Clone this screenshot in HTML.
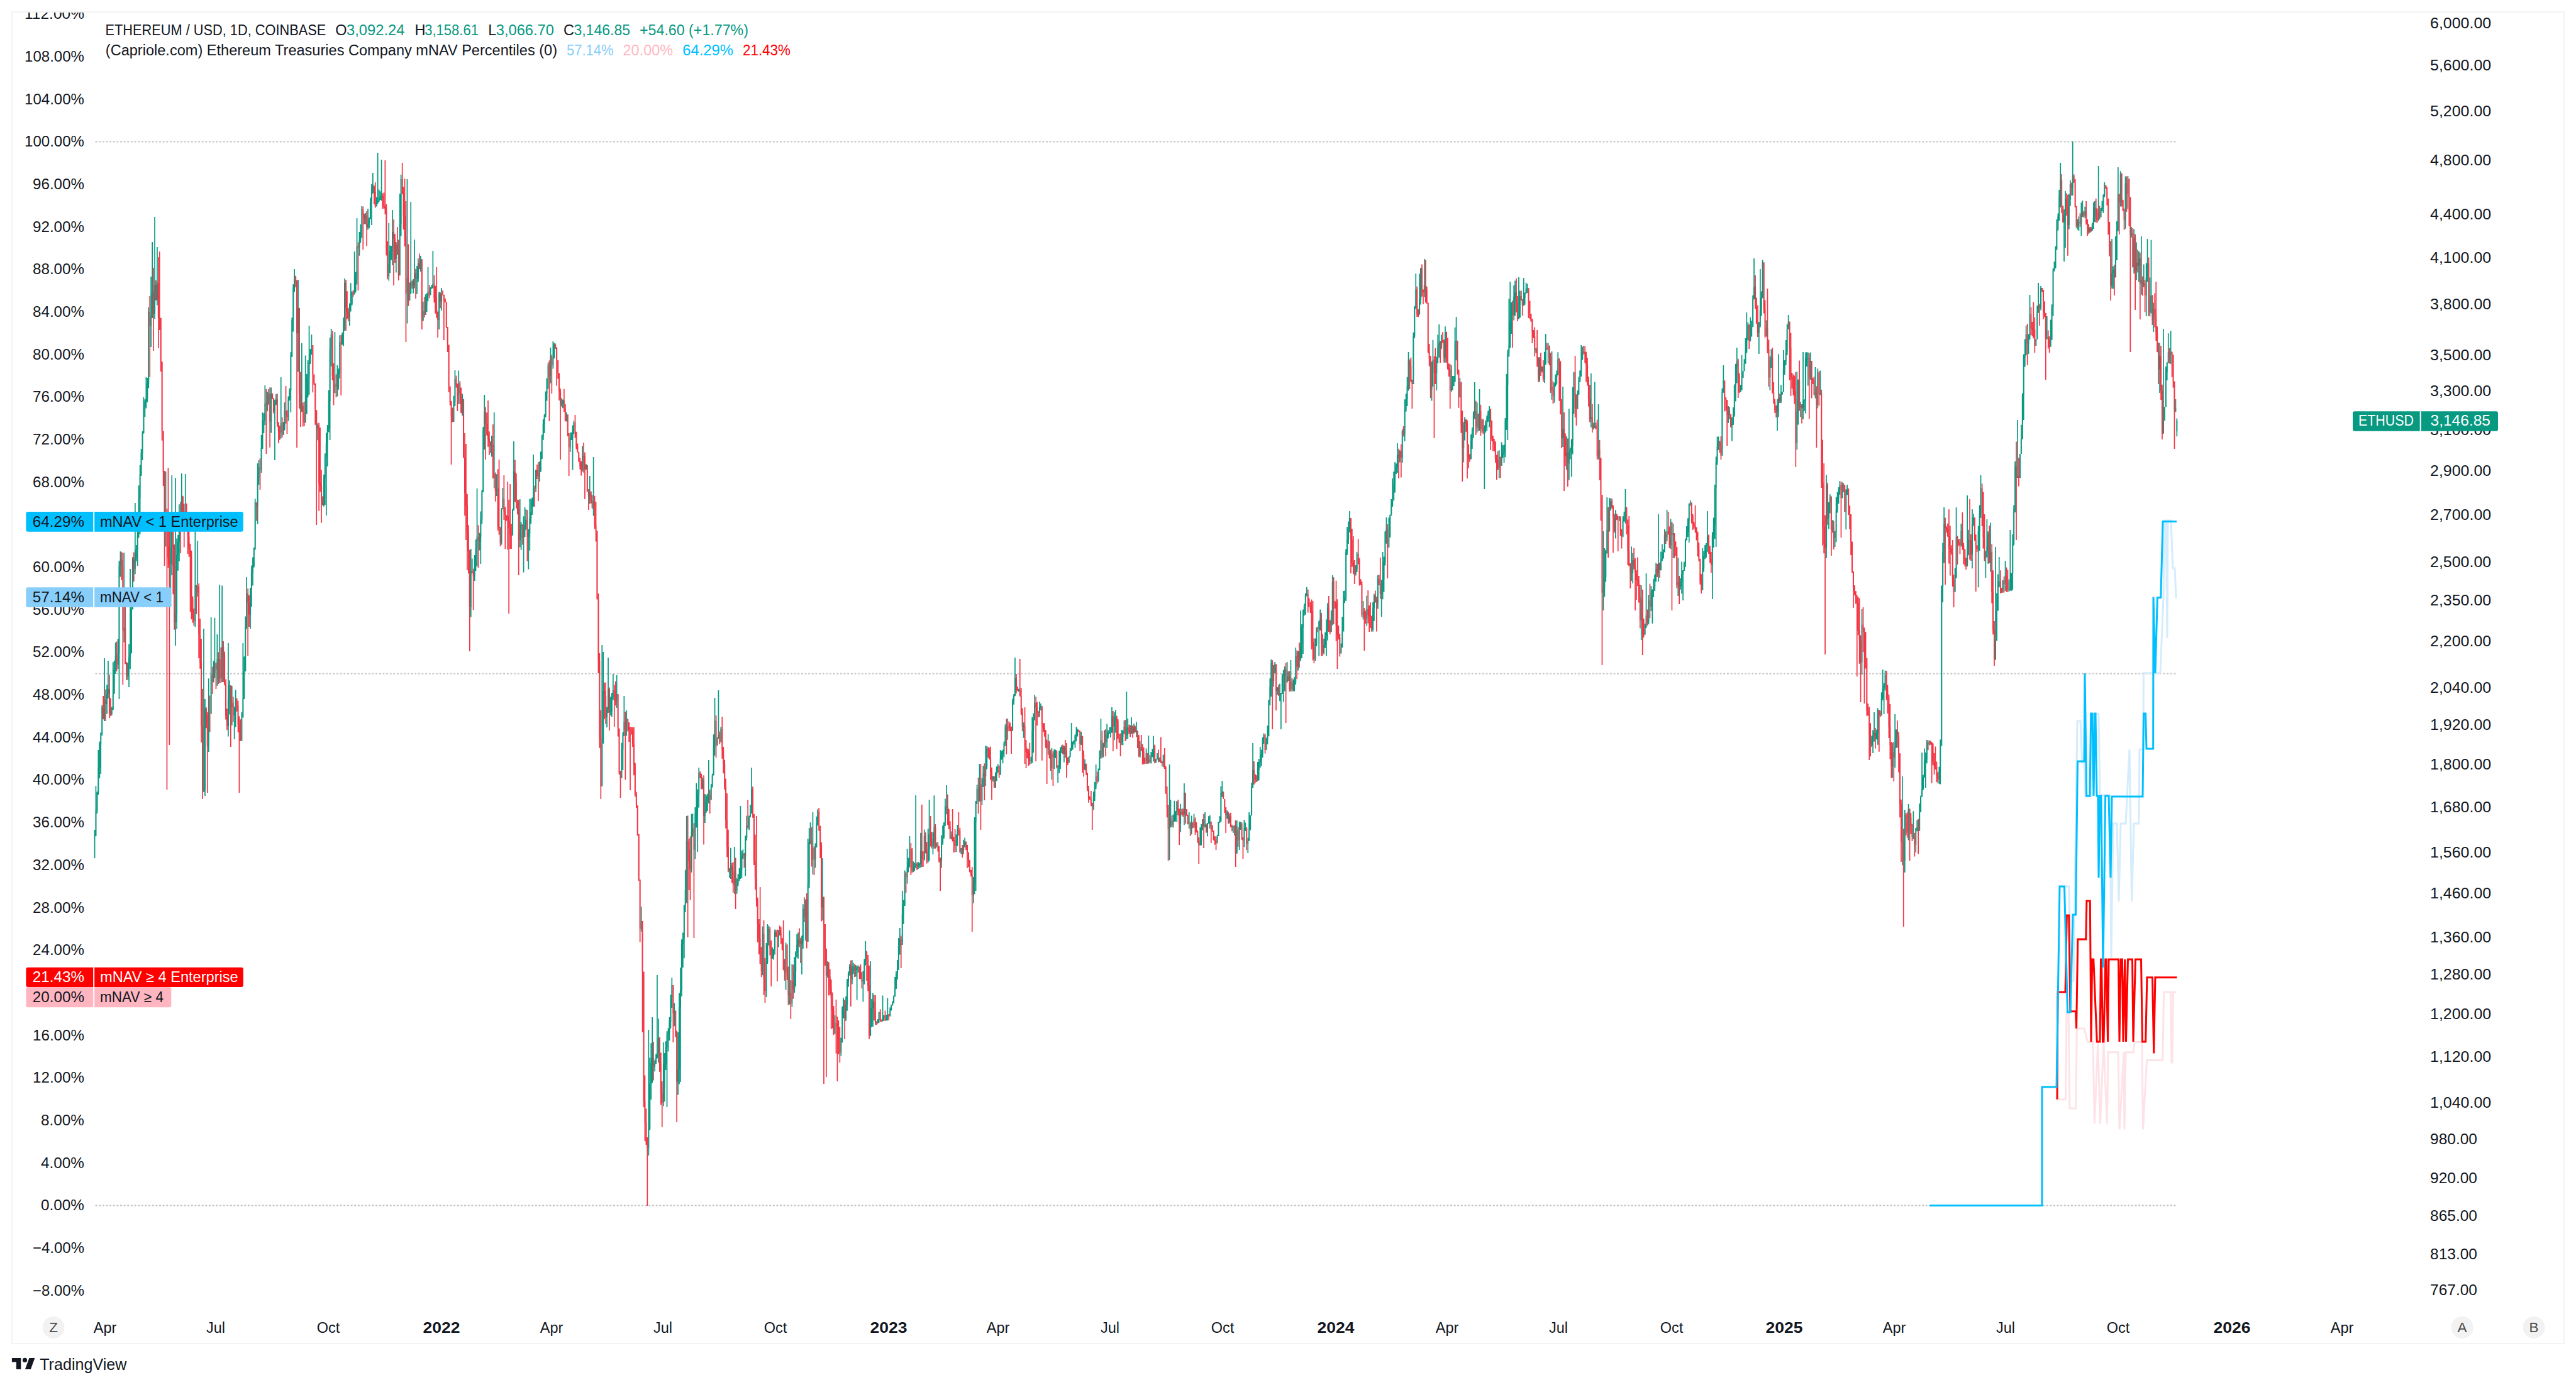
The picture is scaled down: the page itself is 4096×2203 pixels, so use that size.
<!DOCTYPE html>
<html><head><meta charset="utf-8"><title>ETHUSD</title>
<style>html,body{margin:0;padding:0;background:#fff;width:4096px;height:2203px;overflow:hidden}
svg{position:absolute;left:0;top:0;font-family:"Liberation Sans",sans-serif}</style></head>
<body><svg width="4096" height="2203" viewBox="0 0 4096 2203">
<defs><clipPath id="cp"><rect x="0" y="20" width="4096" height="2117"/></clipPath></defs><rect width="4096" height="2203" fill="#ffffff"/>
<rect x="19" y="19" width="4058" height="2118" fill="none" stroke="#f0f0f0" stroke-width="1.6"/><line x1="150" y1="225.4" x2="3461" y2="225.4" stroke="#c4c4c4" stroke-width="2" stroke-dasharray="3 2.64" stroke-dashoffset="-1.5"/><line x1="150" y1="1071.4" x2="3461" y2="1071.4" stroke="#c4c4c4" stroke-width="2" stroke-dasharray="3 2.64" stroke-dashoffset="-1.5"/><line x1="150" y1="1917.4" x2="3461" y2="1917.4" stroke="#c4c4c4" stroke-width="2" stroke-dasharray="3 2.64" stroke-dashoffset="-1.5"/><g clip-path="url(#cp)"><text x="134.0" y="30.2" fill="#131722" font-size="23.5" text-anchor="end" textLength="95.0" lengthAdjust="spacingAndGlyphs">112.00%</text><text x="134.0" y="97.9" fill="#131722" font-size="23.5" text-anchor="end" textLength="95.0" lengthAdjust="spacingAndGlyphs">108.00%</text><text x="134.0" y="165.6" fill="#131722" font-size="23.5" text-anchor="end" textLength="95.0" lengthAdjust="spacingAndGlyphs">104.00%</text><text x="134.0" y="233.2" fill="#131722" font-size="23.5" text-anchor="end" textLength="95.0" lengthAdjust="spacingAndGlyphs">100.00%</text><text x="134.0" y="300.9" fill="#131722" font-size="23.5" text-anchor="end" textLength="82.0" lengthAdjust="spacingAndGlyphs">96.00%</text><text x="134.0" y="368.6" fill="#131722" font-size="23.5" text-anchor="end" textLength="82.0" lengthAdjust="spacingAndGlyphs">92.00%</text><text x="134.0" y="436.3" fill="#131722" font-size="23.5" text-anchor="end" textLength="82.0" lengthAdjust="spacingAndGlyphs">88.00%</text><text x="134.0" y="504.0" fill="#131722" font-size="23.5" text-anchor="end" textLength="82.0" lengthAdjust="spacingAndGlyphs">84.00%</text><text x="134.0" y="571.6" fill="#131722" font-size="23.5" text-anchor="end" textLength="82.0" lengthAdjust="spacingAndGlyphs">80.00%</text><text x="134.0" y="639.3" fill="#131722" font-size="23.5" text-anchor="end" textLength="82.0" lengthAdjust="spacingAndGlyphs">76.00%</text><text x="134.0" y="707.0" fill="#131722" font-size="23.5" text-anchor="end" textLength="82.0" lengthAdjust="spacingAndGlyphs">72.00%</text><text x="134.0" y="774.7" fill="#131722" font-size="23.5" text-anchor="end" textLength="82.0" lengthAdjust="spacingAndGlyphs">68.00%</text><text x="134.0" y="842.4" fill="#131722" font-size="23.5" text-anchor="end" textLength="82.0" lengthAdjust="spacingAndGlyphs">64.00%</text><text x="134.0" y="910.1" fill="#131722" font-size="23.5" text-anchor="end" textLength="82.0" lengthAdjust="spacingAndGlyphs">60.00%</text><text x="134.0" y="977.7" fill="#131722" font-size="23.5" text-anchor="end" textLength="82.0" lengthAdjust="spacingAndGlyphs">56.00%</text><text x="134.0" y="1045.4" fill="#131722" font-size="23.5" text-anchor="end" textLength="82.0" lengthAdjust="spacingAndGlyphs">52.00%</text><text x="134.0" y="1113.1" fill="#131722" font-size="23.5" text-anchor="end" textLength="82.0" lengthAdjust="spacingAndGlyphs">48.00%</text><text x="134.0" y="1180.8" fill="#131722" font-size="23.5" text-anchor="end" textLength="82.0" lengthAdjust="spacingAndGlyphs">44.00%</text><text x="134.0" y="1248.4" fill="#131722" font-size="23.5" text-anchor="end" textLength="82.0" lengthAdjust="spacingAndGlyphs">40.00%</text><text x="134.0" y="1316.1" fill="#131722" font-size="23.5" text-anchor="end" textLength="82.0" lengthAdjust="spacingAndGlyphs">36.00%</text><text x="134.0" y="1383.8" fill="#131722" font-size="23.5" text-anchor="end" textLength="82.0" lengthAdjust="spacingAndGlyphs">32.00%</text><text x="134.0" y="1451.5" fill="#131722" font-size="23.5" text-anchor="end" textLength="82.0" lengthAdjust="spacingAndGlyphs">28.00%</text><text x="134.0" y="1519.2" fill="#131722" font-size="23.5" text-anchor="end" textLength="82.0" lengthAdjust="spacingAndGlyphs">24.00%</text><text x="134.0" y="1586.8" fill="#131722" font-size="23.5" text-anchor="end" textLength="82.0" lengthAdjust="spacingAndGlyphs">20.00%</text><text x="134.0" y="1654.5" fill="#131722" font-size="23.5" text-anchor="end" textLength="82.0" lengthAdjust="spacingAndGlyphs">16.00%</text><text x="134.0" y="1722.2" fill="#131722" font-size="23.5" text-anchor="end" textLength="82.0" lengthAdjust="spacingAndGlyphs">12.00%</text><text x="134.0" y="1789.9" fill="#131722" font-size="23.5" text-anchor="end" textLength="69.0" lengthAdjust="spacingAndGlyphs">8.00%</text><text x="134.0" y="1857.6" fill="#131722" font-size="23.5" text-anchor="end" textLength="69.0" lengthAdjust="spacingAndGlyphs">4.00%</text><text x="134.0" y="1925.2" fill="#131722" font-size="23.5" text-anchor="end" textLength="69.0" lengthAdjust="spacingAndGlyphs">0.00%</text><text x="134.0" y="1992.9" fill="#131722" font-size="23.5" text-anchor="end" textLength="82.0" lengthAdjust="spacingAndGlyphs">−4.00%</text><text x="134.0" y="2060.6" fill="#131722" font-size="23.5" text-anchor="end" textLength="82.0" lengthAdjust="spacingAndGlyphs">−8.00%</text></g><text x="3864.0" y="44.6" fill="#131722" font-size="23.5" textLength="97.2" lengthAdjust="spacingAndGlyphs">6,000.00</text><text x="3864.0" y="112.2" fill="#131722" font-size="23.5" textLength="97.2" lengthAdjust="spacingAndGlyphs">5,600.00</text><text x="3864.0" y="184.8" fill="#131722" font-size="23.5" textLength="97.2" lengthAdjust="spacingAndGlyphs">5,200.00</text><text x="3864.0" y="263.3" fill="#131722" font-size="23.5" textLength="97.2" lengthAdjust="spacingAndGlyphs">4,800.00</text><text x="3864.0" y="348.5" fill="#131722" font-size="23.5" textLength="97.2" lengthAdjust="spacingAndGlyphs">4,400.00</text><text x="3864.0" y="417.7" fill="#131722" font-size="23.5" textLength="97.2" lengthAdjust="spacingAndGlyphs">4,100.00</text><text x="3864.0" y="492.1" fill="#131722" font-size="23.5" textLength="97.2" lengthAdjust="spacingAndGlyphs">3,800.00</text><text x="3864.0" y="572.7" fill="#131722" font-size="23.5" textLength="97.2" lengthAdjust="spacingAndGlyphs">3,500.00</text><text x="3864.0" y="630.4" fill="#131722" font-size="23.5" textLength="97.2" lengthAdjust="spacingAndGlyphs">3,300.00</text><text x="3864.0" y="691.6" fill="#131722" font-size="23.5" textLength="97.2" lengthAdjust="spacingAndGlyphs">3,100.00</text><text x="3864.0" y="756.9" fill="#131722" font-size="23.5" textLength="97.2" lengthAdjust="spacingAndGlyphs">2,900.00</text><text x="3864.0" y="826.9" fill="#131722" font-size="23.5" textLength="97.2" lengthAdjust="spacingAndGlyphs">2,700.00</text><text x="3864.0" y="902.3" fill="#131722" font-size="23.5" textLength="97.2" lengthAdjust="spacingAndGlyphs">2,500.00</text><text x="3864.0" y="963.0" fill="#131722" font-size="23.5" textLength="97.2" lengthAdjust="spacingAndGlyphs">2,350.00</text><text x="3864.0" y="1027.6" fill="#131722" font-size="23.5" textLength="97.2" lengthAdjust="spacingAndGlyphs">2,200.00</text><text x="3864.0" y="1101.6" fill="#131722" font-size="23.5" textLength="97.2" lengthAdjust="spacingAndGlyphs">2,040.00</text><text x="3864.0" y="1161.0" fill="#131722" font-size="23.5" textLength="97.2" lengthAdjust="spacingAndGlyphs">1,920.00</text><text x="3864.0" y="1224.2" fill="#131722" font-size="23.5" textLength="97.2" lengthAdjust="spacingAndGlyphs">1,800.00</text><text x="3864.0" y="1291.8" fill="#131722" font-size="23.5" textLength="97.2" lengthAdjust="spacingAndGlyphs">1,680.00</text><text x="3864.0" y="1364.4" fill="#131722" font-size="23.5" textLength="97.2" lengthAdjust="spacingAndGlyphs">1,560.00</text><text x="3864.0" y="1429.3" fill="#131722" font-size="23.5" textLength="97.2" lengthAdjust="spacingAndGlyphs">1,460.00</text><text x="3864.0" y="1498.8" fill="#131722" font-size="23.5" textLength="97.2" lengthAdjust="spacingAndGlyphs">1,360.00</text><text x="3864.0" y="1558.2" fill="#131722" font-size="23.5" textLength="97.2" lengthAdjust="spacingAndGlyphs">1,280.00</text><text x="3864.0" y="1621.4" fill="#131722" font-size="23.5" textLength="97.2" lengthAdjust="spacingAndGlyphs">1,200.00</text><text x="3864.0" y="1689.0" fill="#131722" font-size="23.5" textLength="97.2" lengthAdjust="spacingAndGlyphs">1,120.00</text><text x="3864.0" y="1761.6" fill="#131722" font-size="23.5" textLength="97.2" lengthAdjust="spacingAndGlyphs">1,040.00</text><text x="3864.0" y="1819.8" fill="#131722" font-size="23.5" textLength="75.0" lengthAdjust="spacingAndGlyphs">980.00</text><text x="3864.0" y="1881.7" fill="#131722" font-size="23.5" textLength="75.0" lengthAdjust="spacingAndGlyphs">920.00</text><text x="3864.0" y="1942.1" fill="#131722" font-size="23.5" textLength="75.0" lengthAdjust="spacingAndGlyphs">865.00</text><text x="3864.0" y="2002.9" fill="#131722" font-size="23.5" textLength="75.0" lengthAdjust="spacingAndGlyphs">813.00</text><text x="3864.0" y="2059.9" fill="#131722" font-size="23.5" textLength="75.0" lengthAdjust="spacingAndGlyphs">767.00</text><text x="167.0" y="2120.0" fill="#131722" font-size="23.5" text-anchor="middle">Apr</text><text x="343.0" y="2120.0" fill="#131722" font-size="23.5" text-anchor="middle">Jul</text><text x="522.0" y="2120.0" fill="#131722" font-size="23.5" text-anchor="middle">Oct</text><text x="702.0" y="2120.0" fill="#131722" font-size="23.5" text-anchor="middle" font-weight="bold" textLength="59.0" lengthAdjust="spacingAndGlyphs">2022</text><text x="877.0" y="2120.0" fill="#131722" font-size="23.5" text-anchor="middle">Apr</text><text x="1054.0" y="2120.0" fill="#131722" font-size="23.5" text-anchor="middle">Jul</text><text x="1233.0" y="2120.0" fill="#131722" font-size="23.5" text-anchor="middle">Oct</text><text x="1413.0" y="2120.0" fill="#131722" font-size="23.5" text-anchor="middle" font-weight="bold" textLength="59.0" lengthAdjust="spacingAndGlyphs">2023</text><text x="1587.0" y="2120.0" fill="#131722" font-size="23.5" text-anchor="middle">Apr</text><text x="1765.0" y="2120.0" fill="#131722" font-size="23.5" text-anchor="middle">Jul</text><text x="1944.0" y="2120.0" fill="#131722" font-size="23.5" text-anchor="middle">Oct</text><text x="2124.0" y="2120.0" fill="#131722" font-size="23.5" text-anchor="middle" font-weight="bold" textLength="59.0" lengthAdjust="spacingAndGlyphs">2024</text><text x="2301.0" y="2120.0" fill="#131722" font-size="23.5" text-anchor="middle">Apr</text><text x="2478.0" y="2120.0" fill="#131722" font-size="23.5" text-anchor="middle">Jul</text><text x="2658.0" y="2120.0" fill="#131722" font-size="23.5" text-anchor="middle">Oct</text><text x="2837.0" y="2120.0" fill="#131722" font-size="23.5" text-anchor="middle" font-weight="bold" textLength="59.0" lengthAdjust="spacingAndGlyphs">2025</text><text x="3012.0" y="2120.0" fill="#131722" font-size="23.5" text-anchor="middle">Apr</text><text x="3189.0" y="2120.0" fill="#131722" font-size="23.5" text-anchor="middle">Jul</text><text x="3368.0" y="2120.0" fill="#131722" font-size="23.5" text-anchor="middle">Oct</text><text x="3549.0" y="2120.0" fill="#131722" font-size="23.5" text-anchor="middle" font-weight="bold" textLength="59.0" lengthAdjust="spacingAndGlyphs">2026</text><text x="3724.0" y="2120.0" fill="#131722" font-size="23.5" text-anchor="middle">Apr</text><circle cx="85" cy="2111.5" r="17.5" fill="#f2f2f2"/><text x="85.0" y="2118.5" fill="#4a4a4a" font-size="22.5" text-anchor="middle">Z</text><circle cx="3915" cy="2111.5" r="17.5" fill="#f2f2f2"/><text x="3915.0" y="2118.5" fill="#4a4a4a" font-size="22.5" text-anchor="middle">A</text><circle cx="4029" cy="2111.5" r="17.5" fill="#f2f2f2"/><text x="4029.0" y="2118.5" fill="#4a4a4a" font-size="22.5" text-anchor="middle">B</text>
<path fill="#089981" d="M149.7 1320.1h1.7v44.9h-1.7zM149.5 1330.0h2.1v2.0h-2.1zM151.6 1250.0h1.7v80.0h-1.7zM151.4 1288.8h2.1v41.2h-2.1zM153.6 1259.2h1.7v34.8h-1.7zM153.4 1260.5h2.1v28.3h-2.1zM155.5 1193.0h1.7v71.3h-1.7zM155.3 1220.7h2.1v39.7h-2.1zM157.5 1179.4h1.7v58.4h-1.7zM157.3 1183.6h2.1v37.2h-2.1zM159.4 1164.9h1.7v66.1h-1.7zM159.2 1166.2h2.1v17.4h-2.1zM161.4 1121.6h1.7v48.5h-1.7zM161.2 1125.3h2.1v40.8h-2.1zM165.3 1047.0h1.7v99.9h-1.7zM165.1 1113.9h2.1v29.6h-2.1zM169.2 1088.9h1.7v46.9h-1.7zM169.0 1103.4h2.1v16.6h-2.1zM171.1 1051.0h1.7v60.0h-1.7zM170.9 1095.8h2.1v7.6h-2.1zM176.9 1124.2h1.7v13.6h-1.7zM176.7 1129.1h2.1v5.8h-2.1zM178.9 1053.2h1.7v76.0h-1.7zM178.7 1103.6h2.1v25.5h-2.1zM180.8 1050.8h1.7v52.8h-1.7zM180.6 1064.8h2.1v38.9h-2.1zM182.8 1022.0h1.7v50.1h-1.7zM182.6 1044.0h2.1v20.8h-2.1zM186.7 1016.0h1.7v48.1h-1.7zM186.5 1038.8h2.1v18.3h-2.1zM188.6 892.3h1.7v219.7h-1.7zM188.4 900.2h2.1v138.5h-2.1zM190.6 877.0h1.7v40.5h-1.7zM190.4 890.4h2.1v9.8h-2.1zM196.4 879.3h1.7v142.4h-1.7zM196.2 998.7h2.1v4.6h-2.1zM202.3 1054.0h1.7v27.7h-1.7zM202.1 1054.7h2.1v20.5h-2.1zM204.2 1024.4h1.7v68.6h-1.7zM204.0 1045.2h2.1v9.5h-2.1zM206.2 905.0h1.7v159.2h-1.7zM206.0 1039.3h2.1v5.9h-2.1zM208.1 956.1h1.7v83.2h-1.7zM207.9 969.5h2.1v69.8h-2.1zM210.1 885.9h1.7v83.6h-1.7zM209.9 888.6h2.1v80.8h-2.1zM214.0 800.0h1.7v113.2h-1.7zM213.8 888.7h2.1v16.0h-2.1zM215.9 866.9h1.7v26.0h-1.7zM215.7 874.0h2.1v14.7h-2.1zM217.9 829.2h1.7v70.8h-1.7zM217.7 842.2h2.1v31.8h-2.1zM219.8 772.2h1.7v83.2h-1.7zM219.6 792.2h2.1v50.1h-2.1zM221.8 739.8h1.7v110.2h-1.7zM221.6 754.6h2.1v37.5h-2.1zM223.7 714.0h1.7v42.9h-1.7zM223.5 720.4h2.1v34.2h-2.1zM225.7 686.1h1.7v45.9h-1.7zM225.5 688.8h2.1v31.7h-2.1zM227.6 631.8h1.7v57.7h-1.7zM227.4 647.3h2.1v41.4h-2.1zM229.6 635.3h1.7v27.7h-1.7zM229.4 639.3h2.1v8.0h-2.1zM231.5 600.0h1.7v49.4h-1.7zM231.3 633.5h2.1v5.9h-2.1zM233.5 601.0h1.7v39.0h-1.7zM233.3 611.0h2.1v22.5h-2.1zM235.4 488.6h1.7v128.8h-1.7zM235.2 496.1h2.1v114.8h-2.1zM239.3 440.0h1.7v111.9h-1.7zM239.1 503.9h2.1v14.3h-2.1zM241.3 385.0h1.7v121.0h-1.7zM241.1 464.3h2.1v39.6h-2.1zM245.2 345.0h1.7v162.2h-1.7zM245.0 453.3h2.1v45.7h-2.1zM249.1 393.0h1.7v92.6h-1.7zM248.9 450.1h2.1v26.9h-2.1zM262.7 750.0h1.7v119.4h-1.7zM262.5 816.1h2.1v6.2h-2.1zM270.5 822.9h1.7v142.1h-1.7zM270.3 871.8h2.1v25.8h-2.1zM272.4 756.1h1.7v158.9h-1.7zM272.2 845.4h2.1v26.4h-2.1zM278.3 760.0h1.7v267.0h-1.7zM278.1 976.8h2.1v13.1h-2.1zM280.2 856.4h1.7v144.1h-1.7zM280.0 882.6h2.1v94.2h-2.1zM282.2 851.1h1.7v56.7h-1.7zM282.0 861.9h2.1v20.6h-2.1zM284.1 802.2h1.7v90.7h-1.7zM283.9 820.5h2.1v41.5h-2.1zM288.0 753.0h1.7v82.5h-1.7zM287.8 790.6h2.1v32.4h-2.1zM293.9 754.1h1.7v77.0h-1.7zM293.7 813.8h2.1v8.5h-2.1zM309.5 845.0h1.7v151.9h-1.7zM309.3 931.0h2.1v56.8h-2.1zM313.4 860.0h1.7v89.0h-1.7zM313.2 932.5h2.1v9.0h-2.1zM323.1 1000.0h1.7v260.1h-1.7zM322.9 1256.3h2.1v1.1h-2.1zM325.1 1111.9h1.7v154.3h-1.7zM324.9 1127.4h2.1v128.9h-2.1zM330.9 1079.2h1.7v116.7h-1.7zM330.7 1135.0h2.1v52.3h-2.1zM334.8 982.0h1.7v153.6h-1.7zM334.6 1073.0h2.1v62.6h-2.1zM338.7 1051.1h1.7v34.4h-1.7zM338.5 1070.3h2.1v14.2h-2.1zM340.6 982.7h1.7v95.9h-1.7zM340.4 1054.7h2.1v15.5h-2.1zM344.5 1009.1h1.7v81.9h-1.7zM344.3 1048.6h2.1v17.2h-2.1zM348.4 930.0h1.7v156.5h-1.7zM348.2 1048.3h2.1v32.1h-2.1zM352.3 931.6h1.7v153.5h-1.7zM352.1 1029.0h2.1v49.1h-2.1zM362.1 1023.0h1.7v148.6h-1.7zM361.9 1112.6h2.1v42.3h-2.1zM364.0 1082.3h1.7v54.3h-1.7zM363.8 1089.9h2.1v22.7h-2.1zM367.9 1091.0h1.7v63.1h-1.7zM367.7 1117.8h2.1v7.4h-2.1zM371.8 1124.0h1.7v51.9h-1.7zM371.6 1133.1h2.1v5.2h-2.1zM373.8 1097.2h1.7v59.4h-1.7zM373.6 1110.8h2.1v22.3h-2.1zM383.5 1132.4h1.7v46.0h-1.7zM383.3 1141.4h2.1v36.9h-2.1zM385.5 1023.0h1.7v118.4h-1.7zM385.3 1112.0h2.1v29.4h-2.1zM387.4 1044.2h1.7v67.8h-1.7zM387.2 1067.7h2.1v44.4h-2.1zM389.4 980.5h1.7v87.4h-1.7zM389.2 996.7h2.1v70.9h-2.1zM391.3 918.0h1.7v82.2h-1.7zM391.1 943.4h2.1v53.3h-2.1zM397.2 935.1h1.7v64.9h-1.7zM397.0 937.1h2.1v40.4h-2.1zM399.1 899.5h1.7v65.7h-1.7zM398.9 911.7h2.1v25.4h-2.1zM401.1 886.4h1.7v45.2h-1.7zM400.9 900.6h2.1v11.1h-2.1zM403.0 871.1h1.7v31.4h-1.7zM402.8 871.6h2.1v29.0h-2.1zM404.9 793.6h1.7v80.8h-1.7zM404.7 799.2h2.1v72.4h-2.1zM408.8 737.1h1.7v96.4h-1.7zM408.6 761.1h2.1v44.5h-2.1zM410.8 732.0h1.7v39.2h-1.7zM410.6 743.2h2.1v17.9h-2.1zM414.7 692.1h1.7v59.9h-1.7zM414.5 712.6h2.1v35.0h-2.1zM416.6 656.0h1.7v57.9h-1.7zM416.4 669.6h2.1v43.0h-2.1zM418.6 657.3h1.7v31.8h-1.7zM418.4 668.4h2.1v1.2h-2.1zM420.5 613.0h1.7v63.3h-1.7zM420.3 641.8h2.1v26.6h-2.1zM424.4 623.0h1.7v31.2h-1.7zM424.2 640.1h2.1v6.0h-2.1zM426.4 618.8h1.7v24.6h-1.7zM426.2 626.2h2.1v13.9h-2.1zM430.3 616.6h1.7v71.8h-1.7zM430.1 625.8h2.1v44.6h-2.1zM436.1 635.7h1.7v96.3h-1.7zM435.9 643.3h2.1v11.1h-2.1zM438.1 627.0h1.7v17.2h-1.7zM437.9 635.3h2.1v8.0h-2.1zM445.9 600.0h1.7v97.5h-1.7zM445.7 673.1h2.1v14.5h-2.1zM449.8 671.0h1.7v21.1h-1.7zM449.6 680.1h2.1v11.3h-2.1zM451.7 640.1h1.7v44.3h-1.7zM451.5 653.8h2.1v26.3h-2.1zM457.6 630.5h1.7v39.3h-1.7zM457.4 635.8h2.1v27.4h-2.1zM459.5 617.8h1.7v19.4h-1.7zM459.3 622.0h2.1v13.8h-2.1zM461.5 560.3h1.7v95.7h-1.7zM461.3 567.4h2.1v54.6h-2.1zM463.4 505.3h1.7v62.6h-1.7zM463.2 509.5h2.1v58.0h-2.1zM465.4 452.3h1.7v75.3h-1.7zM465.2 459.0h2.1v50.5h-2.1zM467.3 428.0h1.7v36.3h-1.7zM467.1 439.7h2.1v19.3h-2.1zM473.2 444.9h1.7v146.7h-1.7zM473.0 489.8h2.1v40.5h-2.1zM479.0 546.0h1.7v109.3h-1.7zM478.8 646.0h2.1v6.3h-2.1zM484.8 565.5h1.7v107.0h-1.7zM484.6 658.6h2.1v13.8h-2.1zM486.8 594.7h1.7v63.9h-1.7zM486.6 629.5h2.1v29.1h-2.1zM488.7 572.9h1.7v59.4h-1.7zM488.5 600.6h2.1v28.9h-2.1zM490.7 518.0h1.7v109.8h-1.7zM490.5 576.2h2.1v24.3h-2.1zM492.6 555.0h1.7v24.0h-1.7zM492.4 562.8h2.1v13.4h-2.1zM494.6 532.3h1.7v31.7h-1.7zM494.4 549.0h2.1v13.8h-2.1zM504.3 673.3h1.7v27.0h-1.7zM504.1 675.7h2.1v6.3h-2.1zM514.1 754.7h1.7v51.1h-1.7zM513.9 759.9h2.1v43.7h-2.1zM516.0 721.3h1.7v81.7h-1.7zM515.8 727.3h2.1v32.6h-2.1zM518.0 688.5h1.7v131.5h-1.7zM517.8 705.3h2.1v22.0h-2.1zM519.9 676.1h1.7v65.9h-1.7zM519.7 681.4h2.1v23.9h-2.1zM521.9 620.5h1.7v67.0h-1.7zM521.7 637.9h2.1v43.5h-2.1zM523.8 537.1h1.7v162.9h-1.7zM523.6 554.9h2.1v83.0h-2.1zM525.8 523.0h1.7v59.8h-1.7zM525.6 532.3h2.1v22.6h-2.1zM531.6 528.0h1.7v97.3h-1.7zM531.4 610.4h2.1v14.7h-2.1zM535.5 581.0h1.7v49.4h-1.7zM535.3 594.0h2.1v21.9h-2.1zM537.5 586.3h1.7v33.5h-1.7zM537.3 589.3h2.1v4.7h-2.1zM539.4 533.3h1.7v68.6h-1.7zM539.2 544.0h2.1v45.3h-2.1zM543.3 529.1h1.7v19.4h-1.7zM543.1 531.0h2.1v15.7h-2.1zM545.3 504.9h1.7v45.5h-1.7zM545.1 517.7h2.1v13.4h-2.1zM547.2 443.0h1.7v82.9h-1.7zM547.0 449.8h2.1v67.9h-2.1zM555.0 482.6h1.7v35.4h-1.7zM554.8 486.8h2.1v19.5h-2.1zM556.9 450.2h1.7v45.3h-1.7zM556.7 483.2h2.1v3.6h-2.1zM558.9 463.3h1.7v22.2h-1.7zM558.7 464.8h2.1v18.4h-2.1zM562.8 400.0h1.7v68.6h-1.7zM562.6 463.2h2.1v5.4h-2.1zM564.7 432.5h1.7v32.7h-1.7zM564.5 444.2h2.1v18.9h-2.1zM566.7 347.0h1.7v105.6h-1.7zM566.5 391.1h2.1v53.1h-2.1zM570.6 369.1h1.7v37.6h-1.7zM570.4 381.0h2.1v13.8h-2.1zM572.5 356.8h1.7v29.1h-1.7zM572.3 367.6h2.1v13.4h-2.1zM574.5 328.0h1.7v50.0h-1.7zM574.3 333.2h2.1v34.4h-2.1zM580.3 338.7h1.7v18.0h-1.7zM580.1 342.8h2.1v5.2h-2.1zM584.2 331.9h1.7v33.7h-1.7zM584.0 356.1h2.1v5.2h-2.1zM586.2 346.0h1.7v17.2h-1.7zM586.0 348.3h2.1v7.8h-2.1zM588.1 314.5h1.7v34.0h-1.7zM587.9 320.7h2.1v27.6h-2.1zM590.1 292.7h1.7v65.3h-1.7zM589.9 306.4h2.1v14.3h-2.1zM592.0 275.0h1.7v32.7h-1.7zM591.8 296.4h2.1v10.0h-2.1zM597.9 313.4h1.7v15.0h-1.7zM597.7 322.8h2.1v5.7h-2.1zM599.8 243.0h1.7v81.0h-1.7zM599.6 320.1h2.1v2.6h-2.1zM601.8 301.5h1.7v19.6h-1.7zM601.6 317.5h2.1v2.6h-2.1zM603.7 304.2h1.7v13.9h-1.7zM603.5 314.8h2.1v2.6h-2.1zM605.7 254.0h1.7v65.3h-1.7zM605.5 311.9h2.1v2.9h-2.1zM617.4 355.0h1.7v91.5h-1.7zM617.2 419.9h2.1v19.9h-2.1zM619.3 390.6h1.7v43.5h-1.7zM619.1 399.7h2.1v20.1h-2.1zM621.3 390.9h1.7v22.8h-1.7zM621.1 392.3h2.1v7.4h-2.1zM623.2 334.0h1.7v87.9h-1.7zM623.0 369.0h2.1v23.3h-2.1zM629.0 385.0h1.7v48.4h-1.7zM628.8 388.6h2.1v23.1h-2.1zM634.9 308.0h1.7v130.3h-1.7zM634.7 355.9h2.1v82.4h-2.1zM636.8 277.8h1.7v97.6h-1.7zM636.6 284.8h2.1v71.1h-2.1zM646.6 285.0h1.7v229.4h-1.7zM646.4 441.8h2.1v25.3h-2.1zM650.5 449.4h1.7v28.8h-1.7zM650.3 467.3h2.1v10.9h-2.1zM652.4 321.0h1.7v146.3h-1.7zM652.2 448.3h2.1v19.0h-2.1zM656.3 444.1h1.7v22.4h-1.7zM656.1 453.0h2.1v1.7h-2.1zM658.3 381.0h1.7v77.5h-1.7zM658.1 434.5h2.1v18.5h-2.1zM662.2 423.1h1.7v44.7h-1.7zM662.0 443.0h2.1v1.0h-2.1zM664.1 411.1h1.7v37.5h-1.7zM663.9 418.4h2.1v24.6h-2.1zM668.0 407.0h1.7v25.0h-1.7zM667.8 414.2h2.1v13.0h-2.1zM671.9 479.7h1.7v30.9h-1.7zM671.7 495.1h2.1v15.3h-2.1zM675.8 468.3h1.7v32.6h-1.7zM675.6 484.8h2.1v16.1h-2.1zM677.8 466.2h1.7v29.8h-1.7zM677.6 470.9h2.1v14.0h-2.1zM679.7 425.0h1.7v54.0h-1.7zM679.5 463.6h2.1v7.3h-2.1zM683.6 456.7h1.7v12.8h-1.7zM683.4 459.6h2.1v9.9h-2.1zM685.6 453.3h1.7v6.3h-1.7zM685.4 453.9h2.1v5.7h-2.1zM687.5 399.0h1.7v59.3h-1.7zM687.3 451.4h2.1v2.5h-2.1zM697.3 464.0h1.7v60.1h-1.7zM697.1 467.0h2.1v42.2h-2.1zM701.1 458.0h1.7v36.0h-1.7zM701.0 468.6h2.1v10.9h-2.1zM720.6 629.5h1.7v41.6h-1.7zM720.4 639.2h2.1v31.9h-2.1zM722.6 589.0h1.7v57.0h-1.7zM722.4 603.0h2.1v36.2h-2.1zM728.4 589.6h1.7v52.9h-1.7zM728.2 609.4h2.1v19.8h-2.1zM734.3 626.5h1.7v34.8h-1.7zM734.1 634.4h2.1v21.5h-2.1zM747.9 873.0h1.7v108.6h-1.7zM747.7 908.5h2.1v57.1h-2.1zM749.9 888.5h1.7v23.7h-1.7zM749.7 908.4h2.1v1.0h-2.1zM753.8 882.9h1.7v41.1h-1.7zM753.6 901.0h2.1v15.7h-2.1zM755.7 858.1h1.7v49.8h-1.7zM755.5 872.6h2.1v28.4h-2.1zM757.7 777.0h1.7v123.4h-1.7zM757.5 853.7h2.1v18.9h-2.1zM761.6 847.8h1.7v27.7h-1.7zM761.4 854.2h2.1v7.4h-2.1zM763.5 813.4h1.7v83.6h-1.7zM763.3 826.2h2.1v28.0h-2.1zM765.5 779.3h1.7v53.9h-1.7zM765.3 783.1h2.1v43.0h-2.1zM767.4 679.0h1.7v104.1h-1.7zM767.2 686.1h2.1v97.0h-2.1zM769.4 628.0h1.7v87.2h-1.7zM769.2 655.5h2.1v30.6h-2.1zM781.0 693.1h1.7v33.4h-1.7zM780.8 707.9h2.1v1.0h-2.1zM784.9 656.0h1.7v120.6h-1.7zM784.7 754.0h2.1v6.3h-2.1zM788.8 754.3h1.7v34.6h-1.7zM788.6 777.2h2.1v3.7h-2.1zM796.6 808.2h1.7v58.4h-1.7zM796.4 809.5h2.1v53.6h-2.1zM798.6 776.0h1.7v34.1h-1.7zM798.4 793.1h2.1v16.4h-2.1zM814.2 809.4h1.7v42.4h-1.7zM814.0 812.0h2.1v39.8h-2.1zM816.1 702.0h1.7v110.0h-1.7zM815.9 749.9h2.1v62.1h-2.1zM825.9 794.0h1.7v76.5h-1.7zM825.7 841.4h2.1v18.0h-2.1zM827.8 830.3h1.7v44.7h-1.7zM827.6 834.5h2.1v6.9h-2.1zM831.7 821.2h1.7v89.4h-1.7zM831.5 844.2h2.1v11.8h-2.1zM833.7 806.7h1.7v47.2h-1.7zM833.5 835.2h2.1v9.0h-2.1zM835.6 810.2h1.7v32.3h-1.7zM835.4 826.7h2.1v8.5h-2.1zM839.5 841.4h1.7v64.1h-1.7zM839.3 848.3h2.1v5.8h-2.1zM841.5 793.7h1.7v82.1h-1.7zM841.3 824.5h2.1v23.8h-2.1zM843.4 792.9h1.7v40.0h-1.7zM843.2 814.3h2.1v10.2h-2.1zM845.4 791.5h1.7v27.5h-1.7zM845.2 795.5h2.1v18.8h-2.1zM847.3 723.0h1.7v82.8h-1.7zM847.1 777.1h2.1v18.3h-2.1zM851.2 747.3h1.7v35.8h-1.7zM851.0 747.4h2.1v29.8h-2.1zM857.0 733.9h1.7v32.4h-1.7zM856.8 748.7h2.1v8.7h-2.1zM859.0 718.2h1.7v32.6h-1.7zM858.8 730.2h2.1v18.5h-2.1zM860.9 691.5h1.7v38.7h-1.7zM860.7 695.4h2.1v34.7h-2.1zM862.9 666.9h1.7v33.2h-1.7zM862.7 673.7h2.1v21.7h-2.1zM864.8 658.9h1.7v30.1h-1.7zM864.6 660.7h2.1v13.0h-2.1zM866.8 622.6h1.7v41.0h-1.7zM866.6 625.5h2.1v35.2h-2.1zM868.7 601.7h1.7v35.8h-1.7zM868.5 601.7h2.1v23.8h-2.1zM870.7 576.7h1.7v42.0h-1.7zM870.5 581.2h2.1v20.6h-2.1zM874.6 552.7h1.7v57.0h-1.7zM874.4 567.6h2.1v30.8h-2.1zM878.5 543.0h1.7v43.4h-1.7zM878.3 569.7h2.1v11.2h-2.1zM880.4 545.6h1.7v24.7h-1.7zM880.2 549.1h2.1v20.6h-2.1zM892.1 633.1h1.7v13.6h-1.7zM891.9 641.8h2.1v1.6h-2.1zM894.1 635.6h1.7v13.6h-1.7zM893.9 636.4h2.1v5.4h-2.1zM899.9 655.7h1.7v14.7h-1.7zM899.7 659.2h2.1v10.0h-2.1zM905.8 688.0h1.7v31.1h-1.7zM905.6 697.6h2.1v13.9h-2.1zM907.7 687.8h1.7v12.1h-1.7zM907.5 697.6h2.1v1.0h-2.1zM909.7 676.4h1.7v71.1h-1.7zM909.5 679.8h2.1v17.8h-2.1zM911.6 669.3h1.7v21.0h-1.7zM911.4 672.2h2.1v7.6h-2.1zM925.3 709.2h1.7v40.9h-1.7zM925.1 725.2h2.1v22.6h-2.1zM931.1 738.2h1.7v8.8h-1.7zM930.9 739.7h2.1v7.1h-2.1zM936.9 757.0h1.7v44.3h-1.7zM936.7 783.1h2.1v6.7h-2.1zM942.8 727.0h1.7v93.4h-1.7zM942.6 797.0h2.1v9.4h-2.1zM956.4 1026.0h1.7v224.8h-1.7zM956.2 1182.8h2.1v68.0h-2.1zM958.4 1037.0h1.7v145.8h-1.7zM958.2 1099.1h2.1v83.7h-2.1zM964.2 1124.5h1.7v32.5h-1.7zM964.0 1127.6h2.1v13.4h-2.1zM966.2 1046.0h1.7v88.1h-1.7zM966.0 1095.7h2.1v32.0h-2.1zM970.1 1107.9h1.7v30.2h-1.7zM969.9 1131.3h2.1v1.8h-2.1zM972.0 1102.0h1.7v37.9h-1.7zM971.8 1111.0h2.1v20.4h-2.1zM974.0 1072.0h1.7v41.5h-1.7zM973.8 1098.1h2.1v12.9h-2.1zM979.8 1073.9h1.7v52.2h-1.7zM979.6 1104.0h2.1v11.0h-2.1zM987.6 1181.6h1.7v56.1h-1.7zM987.4 1191.5h2.1v45.4h-2.1zM989.6 1164.4h1.7v60.5h-1.7zM989.4 1170.2h2.1v21.3h-2.1zM991.5 1107.0h1.7v63.8h-1.7zM991.3 1148.0h2.1v22.2h-2.1zM995.4 1129.8h1.7v40.8h-1.7zM995.2 1143.2h2.1v17.9h-2.1zM1018.8 1442.2h1.7v39.5h-1.7zM1018.6 1465.1h2.1v12.3h-2.1zM1030.5 1638.0h1.7v200.0h-1.7zM1030.3 1795.7h2.1v30.3h-2.1zM1032.4 1682.4h1.7v115.1h-1.7zM1032.2 1723.7h2.1v72.0h-2.1zM1034.4 1659.2h1.7v89.8h-1.7zM1034.2 1691.2h2.1v32.5h-2.1zM1036.3 1618.0h1.7v104.4h-1.7zM1036.1 1683.0h2.1v8.2h-2.1zM1040.2 1686.5h1.7v17.7h-1.7zM1040.0 1692.3h2.1v4.1h-2.1zM1042.2 1676.7h1.7v15.6h-1.7zM1042.0 1683.3h2.1v9.0h-2.1zM1044.1 1551.0h1.7v132.6h-1.7zM1043.9 1674.8h2.1v8.5h-2.1zM1046.1 1620.2h1.7v70.2h-1.7zM1045.9 1651.0h2.1v23.8h-2.1zM1053.9 1658.0h1.7v101.6h-1.7zM1053.7 1730.7h2.1v23.5h-2.1zM1055.8 1675.0h1.7v77.2h-1.7zM1055.6 1691.7h2.1v39.0h-2.1zM1057.8 1656.2h1.7v45.8h-1.7zM1057.6 1665.4h2.1v26.3h-2.1zM1059.7 1640.0h1.7v121.0h-1.7zM1059.5 1645.2h2.1v20.2h-2.1zM1061.7 1635.5h1.7v37.1h-1.7zM1061.5 1641.6h2.1v3.5h-2.1zM1063.6 1617.8h1.7v37.5h-1.7zM1063.4 1625.0h2.1v16.7h-2.1zM1065.6 1581.9h1.7v53.9h-1.7zM1065.4 1587.4h2.1v37.6h-2.1zM1067.5 1555.0h1.7v47.9h-1.7zM1067.3 1566.9h2.1v20.5h-2.1zM1071.4 1595.4h1.7v36.8h-1.7zM1071.2 1607.4h2.1v4.8h-2.1zM1077.2 1642.0h1.7v99.8h-1.7zM1077.0 1699.8h2.1v20.5h-2.1zM1079.2 1579.7h1.7v144.7h-1.7zM1079.0 1601.9h2.1v97.9h-2.1zM1081.1 1539.1h1.7v181.9h-1.7zM1080.9 1575.2h2.1v26.7h-2.1zM1083.1 1494.3h1.7v90.8h-1.7zM1082.9 1501.2h2.1v74.1h-2.1zM1085.0 1483.5h1.7v55.5h-1.7zM1084.8 1492.7h2.1v8.5h-2.1zM1087.0 1439.4h1.7v84.8h-1.7zM1086.8 1439.5h2.1v53.2h-2.1zM1088.9 1383.7h1.7v67.3h-1.7zM1088.7 1415.5h2.1v24.0h-2.1zM1090.9 1298.0h1.7v138.4h-1.7zM1090.7 1338.4h2.1v77.1h-2.1zM1098.7 1295.0h1.7v92.7h-1.7zM1098.5 1324.2h2.1v58.9h-2.1zM1100.6 1294.0h1.7v36.8h-1.7zM1100.4 1317.3h2.1v6.9h-2.1zM1104.5 1284.1h1.7v82.1h-1.7zM1104.3 1294.3h2.1v57.4h-2.1zM1106.5 1245.4h1.7v71.0h-1.7zM1106.3 1286.1h2.1v8.2h-2.1zM1108.4 1255.5h1.7v99.5h-1.7zM1108.2 1262.6h2.1v23.5h-2.1zM1110.4 1221.0h1.7v63.4h-1.7zM1110.2 1229.9h2.1v32.7h-2.1zM1116.2 1236.4h1.7v19.2h-1.7zM1116.0 1240.1h2.1v13.3h-2.1zM1120.1 1263.0h1.7v46.1h-1.7zM1119.9 1290.5h2.1v7.4h-2.1zM1122.1 1264.3h1.7v28.4h-1.7zM1121.9 1273.6h2.1v16.9h-2.1zM1124.0 1262.6h1.7v27.5h-1.7zM1123.8 1267.7h2.1v5.9h-2.1zM1126.0 1209.0h1.7v69.0h-1.7zM1125.8 1265.6h2.1v2.1h-2.1zM1129.9 1247.2h1.7v25.0h-1.7zM1129.7 1252.6h2.1v19.6h-2.1zM1131.8 1230.8h1.7v21.8h-1.7zM1131.6 1233.4h2.1v19.2h-2.1zM1133.8 1168.2h1.7v65.3h-1.7zM1133.6 1188.3h2.1v45.2h-2.1zM1135.7 1110.0h1.7v91.7h-1.7zM1135.5 1146.8h2.1v41.5h-2.1zM1139.6 1172.9h1.7v13.2h-1.7zM1139.4 1175.1h2.1v11.0h-2.1zM1141.6 1098.0h1.7v77.1h-1.7zM1141.4 1168.8h2.1v6.3h-2.1zM1145.5 1155.9h1.7v24.6h-1.7zM1145.3 1159.3h2.1v20.9h-2.1zM1159.1 1380.9h1.7v15.1h-1.7zM1158.9 1385.1h2.1v1.0h-2.1zM1161.0 1348.7h1.7v49.4h-1.7zM1160.8 1378.3h2.1v6.8h-2.1zM1166.9 1347.0h1.7v75.1h-1.7zM1166.7 1386.1h2.1v21.1h-2.1zM1170.8 1397.3h1.7v24.4h-1.7zM1170.6 1406.3h2.1v10.2h-2.1zM1172.7 1390.2h1.7v19.3h-1.7zM1172.5 1399.0h2.1v7.3h-2.1zM1174.7 1380.7h1.7v20.7h-1.7zM1174.5 1390.6h2.1v8.4h-2.1zM1176.6 1282.0h1.7v116.1h-1.7zM1176.4 1382.4h2.1v8.3h-2.1zM1178.6 1353.1h1.7v43.6h-1.7zM1178.4 1361.6h2.1v20.8h-2.1zM1180.5 1351.3h1.7v14.7h-1.7zM1180.3 1357.6h2.1v4.0h-2.1zM1184.4 1329.1h1.7v64.4h-1.7zM1184.2 1333.1h2.1v29.4h-2.1zM1186.4 1297.4h1.7v39.4h-1.7zM1186.2 1313.7h2.1v19.4h-2.1zM1190.3 1297.5h1.7v22.8h-1.7zM1190.1 1299.7h2.1v16.3h-2.1zM1192.2 1280.1h1.7v19.5h-1.7zM1192.0 1294.0h2.1v5.7h-2.1zM1194.2 1221.0h1.7v73.0h-1.7zM1194.0 1254.7h2.1v39.3h-2.1zM1211.7 1473.6h1.7v77.7h-1.7zM1211.5 1485.2h2.1v59.3h-2.1zM1217.6 1500.0h1.7v86.1h-1.7zM1217.4 1529.4h2.1v46.7h-2.1zM1219.5 1469.9h1.7v63.1h-1.7zM1219.3 1502.7h2.1v26.7h-2.1zM1221.5 1472.6h1.7v31.2h-1.7zM1221.3 1477.2h2.1v25.5h-2.1zM1227.3 1506.7h1.7v18.3h-1.7zM1227.1 1521.3h2.1v2.0h-2.1zM1229.2 1509.4h1.7v17.2h-1.7zM1229.0 1510.0h2.1v11.2h-2.1zM1231.2 1478.5h1.7v39.9h-1.7zM1231.0 1482.8h2.1v27.3h-2.1zM1237.0 1479.1h1.7v27.3h-1.7zM1236.8 1479.6h2.1v11.2h-2.1zM1248.7 1499.4h1.7v75.3h-1.7zM1248.5 1503.3h2.1v43.8h-2.1zM1254.6 1480.0h1.7v117.7h-1.7zM1254.4 1579.0h2.1v3.9h-2.1zM1258.5 1533.6h1.7v68.2h-1.7zM1258.3 1560.2h2.1v35.9h-2.1zM1262.4 1522.2h1.7v57.0h-1.7zM1262.2 1546.0h2.1v28.1h-2.1zM1264.3 1513.3h1.7v55.7h-1.7zM1264.1 1515.3h2.1v30.7h-2.1zM1266.3 1486.1h1.7v37.0h-1.7zM1266.1 1502.7h2.1v12.6h-2.1zM1268.2 1483.3h1.7v41.4h-1.7zM1268.0 1494.6h2.1v8.1h-2.1zM1274.1 1488.2h1.7v61.8h-1.7zM1273.9 1496.6h2.1v5.4h-2.1zM1276.0 1438.3h1.7v70.7h-1.7zM1275.8 1445.3h2.1v51.3h-2.1zM1279.9 1430.6h1.7v65.3h-1.7zM1279.7 1430.7h2.1v27.8h-2.1zM1283.8 1334.0h1.7v163.9h-1.7zM1283.6 1406.2h2.1v91.7h-2.1zM1285.8 1317.2h1.7v95.7h-1.7zM1285.6 1339.6h2.1v66.7h-2.1zM1287.7 1308.1h1.7v35.0h-1.7zM1287.5 1336.4h2.1v3.1h-2.1zM1291.6 1292.0h1.7v98.8h-1.7zM1291.4 1349.1h2.1v18.8h-2.1zM1295.5 1341.5h1.7v38.7h-1.7zM1295.3 1347.1h2.1v19.8h-2.1zM1297.5 1298.8h1.7v49.1h-1.7zM1297.3 1309.1h2.1v37.9h-2.1zM1299.4 1287.2h1.7v25.8h-1.7zM1299.2 1290.4h2.1v18.7h-2.1zM1307.2 1365.0h1.7v99.3h-1.7zM1307.0 1426.5h2.1v16.8h-2.1zM1315.0 1528.8h1.7v26.4h-1.7zM1314.8 1530.6h2.1v21.5h-2.1zM1326.7 1614.7h1.7v30.2h-1.7zM1326.5 1627.3h2.1v16.7h-2.1zM1336.4 1650.5h1.7v28.9h-1.7zM1336.2 1651.5h2.1v22.8h-2.1zM1338.4 1600.8h1.7v57.6h-1.7zM1338.2 1604.1h2.1v47.4h-2.1zM1340.3 1587.0h1.7v32.4h-1.7zM1340.1 1590.7h2.1v13.4h-2.1zM1344.2 1584.8h1.7v39.4h-1.7zM1344.0 1597.8h2.1v23.3h-2.1zM1346.2 1556.9h1.7v50.9h-1.7zM1346.0 1561.7h2.1v36.1h-2.1zM1348.1 1545.2h1.7v24.6h-1.7zM1347.9 1548.8h2.1v12.9h-2.1zM1350.1 1533.5h1.7v18.2h-1.7zM1349.9 1537.2h2.1v11.6h-2.1zM1354.0 1527.0h1.7v38.6h-1.7zM1353.8 1547.1h2.1v11.4h-2.1zM1355.9 1531.5h1.7v17.8h-1.7zM1355.7 1537.3h2.1v9.8h-2.1zM1359.8 1535.1h1.7v18.4h-1.7zM1359.6 1541.7h2.1v1.7h-2.1zM1361.8 1536.1h1.7v54.4h-1.7zM1361.6 1538.8h2.1v2.9h-2.1zM1363.7 1535.6h1.7v11.7h-1.7zM1363.5 1538.1h2.1v1.0h-2.1zM1371.5 1544.6h1.7v49.0h-1.7zM1371.3 1558.5h2.1v2.8h-2.1zM1373.5 1525.3h1.7v40.5h-1.7zM1373.3 1530.9h2.1v27.6h-2.1zM1375.4 1497.0h1.7v38.6h-1.7zM1375.2 1513.6h2.1v17.3h-2.1zM1383.2 1529.0h1.7v119.3h-1.7zM1383.0 1630.6h2.1v15.9h-2.1zM1385.1 1589.0h1.7v45.1h-1.7zM1384.9 1603.3h2.1v27.3h-2.1zM1387.1 1579.4h1.7v53.5h-1.7zM1386.9 1592.9h2.1v10.5h-2.1zM1394.9 1621.0h1.7v7.2h-1.7zM1394.7 1623.0h2.1v3.9h-2.1zM1396.8 1609.8h1.7v17.0h-1.7zM1396.6 1610.0h2.1v13.0h-2.1zM1402.7 1583.4h1.7v41.3h-1.7zM1402.5 1620.0h2.1v3.2h-2.1zM1404.6 1614.4h1.7v9.4h-1.7zM1404.4 1614.9h2.1v5.1h-2.1zM1408.5 1614.1h1.7v9.4h-1.7zM1408.3 1620.3h2.1v1.8h-2.1zM1410.5 1587.6h1.7v35.6h-1.7zM1410.3 1613.2h2.1v7.0h-2.1zM1414.4 1602.5h1.7v14.2h-1.7zM1414.2 1607.3h2.1v9.3h-2.1zM1416.3 1598.1h1.7v9.3h-1.7zM1416.1 1599.5h2.1v7.8h-2.1zM1418.3 1592.6h1.7v6.9h-1.7zM1418.1 1595.7h2.1v3.8h-2.1zM1420.2 1583.6h1.7v12.1h-1.7zM1420.0 1585.2h2.1v10.4h-2.1zM1422.2 1554.0h1.7v31.2h-1.7zM1422.0 1572.8h2.1v12.5h-2.1zM1424.1 1544.9h1.7v28.2h-1.7zM1423.9 1549.2h2.1v23.6h-2.1zM1426.1 1526.9h1.7v31.0h-1.7zM1425.9 1539.5h2.1v9.7h-2.1zM1428.0 1491.9h1.7v51.2h-1.7zM1427.8 1504.5h2.1v35.0h-2.1zM1430.0 1476.0h1.7v42.6h-1.7zM1429.8 1493.2h2.1v11.2h-2.1zM1433.9 1417.0h1.7v86.1h-1.7zM1433.7 1454.1h2.1v49.0h-2.1zM1435.8 1431.2h1.7v38.9h-1.7zM1435.6 1440.8h2.1v13.3h-2.1zM1437.8 1384.4h1.7v56.5h-1.7zM1437.6 1389.7h2.1v51.1h-2.1zM1441.7 1350.0h1.7v55.5h-1.7zM1441.5 1379.6h2.1v15.8h-2.1zM1443.6 1364.6h1.7v22.8h-1.7zM1443.4 1372.7h2.1v6.8h-2.1zM1445.6 1330.0h1.7v49.7h-1.7zM1445.4 1350.4h2.1v22.4h-2.1zM1451.4 1370.2h1.7v16.8h-1.7zM1451.2 1382.1h2.1v2.1h-2.1zM1453.3 1372.3h1.7v13.1h-1.7zM1453.1 1380.0h2.1v2.1h-2.1zM1455.3 1265.0h1.7v115.4h-1.7zM1455.1 1374.6h2.1v5.4h-2.1zM1459.2 1371.0h1.7v10.9h-1.7zM1459.0 1376.4h2.1v1.0h-2.1zM1461.1 1372.3h1.7v8.7h-1.7zM1460.9 1374.2h2.1v2.2h-2.1zM1463.1 1324.7h1.7v55.3h-1.7zM1462.9 1353.9h2.1v20.3h-2.1zM1468.9 1319.5h1.7v49.2h-1.7zM1468.7 1329.4h2.1v36.7h-2.1zM1474.8 1318.0h1.7v54.3h-1.7zM1474.6 1350.2h2.1v18.5h-2.1zM1476.7 1271.9h1.7v97.6h-1.7zM1476.5 1326.9h2.1v23.2h-2.1zM1482.6 1323.7h1.7v35.3h-1.7zM1482.4 1337.5h2.1v9.0h-2.1zM1484.5 1265.3h1.7v84.5h-1.7zM1484.3 1314.9h2.1v22.7h-2.1zM1488.4 1339.9h1.7v8.0h-1.7zM1488.2 1342.7h2.1v1.0h-2.1zM1496.2 1328.3h1.7v52.2h-1.7zM1496.0 1340.7h2.1v28.6h-2.1zM1498.2 1313.0h1.7v30.7h-1.7zM1498.0 1331.5h2.1v9.2h-2.1zM1500.1 1308.0h1.7v25.7h-1.7zM1499.9 1308.4h2.1v23.1h-2.1zM1502.1 1270.5h1.7v43.6h-1.7zM1501.9 1282.9h2.1v25.5h-2.1zM1504.0 1249.0h1.7v46.2h-1.7zM1503.8 1282.1h2.1v1.0h-2.1zM1511.8 1322.6h1.7v12.7h-1.7zM1511.6 1328.5h2.1v5.3h-2.1zM1519.6 1327.2h1.7v27.8h-1.7zM1519.4 1327.5h2.1v18.2h-2.1zM1521.6 1312.1h1.7v33.7h-1.7zM1521.4 1320.2h2.1v7.3h-2.1zM1527.4 1349.0h1.7v9.5h-1.7zM1527.2 1349.1h2.1v5.3h-2.1zM1531.3 1335.7h1.7v22.9h-1.7zM1531.1 1345.2h2.1v7.7h-2.1zM1533.2 1332.5h1.7v15.3h-1.7zM1533.0 1338.6h2.1v6.7h-2.1zM1546.9 1395.0h1.7v41.7h-1.7zM1546.7 1406.2h2.1v18.1h-2.1zM1548.8 1299.7h1.7v122.5h-1.7zM1548.6 1306.3h2.1v99.8h-2.1zM1550.8 1273.9h1.7v143.1h-1.7zM1550.6 1273.9h2.1v32.5h-2.1zM1552.7 1248.0h1.7v30.8h-1.7zM1552.5 1254.4h2.1v19.5h-2.1zM1556.6 1215.0h1.7v59.9h-1.7zM1556.4 1248.1h2.1v25.9h-2.1zM1560.5 1237.4h1.7v42.9h-1.7zM1560.3 1247.1h2.1v27.3h-2.1zM1562.5 1218.1h1.7v33.8h-1.7zM1562.3 1229.4h2.1v17.7h-2.1zM1566.4 1186.0h1.7v64.2h-1.7zM1566.2 1220.3h2.1v14.7h-2.1zM1568.3 1186.6h1.7v36.8h-1.7zM1568.1 1190.9h2.1v29.4h-2.1zM1578.1 1234.2h1.7v8.7h-1.7zM1577.9 1236.3h2.1v3.0h-2.1zM1582.0 1228.4h1.7v24.6h-1.7zM1581.8 1233.6h2.1v19.4h-2.1zM1583.9 1219.2h1.7v23.1h-1.7zM1583.7 1220.7h2.1v12.9h-2.1zM1585.9 1215.3h1.7v13.8h-1.7zM1585.7 1218.6h2.1v2.1h-2.1zM1589.8 1193.0h1.7v39.7h-1.7zM1589.6 1207.3h2.1v25.4h-2.1zM1591.7 1194.2h1.7v14.3h-1.7zM1591.5 1199.7h2.1v7.6h-2.1zM1593.7 1192.4h1.7v21.8h-1.7zM1593.5 1194.6h2.1v5.1h-2.1zM1595.6 1179.4h1.7v25.2h-1.7zM1595.4 1184.2h2.1v10.4h-2.1zM1597.6 1152.3h1.7v34.2h-1.7zM1597.4 1156.8h2.1v27.4h-2.1zM1601.4 1143.0h1.7v33.7h-1.7zM1601.2 1154.3h2.1v8.4h-2.1zM1609.2 1111.3h1.7v51.4h-1.7zM1609.0 1116.1h2.1v46.7h-2.1zM1611.2 1103.9h1.7v16.9h-1.7zM1611.0 1107.2h2.1v8.9h-2.1zM1613.1 1046.0h1.7v61.2h-1.7zM1612.9 1078.1h2.1v29.1h-2.1zM1619.0 1095.5h1.7v4.7h-1.7zM1618.8 1097.6h2.1v1.0h-2.1zM1626.8 1149.0h1.7v24.8h-1.7zM1626.6 1154.5h2.1v1.8h-2.1zM1638.5 1203.7h1.7v11.4h-1.7zM1638.3 1210.0h2.1v1.0h-2.1zM1640.4 1140.4h1.7v73.3h-1.7zM1640.2 1162.1h2.1v47.9h-2.1zM1642.4 1134.6h1.7v62.6h-1.7zM1642.2 1143.0h2.1v19.1h-2.1zM1644.3 1105.0h1.7v40.8h-1.7zM1644.1 1118.0h2.1v25.0h-2.1zM1652.1 1116.0h1.7v24.6h-1.7zM1651.9 1124.7h2.1v8.9h-2.1zM1654.1 1118.9h1.7v11.2h-1.7zM1653.9 1123.3h2.1v1.4h-2.1zM1665.8 1168.0h1.7v32.5h-1.7zM1665.6 1178.8h2.1v11.9h-2.1zM1671.6 1190.0h1.7v50.3h-1.7zM1671.4 1198.6h2.1v23.7h-2.1zM1675.5 1191.8h1.7v31.2h-1.7zM1675.3 1196.9h2.1v7.3h-2.1zM1677.4 1192.5h1.7v13.5h-1.7zM1677.2 1195.3h2.1v1.6h-2.1zM1681.3 1217.3h1.7v27.8h-1.7zM1681.1 1218.2h2.1v2.1h-2.1zM1683.3 1194.0h1.7v36.0h-1.7zM1683.1 1211.4h2.1v6.8h-2.1zM1685.2 1188.2h1.7v35.1h-1.7zM1685.0 1190.9h2.1v20.5h-2.1zM1687.2 1185.5h1.7v12.6h-1.7zM1687.0 1188.2h2.1v2.7h-2.1zM1691.1 1186.1h1.7v26.3h-1.7zM1690.9 1187.2h2.1v12.0h-2.1zM1698.9 1203.2h1.7v10.3h-1.7zM1698.7 1204.4h2.1v9.1h-2.1zM1700.8 1189.7h1.7v14.7h-1.7zM1700.6 1194.4h2.1v10.0h-2.1zM1702.8 1150.0h1.7v44.4h-1.7zM1702.6 1191.7h2.1v2.6h-2.1zM1704.7 1179.4h1.7v13.1h-1.7zM1704.5 1180.9h2.1v10.9h-2.1zM1706.7 1177.5h1.7v6.7h-1.7zM1706.5 1178.6h2.1v2.3h-2.1zM1708.6 1168.5h1.7v21.0h-1.7zM1708.4 1169.9h2.1v8.7h-2.1zM1710.6 1156.0h1.7v23.2h-1.7zM1710.4 1165.6h2.1v4.3h-2.1zM1712.5 1159.0h1.7v12.5h-1.7zM1712.3 1161.2h2.1v4.3h-2.1zM1718.4 1164.0h1.7v20.9h-1.7zM1718.2 1170.7h2.1v12.9h-2.1zM1724.2 1207.8h1.7v17.5h-1.7zM1724.0 1214.8h2.1v8.5h-2.1zM1737.9 1259.3h1.7v29.1h-1.7zM1737.7 1267.3h2.1v16.7h-2.1zM1739.8 1243.9h1.7v30.1h-1.7zM1739.6 1250.7h2.1v16.6h-2.1zM1741.8 1216.0h1.7v39.1h-1.7zM1741.6 1234.8h2.1v15.8h-2.1zM1745.7 1222.5h1.7v21.0h-1.7zM1745.5 1224.9h2.1v18.6h-2.1zM1747.6 1193.5h1.7v31.5h-1.7zM1747.4 1206.5h2.1v18.4h-2.1zM1749.6 1143.0h1.7v63.5h-1.7zM1749.4 1177.6h2.1v28.9h-2.1zM1753.4 1181.6h1.7v23.0h-1.7zM1753.2 1182.8h2.1v19.2h-2.1zM1755.4 1161.2h1.7v27.7h-1.7zM1755.2 1161.8h2.1v20.9h-2.1zM1759.3 1151.2h1.7v38.8h-1.7zM1759.1 1169.7h2.1v10.7h-2.1zM1761.2 1161.6h1.7v13.0h-1.7zM1761.0 1166.1h2.1v3.6h-2.1zM1763.2 1156.5h1.7v10.4h-1.7zM1763.0 1165.2h2.1v1.0h-2.1zM1765.1 1156.2h1.7v16.9h-1.7zM1764.9 1163.7h2.1v1.4h-2.1zM1767.1 1125.0h1.7v40.8h-1.7zM1766.9 1139.0h2.1v24.8h-2.1zM1771.0 1133.1h1.7v44.1h-1.7zM1770.8 1147.7h2.1v7.8h-2.1zM1772.9 1129.2h1.7v36.2h-1.7zM1772.7 1140.3h2.1v7.4h-2.1zM1782.7 1161.0h1.7v24.1h-1.7zM1782.5 1172.1h2.1v8.7h-2.1zM1784.6 1161.5h1.7v23.9h-1.7zM1784.4 1163.0h2.1v9.1h-2.1zM1786.6 1146.0h1.7v21.2h-1.7zM1786.4 1155.7h2.1v7.3h-2.1zM1790.5 1100.0h1.7v76.2h-1.7zM1790.3 1168.2h2.1v1.0h-2.1zM1792.4 1143.1h1.7v32.0h-1.7zM1792.2 1157.0h2.1v11.1h-2.1zM1798.3 1141.0h1.7v26.6h-1.7zM1798.1 1154.1h2.1v12.5h-2.1zM1802.2 1151.0h1.7v15.8h-1.7zM1802.0 1155.9h2.1v9.9h-2.1zM1806.1 1148.0h1.7v24.6h-1.7zM1805.9 1162.2h2.1v1.8h-2.1zM1811.9 1178.9h1.7v26.0h-1.7zM1811.7 1187.8h2.1v13.9h-2.1zM1821.7 1190.5h1.7v24.6h-1.7zM1821.5 1198.2h2.1v14.8h-2.1zM1825.5 1170.1h1.7v44.6h-1.7zM1825.3 1208.0h2.1v4.5h-2.1zM1829.4 1196.1h1.7v18.5h-1.7zM1829.2 1204.0h2.1v8.4h-2.1zM1831.4 1190.9h1.7v13.5h-1.7zM1831.2 1198.4h2.1v5.6h-2.1zM1833.3 1170.6h1.7v40.6h-1.7zM1833.1 1186.0h2.1v12.4h-2.1zM1837.2 1207.1h1.7v6.3h-1.7zM1837.0 1207.9h2.1v4.0h-2.1zM1839.2 1197.7h1.7v10.2h-1.7zM1839.0 1205.7h2.1v2.2h-2.1zM1843.1 1204.7h1.7v7.4h-1.7zM1842.9 1209.0h2.1v1.6h-2.1zM1848.9 1200.6h1.7v19.7h-1.7zM1848.7 1200.7h2.1v13.6h-2.1zM1858.7 1216.0h1.7v152.0h-1.7zM1858.5 1315.9h2.1v2.8h-2.1zM1860.6 1272.0h1.7v44.1h-1.7zM1860.4 1303.7h2.1v12.3h-2.1zM1864.5 1295.4h1.7v21.2h-1.7zM1864.3 1307.0h2.1v5.8h-2.1zM1866.5 1273.7h1.7v33.4h-1.7zM1866.3 1295.8h2.1v11.2h-2.1zM1868.4 1290.1h1.7v16.5h-1.7zM1868.2 1292.1h2.1v3.8h-2.1zM1870.4 1274.0h1.7v33.4h-1.7zM1870.2 1275.7h2.1v16.4h-2.1zM1876.2 1278.8h1.7v44.7h-1.7zM1876.0 1291.5h2.1v19.0h-2.1zM1882.1 1246.0h1.7v66.0h-1.7zM1881.9 1260.7h2.1v34.7h-2.1zM1889.9 1292.0h1.7v26.3h-1.7zM1889.7 1309.9h2.1v1.0h-2.1zM1893.8 1297.5h1.7v29.8h-1.7zM1893.6 1308.4h2.1v8.9h-2.1zM1897.7 1294.4h1.7v22.5h-1.7zM1897.5 1303.3h2.1v12.2h-2.1zM1907.4 1316.0h1.7v29.0h-1.7zM1907.2 1339.3h2.1v4.9h-2.1zM1909.3 1310.8h1.7v33.7h-1.7zM1909.1 1317.0h2.1v22.3h-2.1zM1911.3 1303.0h1.7v17.5h-1.7zM1911.1 1303.4h2.1v13.5h-2.1zM1915.2 1292.0h1.7v24.2h-1.7zM1915.0 1312.3h2.1v1.1h-2.1zM1919.1 1309.1h1.7v21.2h-1.7zM1918.9 1309.5h2.1v14.3h-2.1zM1921.0 1298.3h1.7v11.9h-1.7zM1920.8 1308.8h2.1v1.0h-2.1zM1923.0 1296.8h1.7v21.1h-1.7zM1922.8 1306.8h2.1v2.0h-2.1zM1934.7 1328.2h1.7v13.3h-1.7zM1934.5 1329.9h2.1v11.6h-2.1zM1936.6 1306.9h1.7v23.0h-1.7zM1936.4 1307.1h2.1v22.8h-2.1zM1938.6 1298.2h1.7v10.7h-1.7zM1938.4 1306.7h2.1v1.0h-2.1zM1940.5 1250.6h1.7v56.2h-1.7zM1940.3 1261.6h2.1v45.1h-2.1zM1942.5 1242.0h1.7v25.7h-1.7zM1942.3 1258.9h2.1v2.7h-2.1zM1950.3 1289.0h1.7v13.5h-1.7zM1950.1 1293.1h2.1v3.4h-2.1zM1954.2 1294.0h1.7v15.8h-1.7zM1954.0 1298.5h2.1v8.5h-2.1zM1960.0 1313.5h1.7v11.6h-1.7zM1959.8 1315.3h2.1v1.0h-2.1zM1962.0 1312.6h1.7v16.3h-1.7zM1961.8 1313.6h2.1v1.7h-2.1zM1965.9 1305.0h1.7v52.8h-1.7zM1965.7 1320.2h2.1v37.2h-2.1zM1969.8 1306.7h1.7v45.3h-1.7zM1969.6 1317.4h2.1v19.1h-2.1zM1971.7 1307.3h1.7v12.6h-1.7zM1971.5 1310.4h2.1v7.1h-2.1zM1977.5 1304.1h1.7v43.1h-1.7zM1977.3 1317.0h2.1v20.3h-2.1zM1979.5 1308.4h1.7v13.5h-1.7zM1979.3 1316.3h2.1v1.0h-2.1zM1983.4 1332.8h1.7v24.2h-1.7zM1983.2 1337.7h2.1v4.2h-2.1zM1985.3 1292.0h1.7v45.7h-1.7zM1985.1 1320.6h2.1v17.1h-2.1zM1987.3 1296.6h1.7v24.0h-1.7zM1987.1 1297.3h2.1v23.3h-2.1zM1989.2 1245.1h1.7v52.2h-1.7zM1989.0 1253.2h2.1v44.1h-2.1zM1991.2 1182.0h1.7v71.2h-1.7zM1991.0 1224.7h2.1v28.5h-2.1zM1999.0 1211.9h1.7v30.8h-1.7zM1998.8 1225.1h2.1v16.0h-2.1zM2000.9 1206.9h1.7v34.4h-1.7zM2000.7 1212.1h2.1v13.0h-2.1zM2002.9 1188.1h1.7v32.9h-1.7zM2002.7 1210.6h2.1v1.6h-2.1zM2004.8 1192.4h1.7v26.0h-1.7zM2004.6 1199.5h2.1v11.1h-2.1zM2006.8 1172.8h1.7v32.1h-1.7zM2006.6 1176.8h2.1v22.7h-2.1zM2008.7 1166.6h1.7v16.3h-1.7zM2008.5 1168.7h2.1v8.1h-2.1zM2012.6 1173.4h1.7v19.6h-1.7zM2012.4 1177.6h2.1v15.3h-2.1zM2014.6 1154.0h1.7v29.9h-1.7zM2014.4 1171.2h2.1v6.4h-2.1zM2016.5 1112.9h1.7v58.4h-1.7zM2016.3 1113.4h2.1v57.8h-2.1zM2018.5 1078.9h1.7v43.1h-1.7zM2018.3 1091.9h2.1v21.5h-2.1zM2020.4 1049.0h1.7v58.9h-1.7zM2020.2 1054.6h2.1v37.2h-2.1zM2024.3 1057.9h1.7v34.6h-1.7zM2024.1 1058.8h2.1v24.5h-2.1zM2026.3 1053.0h1.7v18.1h-1.7zM2026.1 1056.6h2.1v2.2h-2.1zM2030.2 1093.1h1.7v11.9h-1.7zM2030.0 1093.9h2.1v5.3h-2.1zM2034.1 1087.6h1.7v27.6h-1.7zM2033.9 1104.6h2.1v1.0h-2.1zM2036.0 1102.0h1.7v58.0h-1.7zM2035.8 1103.6h2.1v1.0h-2.1zM2038.0 1071.6h1.7v32.5h-1.7zM2037.8 1075.8h2.1v27.8h-2.1zM2039.9 1065.7h1.7v50.9h-1.7zM2039.7 1073.8h2.1v2.0h-2.1zM2041.9 1059.9h1.7v39.7h-1.7zM2041.7 1064.5h2.1v9.3h-2.1zM2045.8 1053.0h1.7v32.8h-1.7zM2045.6 1082.6h2.1v2.5h-2.1zM2047.7 1067.7h1.7v15.5h-1.7zM2047.5 1075.9h2.1v6.6h-2.1zM2051.6 1050.0h1.7v49.8h-1.7zM2051.4 1084.3h2.1v11.5h-2.1zM2055.5 1080.4h1.7v19.2h-1.7zM2055.3 1087.0h2.1v9.7h-2.1zM2057.4 1076.8h1.7v22.6h-1.7zM2057.2 1085.1h2.1v1.9h-2.1zM2059.4 1030.0h1.7v58.9h-1.7zM2059.2 1042.9h2.1v42.1h-2.1zM2063.3 1035.3h1.7v31.3h-1.7zM2063.1 1036.8h2.1v23.6h-2.1zM2067.2 971.0h1.7v80.8h-1.7zM2067.0 1025.0h2.1v23.8h-2.1zM2069.1 992.8h1.7v54.1h-1.7zM2068.9 998.3h2.1v26.6h-2.1zM2071.1 969.6h1.7v70.4h-1.7zM2070.9 976.9h2.1v21.4h-2.1zM2073.0 960.0h1.7v19.2h-1.7zM2072.8 964.0h2.1v12.9h-2.1zM2075.0 943.4h1.7v34.3h-1.7zM2074.8 945.8h2.1v18.2h-2.1zM2076.9 934.0h1.7v14.6h-1.7zM2076.7 945.6h2.1v1.0h-2.1zM2090.6 1015.6h1.7v35.4h-1.7zM2090.4 1024.4h2.1v23.5h-2.1zM2092.5 997.7h1.7v30.4h-1.7zM2092.3 1000.1h2.1v24.3h-2.1zM2096.4 987.3h1.7v56.1h-1.7zM2096.2 988.9h2.1v11.4h-2.1zM2098.4 969.4h1.7v33.5h-1.7zM2098.2 984.5h2.1v4.4h-2.1zM2104.2 1015.7h1.7v24.8h-1.7zM2104.0 1026.3h2.1v12.0h-2.1zM2106.2 1005.7h1.7v25.3h-1.7zM2106.0 1011.8h2.1v14.5h-2.1zM2108.1 985.2h1.7v58.0h-1.7zM2107.9 1002.8h2.1v9.1h-2.1zM2110.1 959.2h1.7v59.5h-1.7zM2109.9 966.5h2.1v36.3h-2.1zM2115.9 971.1h1.7v34.1h-1.7zM2115.7 982.2h2.1v22.9h-2.1zM2117.9 915.0h1.7v79.4h-1.7zM2117.7 926.0h2.1v56.2h-2.1zM2131.5 1023.4h1.7v16.2h-1.7zM2131.3 1029.9h2.1v9.6h-2.1zM2133.4 981.0h1.7v48.9h-1.7zM2133.2 1004.4h2.1v25.5h-2.1zM2135.4 940.0h1.7v64.4h-1.7zM2135.2 954.5h2.1v49.9h-2.1zM2137.3 939.5h1.7v19.8h-1.7zM2137.1 950.4h2.1v4.1h-2.1zM2139.3 873.2h1.7v82.8h-1.7zM2139.1 877.7h2.1v72.7h-2.1zM2141.2 838.0h1.7v45.0h-1.7zM2141.0 858.2h2.1v19.5h-2.1zM2143.2 829.6h1.7v35.3h-1.7zM2143.0 842.3h2.1v15.9h-2.1zM2145.1 813.0h1.7v33.8h-1.7zM2144.9 824.1h2.1v18.2h-2.1zM2154.9 898.9h1.7v16.5h-1.7zM2154.7 905.3h2.1v8.8h-2.1zM2156.8 877.8h1.7v32.3h-1.7zM2156.6 880.7h2.1v24.7h-2.1zM2166.6 956.0h1.7v29.3h-1.7zM2166.4 973.8h2.1v3.6h-2.1zM2172.4 947.6h1.7v48.2h-1.7zM2172.2 969.1h2.1v14.7h-2.1zM2182.2 957.7h1.7v46.9h-1.7zM2182.0 966.9h2.1v34.5h-2.1zM2184.1 944.6h1.7v43.5h-1.7zM2183.9 947.6h2.1v19.2h-2.1zM2190.0 914.7h1.7v53.8h-1.7zM2189.8 921.1h2.1v38.4h-2.1zM2195.8 922.5h1.7v58.5h-1.7zM2195.6 939.4h2.1v5.6h-2.1zM2197.8 878.0h1.7v75.3h-1.7zM2197.6 921.5h2.1v17.9h-2.1zM2199.7 885.6h1.7v56.3h-1.7zM2199.5 893.1h2.1v28.4h-2.1zM2201.6 845.0h1.7v54.4h-1.7zM2201.4 846.5h2.1v46.7h-2.1zM2203.6 823.0h1.7v41.8h-1.7zM2203.4 840.7h2.1v5.8h-2.1zM2207.5 823.5h1.7v47.6h-1.7zM2207.3 854.8h2.1v16.2h-2.1zM2209.4 818.8h1.7v36.1h-1.7zM2209.2 819.2h2.1v35.6h-2.1zM2211.4 794.1h1.7v26.1h-1.7zM2211.2 803.9h2.1v15.3h-2.1zM2213.3 761.0h1.7v45.1h-1.7zM2213.1 796.2h2.1v7.6h-2.1zM2215.3 750.1h1.7v46.2h-1.7zM2215.1 769.5h2.1v26.7h-2.1zM2217.2 735.0h1.7v48.6h-1.7zM2217.0 751.0h2.1v18.6h-2.1zM2219.2 737.2h1.7v16.9h-1.7zM2219.0 743.3h2.1v7.7h-2.1zM2221.1 705.0h1.7v47.1h-1.7zM2220.9 723.4h2.1v19.9h-2.1zM2225.0 716.3h1.7v19.3h-1.7zM2224.8 718.3h2.1v9.5h-2.1zM2228.9 682.8h1.7v53.3h-1.7zM2228.7 685.8h2.1v42.2h-2.1zM2232.8 635.2h1.7v66.8h-1.7zM2232.6 652.9h2.1v37.0h-2.1zM2234.8 626.0h1.7v28.8h-1.7zM2234.6 634.3h2.1v18.5h-2.1zM2236.7 599.8h1.7v46.1h-1.7zM2236.5 613.7h2.1v20.6h-2.1zM2238.7 560.0h1.7v61.6h-1.7zM2238.5 573.7h2.1v40.0h-2.1zM2246.5 528.7h1.7v82.4h-1.7zM2246.3 534.9h2.1v76.1h-2.1zM2248.4 486.7h1.7v51.1h-1.7zM2248.2 488.0h2.1v46.9h-2.1zM2250.4 435.0h1.7v56.5h-1.7zM2250.2 460.5h2.1v27.6h-2.1zM2256.2 435.5h1.7v65.0h-1.7zM2256.0 477.0h2.1v23.6h-2.1zM2258.2 425.9h1.7v58.5h-1.7zM2258.0 427.2h2.1v49.7h-2.1zM2264.0 412.0h1.7v60.7h-1.7zM2263.8 453.5h2.1v11.8h-2.1zM2275.7 575.0h1.7v62.6h-1.7zM2275.5 593.3h2.1v26.3h-2.1zM2277.6 540.7h1.7v74.0h-1.7zM2277.4 573.1h2.1v20.2h-2.1zM2283.5 567.5h1.7v53.4h-1.7zM2283.3 567.7h2.1v26.0h-2.1zM2285.4 532.5h1.7v45.2h-1.7zM2285.2 551.6h2.1v16.1h-2.1zM2287.4 516.0h1.7v52.7h-1.7zM2287.2 545.4h2.1v6.2h-2.1zM2291.3 532.4h1.7v22.8h-1.7zM2291.1 540.9h2.1v11.7h-2.1zM2297.1 519.3h1.7v57.4h-1.7zM2296.9 527.7h2.1v41.0h-2.1zM2306.9 581.0h1.7v42.1h-1.7zM2306.7 615.9h2.1v5.0h-2.1zM2308.8 598.1h1.7v22.6h-1.7zM2308.6 614.1h2.1v1.9h-2.1zM2310.8 598.1h1.7v16.0h-1.7zM2310.6 607.6h2.1v6.4h-2.1zM2312.7 520.8h1.7v86.8h-1.7zM2312.5 542.9h2.1v64.7h-2.1zM2314.7 504.0h1.7v69.3h-1.7zM2314.5 542.3h2.1v1.0h-2.1zM2320.5 601.1h1.7v31.5h-1.7zM2320.3 607.6h2.1v23.6h-2.1zM2326.4 671.3h1.7v64.3h-1.7zM2326.2 688.1h2.1v23.8h-2.1zM2328.3 663.1h1.7v37.4h-1.7zM2328.1 666.8h2.1v21.3h-2.1zM2338.1 691.1h1.7v39.3h-1.7zM2337.9 700.4h2.1v29.9h-2.1zM2340.0 680.1h1.7v33.9h-1.7zM2339.8 684.9h2.1v15.5h-2.1zM2342.0 654.4h1.7v42.3h-1.7zM2341.8 660.1h2.1v24.8h-2.1zM2343.9 608.0h1.7v58.5h-1.7zM2343.7 654.0h2.1v6.1h-2.1zM2347.8 640.2h1.7v47.8h-1.7zM2347.6 658.1h2.1v20.8h-2.1zM2351.7 619.0h1.7v66.1h-1.7zM2351.5 653.5h2.1v27.7h-2.1zM2355.6 666.0h1.7v22.2h-1.7zM2355.4 668.5h2.1v14.2h-2.1zM2359.5 676.6h1.7v101.4h-1.7zM2359.3 681.6h2.1v4.2h-2.1zM2361.4 668.8h1.7v19.3h-1.7zM2361.2 673.4h2.1v8.2h-2.1zM2363.4 661.0h1.7v24.8h-1.7zM2363.2 665.2h2.1v8.2h-2.1zM2365.3 653.6h1.7v17.2h-1.7zM2365.1 657.1h2.1v8.2h-2.1zM2367.3 646.0h1.7v33.5h-1.7zM2367.1 650.3h2.1v6.8h-2.1zM2382.9 716.3h1.7v44.1h-1.7zM2382.7 726.8h2.1v18.6h-2.1zM2386.8 703.4h1.7v37.5h-1.7zM2386.6 724.2h2.1v16.2h-2.1zM2388.7 708.1h1.7v20.2h-1.7zM2388.5 719.7h2.1v4.5h-2.1zM2390.7 707.3h1.7v28.7h-1.7zM2390.5 710.0h2.1v9.7h-2.1zM2392.6 665.1h1.7v62.1h-1.7zM2392.4 668.7h2.1v41.2h-2.1zM2394.6 594.7h1.7v89.2h-1.7zM2394.4 612.6h2.1v56.2h-2.1zM2396.5 556.3h1.7v143.7h-1.7zM2396.3 562.1h2.1v50.5h-2.1zM2398.5 475.0h1.7v92.6h-1.7zM2398.3 549.7h2.1v12.5h-2.1zM2400.4 448.0h1.7v105.5h-1.7zM2400.2 510.7h2.1v38.9h-2.1zM2402.4 480.7h1.7v50.2h-1.7zM2402.2 481.2h2.1v29.6h-2.1zM2406.3 453.8h1.7v55.7h-1.7zM2406.1 472.3h2.1v29.0h-2.1zM2408.2 446.4h1.7v56.0h-1.7zM2408.0 465.1h2.1v7.1h-2.1zM2414.1 441.0h1.7v66.8h-1.7zM2413.9 504.4h2.1v2.0h-2.1zM2416.0 462.6h1.7v43.0h-1.7zM2415.8 470.9h2.1v33.5h-2.1zM2421.9 442.3h1.7v44.4h-1.7zM2421.7 473.8h2.1v11.2h-2.1zM2423.8 465.5h1.7v19.2h-1.7zM2423.6 466.6h2.1v7.2h-2.1zM2425.7 449.8h1.7v17.1h-1.7zM2425.5 459.9h2.1v6.7h-2.1zM2427.7 451.4h1.7v14.7h-1.7zM2427.5 458.2h2.1v1.7h-2.1zM2441.3 553.3h1.7v8.2h-1.7zM2441.1 554.7h2.1v2.0h-2.1zM2447.2 567.9h1.7v39.8h-1.7zM2447.0 570.6h2.1v33.1h-2.1zM2451.1 582.8h1.7v9.6h-1.7zM2450.9 582.8h2.1v7.1h-2.1zM2455.0 559.8h1.7v49.3h-1.7zM2454.8 577.0h2.1v26.2h-2.1zM2456.9 531.0h1.7v49.3h-1.7zM2456.7 553.6h2.1v23.4h-2.1zM2460.8 545.4h1.7v32.9h-1.7zM2460.6 551.1h2.1v4.8h-2.1zM2466.7 559.0h1.7v76.8h-1.7zM2466.5 615.8h2.1v4.4h-2.1zM2470.6 608.5h1.7v32.0h-1.7zM2470.4 609.6h2.1v19.9h-2.1zM2472.5 595.6h1.7v19.2h-1.7zM2472.3 599.4h2.1v10.2h-2.1zM2474.5 589.6h1.7v22.2h-1.7zM2474.3 593.6h2.1v5.8h-2.1zM2476.4 560.3h1.7v36.7h-1.7zM2476.2 571.3h2.1v22.3h-2.1zM2484.2 615.0h1.7v96.1h-1.7zM2484.0 682.1h2.1v15.5h-2.1zM2490.1 693.8h1.7v53.7h-1.7zM2489.9 720.7h2.1v5.2h-2.1zM2494.0 650.0h1.7v113.6h-1.7zM2493.8 718.9h2.1v18.6h-2.1zM2495.9 712.2h1.7v18.2h-1.7zM2495.7 716.5h2.1v2.5h-2.1zM2497.9 698.5h1.7v60.1h-1.7zM2497.7 708.5h2.1v8.0h-2.1zM2499.8 615.7h1.7v106.8h-1.7zM2499.6 648.4h2.1v60.1h-2.1zM2501.7 591.5h1.7v66.4h-1.7zM2501.5 592.2h2.1v56.2h-2.1zM2507.6 620.9h1.7v29.8h-1.7zM2507.4 627.8h2.1v23.0h-2.1zM2509.5 599.3h1.7v28.4h-1.7zM2509.3 604.4h2.1v23.4h-2.1zM2511.5 589.3h1.7v18.7h-1.7zM2511.3 589.6h2.1v14.7h-2.1zM2513.4 549.0h1.7v50.0h-1.7zM2513.2 571.4h2.1v18.2h-2.1zM2515.4 551.5h1.7v21.0h-1.7zM2515.2 559.5h2.1v11.9h-2.1zM2529.0 594.0h1.7v85.7h-1.7zM2528.8 663.5h2.1v3.6h-2.1zM2532.9 672.6h1.7v10.7h-1.7zM2532.7 679.3h2.1v2.1h-2.1zM2534.9 607.4h1.7v73.5h-1.7zM2534.7 677.2h2.1v2.1h-2.1zM2540.7 643.0h1.7v87.8h-1.7zM2540.5 715.6h2.1v10.3h-2.1zM2548.5 845.0h1.7v126.0h-1.7zM2548.3 934.7h2.1v7.9h-2.1zM2550.5 872.0h1.7v77.6h-1.7zM2550.3 918.4h2.1v16.3h-2.1zM2552.4 874.7h1.7v50.6h-1.7zM2552.2 877.7h2.1v40.6h-2.1zM2554.4 791.0h1.7v89.6h-1.7zM2554.2 843.6h2.1v34.1h-2.1zM2558.3 791.9h1.7v53.8h-1.7zM2558.1 811.1h2.1v32.6h-2.1zM2560.2 792.5h1.7v19.4h-1.7zM2560.0 797.0h2.1v14.1h-2.1zM2568.0 811.3h1.7v45.2h-1.7zM2567.8 818.2h2.1v26.9h-2.1zM2573.9 821.0h1.7v8.1h-1.7zM2573.7 823.8h2.1v1.0h-2.1zM2579.7 821.2h1.7v33.0h-1.7zM2579.5 828.5h2.1v25.1h-2.1zM2581.6 813.8h1.7v15.8h-1.7zM2581.4 820.1h2.1v8.4h-2.1zM2583.6 778.0h1.7v54.6h-1.7zM2583.4 806.9h2.1v13.1h-2.1zM2593.3 869.2h1.7v54.7h-1.7zM2593.1 910.5h2.1v1.0h-2.1zM2595.3 879.4h1.7v48.4h-1.7zM2595.1 890.9h2.1v19.5h-2.1zM2608.9 931.0h1.7v87.0h-1.7zM2608.7 953.6h2.1v33.2h-2.1zM2614.8 992.3h1.7v17.5h-1.7zM2614.6 998.7h2.1v11.1h-2.1zM2616.7 912.0h1.7v86.7h-1.7zM2616.5 979.1h2.1v19.6h-2.1zM2620.6 945.9h1.7v47.1h-1.7zM2620.4 954.8h2.1v35.4h-2.1zM2624.5 931.9h1.7v40.0h-1.7zM2624.3 942.6h2.1v22.2h-2.1zM2626.5 937.5h1.7v54.3h-1.7zM2626.3 939.2h2.1v3.4h-2.1zM2628.4 920.7h1.7v29.2h-1.7zM2628.2 933.4h2.1v5.8h-2.1zM2630.4 913.4h1.7v26.7h-1.7zM2630.2 914.5h2.1v18.8h-2.1zM2632.3 895.3h1.7v30.0h-1.7zM2632.1 905.0h2.1v9.5h-2.1zM2636.2 818.0h1.7v107.2h-1.7zM2636.0 896.2h2.1v14.9h-2.1zM2640.1 877.4h1.7v29.7h-1.7zM2639.9 890.1h2.1v17.1h-2.1zM2642.1 865.4h1.7v27.1h-1.7zM2641.9 888.6h2.1v1.4h-2.1zM2644.0 873.8h1.7v14.8h-1.7zM2643.8 878.5h2.1v10.1h-2.1zM2646.0 841.7h1.7v36.9h-1.7zM2645.8 851.1h2.1v27.5h-2.1zM2649.8 811.0h1.7v50.1h-1.7zM2649.6 844.4h2.1v10.7h-2.1zM2655.7 825.2h1.7v47.7h-1.7zM2655.5 830.3h2.1v37.1h-2.1zM2659.6 833.0h1.7v55.1h-1.7zM2659.4 848.0h2.1v3.3h-2.1zM2667.4 887.0h1.7v60.9h-1.7zM2667.2 926.4h2.1v4.1h-2.1zM2671.3 919.5h1.7v18.3h-1.7zM2671.1 925.7h2.1v7.2h-2.1zM2673.2 893.5h1.7v50.7h-1.7zM2673.0 912.9h2.1v12.7h-2.1zM2675.2 907.1h1.7v48.0h-1.7zM2675.0 907.7h2.1v5.2h-2.1zM2677.1 893.4h1.7v14.5h-1.7zM2676.9 895.4h2.1v12.3h-2.1zM2679.1 856.7h1.7v45.4h-1.7zM2678.9 859.6h2.1v35.9h-2.1zM2681.0 837.0h1.7v22.6h-1.7zM2680.8 846.2h2.1v13.4h-2.1zM2683.0 824.2h1.7v29.8h-1.7zM2682.8 828.6h2.1v17.5h-2.1zM2684.9 800.4h1.7v62.6h-1.7zM2684.7 801.6h2.1v27.1h-2.1zM2686.9 796.0h1.7v8.5h-1.7zM2686.7 800.7h2.1v1.0h-2.1zM2706.4 872.0h1.7v66.7h-1.7zM2706.2 904.1h2.1v34.7h-2.1zM2708.3 876.2h1.7v33.4h-1.7zM2708.1 884.6h2.1v19.5h-2.1zM2710.3 867.0h1.7v22.2h-1.7zM2710.1 869.1h2.1v15.5h-2.1zM2712.2 864.1h1.7v22.9h-1.7zM2712.0 864.2h2.1v4.9h-2.1zM2714.2 813.0h1.7v65.2h-1.7zM2714.0 851.7h2.1v12.5h-2.1zM2722.0 846.5h1.7v106.5h-1.7zM2721.8 851.4h2.1v47.4h-2.1zM2723.9 823.5h1.7v47.5h-1.7zM2723.7 834.8h2.1v16.6h-2.1zM2725.8 770.8h1.7v86.1h-1.7zM2725.6 776.7h2.1v58.1h-2.1zM2727.8 726.2h1.7v143.8h-1.7zM2727.6 733.6h2.1v43.1h-2.1zM2729.7 694.5h1.7v45.1h-1.7zM2729.5 711.2h2.1v22.5h-2.1zM2731.7 694.4h1.7v21.7h-1.7zM2731.5 702.8h2.1v8.3h-2.1zM2737.5 617.7h1.7v107.0h-1.7zM2737.3 624.0h2.1v100.7h-2.1zM2739.5 581.0h1.7v43.7h-1.7zM2739.3 605.2h2.1v18.8h-2.1zM2747.3 646.0h1.7v26.8h-1.7zM2747.1 653.4h2.1v6.8h-2.1zM2753.1 663.8h1.7v37.6h-1.7zM2752.9 674.9h2.1v2.3h-2.1zM2755.1 648.1h1.7v28.0h-1.7zM2754.9 659.1h2.1v15.8h-2.1zM2757.0 611.4h1.7v51.4h-1.7zM2756.8 613.7h2.1v45.4h-2.1zM2759.0 578.8h1.7v59.8h-1.7zM2758.8 582.5h2.1v31.2h-2.1zM2760.9 553.0h1.7v56.6h-1.7zM2760.7 573.5h2.1v8.9h-2.1zM2766.8 612.1h1.7v11.3h-1.7zM2766.6 620.4h2.1v3.0h-2.1zM2768.7 564.8h1.7v55.6h-1.7zM2768.5 600.8h2.1v19.6h-2.1zM2770.7 590.2h1.7v10.7h-1.7zM2770.5 590.4h2.1v10.4h-2.1zM2772.6 571.3h1.7v19.1h-1.7zM2772.4 578.7h2.1v11.8h-2.1zM2774.6 538.0h1.7v40.7h-1.7zM2774.4 558.3h2.1v20.3h-2.1zM2776.5 497.0h1.7v64.2h-1.7zM2776.3 532.8h2.1v25.5h-2.1zM2778.5 512.7h1.7v28.9h-1.7zM2778.3 517.1h2.1v15.7h-2.1zM2782.4 505.0h1.7v38.1h-1.7zM2782.2 535.5h2.1v5.7h-2.1zM2784.3 509.9h1.7v25.6h-1.7zM2784.1 520.3h2.1v15.2h-2.1zM2786.3 469.8h1.7v50.5h-1.7zM2786.1 475.6h2.1v44.6h-2.1zM2788.2 411.0h1.7v65.3h-1.7zM2788.0 455.9h2.1v19.7h-2.1zM2796.0 512.0h1.7v51.0h-1.7zM2795.8 519.1h2.1v10.5h-2.1zM2798.0 427.9h1.7v92.6h-1.7zM2797.8 493.4h2.1v25.7h-2.1zM2799.9 463.6h1.7v39.1h-1.7zM2799.7 473.7h2.1v19.7h-2.1zM2801.8 413.2h1.7v61.1h-1.7zM2801.6 417.2h2.1v56.5h-2.1zM2807.7 509.3h1.7v26.3h-1.7zM2807.5 521.0h2.1v14.3h-2.1zM2813.5 566.6h1.7v54.4h-1.7zM2813.3 573.5h2.1v27.0h-2.1zM2815.5 555.5h1.7v29.8h-1.7zM2815.3 568.7h2.1v4.8h-2.1zM2825.2 634.7h1.7v50.3h-1.7zM2825.0 643.4h2.1v11.4h-2.1zM2827.2 563.2h1.7v100.1h-1.7zM2827.0 633.1h2.1v10.2h-2.1zM2831.1 612.5h1.7v28.8h-1.7zM2830.9 627.8h2.1v10.2h-2.1zM2833.0 622.9h1.7v4.9h-1.7zM2832.8 623.4h2.1v4.4h-2.1zM2835.0 556.9h1.7v66.5h-1.7zM2834.8 587.6h2.1v35.9h-2.1zM2836.9 572.8h1.7v23.3h-1.7zM2836.7 574.2h2.1v13.3h-2.1zM2838.9 540.9h1.7v40.0h-1.7zM2838.7 559.3h2.1v14.9h-2.1zM2840.8 515.5h1.7v49.4h-1.7zM2840.6 523.5h2.1v35.9h-2.1zM2842.8 501.0h1.7v23.1h-1.7zM2842.6 511.4h2.1v12.0h-2.1zM2856.4 591.0h1.7v124.2h-1.7zM2856.2 654.5h2.1v50.5h-2.1zM2858.4 603.6h1.7v71.8h-1.7zM2858.2 604.7h2.1v49.8h-2.1zM2862.3 639.2h1.7v24.0h-1.7zM2862.1 643.4h2.1v4.2h-2.1zM2866.2 560.0h1.7v107.0h-1.7zM2866.0 638.6h2.1v10.6h-2.1zM2868.1 635.2h1.7v18.7h-1.7zM2867.9 637.1h2.1v1.5h-2.1zM2870.1 560.4h1.7v97.1h-1.7zM2869.9 572.4h2.1v64.8h-2.1zM2872.0 560.3h1.7v22.8h-1.7zM2871.8 569.9h2.1v2.5h-2.1zM2874.0 560.4h1.7v53.1h-1.7zM2873.8 569.0h2.1v1.0h-2.1zM2877.8 560.5h1.7v43.4h-1.7zM2877.6 574.0h2.1v27.9h-2.1zM2885.6 584.0h1.7v49.6h-1.7zM2885.4 624.4h2.1v3.2h-2.1zM2889.5 586.3h1.7v63.3h-1.7zM2889.3 592.5h2.1v51.5h-2.1zM2893.4 589.4h1.7v39.1h-1.7zM2893.2 625.2h2.1v1.1h-2.1zM2903.2 755.4h1.7v132.7h-1.7zM2903.0 771.2h2.1v100.1h-2.1zM2907.1 798.7h1.7v42.6h-1.7zM2906.9 798.9h2.1v25.7h-2.1zM2909.0 786.3h1.7v30.1h-1.7zM2908.8 791.3h2.1v7.6h-2.1zM2912.9 827.0h1.7v20.5h-1.7zM2912.7 838.7h2.1v3.6h-2.1zM2916.8 844.7h1.7v25.3h-1.7zM2916.6 845.5h2.1v10.5h-2.1zM2918.8 790.6h1.7v71.6h-1.7zM2918.6 811.3h2.1v34.1h-2.1zM2920.7 782.8h1.7v32.6h-1.7zM2920.5 792.0h2.1v19.4h-2.1zM2922.7 775.0h1.7v26.2h-1.7zM2922.5 779.3h2.1v12.6h-2.1zM2924.6 765.0h1.7v21.7h-1.7zM2924.4 771.6h2.1v7.7h-2.1zM2928.5 767.3h1.7v25.1h-1.7zM2928.3 771.4h2.1v20.6h-2.1zM2934.4 778.4h1.7v63.9h-1.7zM2934.2 778.7h2.1v35.2h-2.1zM2936.3 771.0h1.7v16.2h-1.7zM2936.1 777.6h2.1v1.1h-2.1zM2959.7 968.9h1.7v104.1h-1.7zM2959.5 993.4h2.1v60.2h-2.1zM2975.3 1170.3h1.7v17.7h-1.7zM2975.1 1175.5h2.1v10.1h-2.1zM2977.2 1161.2h1.7v36.8h-1.7zM2977.0 1169.9h2.1v5.6h-2.1zM2979.2 1133.0h1.7v46.7h-1.7zM2979.0 1165.1h2.1v4.8h-2.1zM2983.1 1160.6h1.7v15.6h-1.7zM2982.9 1165.7h2.1v9.9h-2.1zM2985.0 1126.4h1.7v58.3h-1.7zM2984.8 1129.7h2.1v36.0h-2.1zM2990.9 1101.2h1.7v37.2h-1.7zM2990.7 1110.2h2.1v27.4h-2.1zM2992.8 1065.0h1.7v48.9h-1.7zM2992.6 1094.3h2.1v16.0h-2.1zM2994.8 1086.5h1.7v49.5h-1.7zM2994.6 1091.6h2.1v2.7h-2.1zM2996.7 1066.5h1.7v32.0h-1.7zM2996.5 1073.6h2.1v18.0h-2.1zM3008.4 1181.5h1.7v55.6h-1.7zM3008.2 1196.0h2.1v22.9h-2.1zM3012.3 1136.0h1.7v84.9h-1.7zM3012.1 1188.5h2.1v16.6h-2.1zM3014.3 1160.2h1.7v29.5h-1.7zM3014.1 1161.6h2.1v26.9h-2.1zM3024.0 1235.0h1.7v141.5h-1.7zM3023.8 1339.0h2.1v1.0h-2.1zM3027.9 1288.0h1.7v99.7h-1.7zM3027.7 1296.0h2.1v73.1h-2.1zM3033.7 1279.0h1.7v57.5h-1.7zM3033.5 1287.3h2.1v37.1h-2.1zM3041.5 1290.3h1.7v44.5h-1.7zM3041.3 1331.5h2.1v1.0h-2.1zM3045.4 1316.8h1.7v39.0h-1.7zM3045.2 1318.3h2.1v25.4h-2.1zM3047.4 1304.6h1.7v17.7h-1.7zM3047.2 1315.9h2.1v2.4h-2.1zM3051.3 1278.0h1.7v43.7h-1.7zM3051.1 1291.9h2.1v29.7h-2.1zM3053.2 1265.5h1.7v26.4h-1.7zM3053.0 1267.5h2.1v24.4h-2.1zM3055.2 1197.0h1.7v70.5h-1.7zM3055.0 1254.9h2.1v12.6h-2.1zM3057.1 1232.6h1.7v23.9h-1.7zM3056.9 1236.3h2.1v18.6h-2.1zM3059.1 1190.5h1.7v46.6h-1.7zM3058.9 1211.4h2.1v24.8h-2.1zM3061.0 1196.8h1.7v56.2h-1.7zM3060.8 1207.4h2.1v4.1h-2.1zM3063.0 1177.0h1.7v37.2h-1.7zM3062.8 1180.9h2.1v26.4h-2.1zM3066.9 1177.7h1.7v8.1h-1.7zM3066.7 1181.2h2.1v2.8h-2.1zM3082.5 1219.7h1.7v27.0h-1.7zM3082.3 1226.3h2.1v13.4h-2.1zM3084.4 1176.3h1.7v71.2h-1.7zM3084.2 1186.3h2.1v40.0h-2.1zM3086.4 931.3h1.7v255.0h-1.7zM3086.2 933.1h2.1v253.3h-2.1zM3088.3 863.2h1.7v94.8h-1.7zM3088.1 877.7h2.1v55.4h-2.1zM3090.3 807.0h1.7v88.4h-1.7zM3090.1 833.0h2.1v44.7h-2.1zM3107.8 903.5h1.7v38.2h-1.7zM3107.6 919.8h2.1v21.8h-2.1zM3109.7 807.0h1.7v112.8h-1.7zM3109.5 854.5h2.1v65.3h-2.1zM3117.5 833.0h1.7v36.5h-1.7zM3117.3 844.1h2.1v23.2h-2.1zM3127.3 788.0h1.7v113.0h-1.7zM3127.1 879.7h2.1v20.0h-2.1zM3129.2 842.8h1.7v40.4h-1.7zM3129.0 859.2h2.1v20.4h-2.1zM3135.1 810.1h1.7v94.2h-1.7zM3134.9 833.4h2.1v48.5h-2.1zM3137.0 817.5h1.7v19.3h-1.7zM3136.8 823.0h2.1v10.4h-2.1zM3144.8 836.5h1.7v97.7h-1.7zM3144.6 845.0h2.1v28.4h-2.1zM3146.8 803.4h1.7v72.8h-1.7zM3146.6 816.5h2.1v28.5h-2.1zM3148.7 756.0h1.7v67.8h-1.7zM3148.5 775.9h2.1v40.6h-2.1zM3156.5 876.3h1.7v42.7h-1.7zM3156.3 876.8h2.1v11.2h-2.1zM3158.5 826.0h1.7v60.5h-1.7zM3158.3 868.8h2.1v8.0h-2.1zM3160.4 845.2h1.7v51.8h-1.7zM3160.2 849.7h2.1v19.0h-2.1zM3164.3 831.6h1.7v78.2h-1.7zM3164.1 877.8h2.1v17.6h-2.1zM3172.1 870.0h1.7v179.5h-1.7zM3171.9 1019.3h2.1v30.2h-2.1zM3174.1 943.4h1.7v75.9h-1.7zM3173.9 971.5h2.1v47.8h-2.1zM3176.0 913.4h1.7v58.1h-1.7zM3175.8 932.5h2.1v39.0h-2.1zM3177.9 886.0h1.7v47.9h-1.7zM3177.7 924.6h2.1v7.9h-2.1zM3183.8 922.6h1.7v20.2h-1.7zM3183.6 923.0h2.1v17.4h-2.1zM3187.7 892.3h1.7v47.4h-1.7zM3187.5 915.7h2.1v13.2h-2.1zM3193.5 921.5h1.7v19.6h-1.7zM3193.3 936.4h2.1v1.0h-2.1zM3195.5 843.0h1.7v96.8h-1.7zM3195.3 935.4h2.1v1.0h-2.1zM3197.4 910.9h1.7v28.8h-1.7zM3197.2 911.8h2.1v23.6h-2.1zM3199.4 850.0h1.7v88.8h-1.7zM3199.2 865.4h2.1v46.4h-2.1zM3201.3 803.5h1.7v64.0h-1.7zM3201.1 808.9h2.1v56.5h-2.1zM3203.3 734.1h1.7v80.9h-1.7zM3203.1 741.9h2.1v67.0h-2.1zM3207.2 668.0h1.7v91.9h-1.7zM3207.0 757.5h2.1v2.4h-2.1zM3211.1 722.1h1.7v38.1h-1.7zM3210.9 722.1h2.1v38.1h-2.1zM3213.0 675.7h1.7v46.4h-1.7zM3212.8 698.4h2.1v23.7h-2.1zM3215.0 625.4h1.7v73.0h-1.7zM3214.8 627.9h2.1v70.5h-2.1zM3216.9 563.5h1.7v104.5h-1.7zM3216.7 568.8h2.1v59.1h-2.1zM3218.9 539.6h1.7v44.0h-1.7zM3218.7 563.4h2.1v5.4h-2.1zM3220.8 517.7h1.7v47.6h-1.7zM3220.6 531.6h2.1v31.8h-2.1zM3224.7 531.3h1.7v31.7h-1.7zM3224.5 535.2h2.1v12.0h-2.1zM3226.7 469.0h1.7v70.9h-1.7zM3226.5 499.7h2.1v35.5h-2.1zM3236.4 539.0h1.7v11.0h-1.7zM3236.2 539.7h2.1v10.3h-2.1zM3238.4 486.0h1.7v53.7h-1.7zM3238.2 496.3h2.1v43.4h-2.1zM3240.3 450.0h1.7v47.8h-1.7zM3240.1 485.9h2.1v10.4h-2.1zM3244.2 455.1h1.7v38.5h-1.7zM3244.0 458.0h2.1v32.4h-2.1zM3253.9 503.0h1.7v36.6h-1.7zM3253.7 536.9h2.1v1.7h-2.1zM3259.8 508.5h1.7v43.3h-1.7zM3259.6 540.7h2.1v11.1h-2.1zM3261.7 484.3h1.7v56.4h-1.7zM3261.5 487.7h2.1v53.0h-2.1zM3263.7 426.8h1.7v76.2h-1.7zM3263.5 430.8h2.1v56.9h-2.1zM3265.6 416.2h1.7v15.2h-1.7zM3265.4 426.9h2.1v3.9h-2.1zM3267.6 391.5h1.7v35.4h-1.7zM3267.4 397.3h2.1v29.6h-2.1zM3269.5 349.0h1.7v48.3h-1.7zM3269.3 363.5h2.1v33.9h-2.1zM3271.5 339.6h1.7v27.1h-1.7zM3271.3 343.7h2.1v19.7h-2.1zM3273.4 302.1h1.7v48.8h-1.7zM3273.2 312.8h2.1v31.0h-2.1zM3275.4 259.0h1.7v71.0h-1.7zM3275.2 286.7h2.1v26.0h-2.1zM3281.2 333.1h1.7v82.9h-1.7zM3281.0 342.4h2.1v11.2h-2.1zM3283.2 304.0h1.7v90.3h-1.7zM3283.0 316.5h2.1v25.9h-2.1zM3289.0 308.8h1.7v55.7h-1.7zM3288.8 317.4h2.1v40.7h-2.1zM3291.0 286.7h1.7v41.2h-1.7zM3290.8 292.7h2.1v24.7h-2.1zM3294.9 225.0h1.7v85.9h-1.7zM3294.7 279.4h2.1v19.7h-2.1zM3302.7 348.5h1.7v16.7h-1.7zM3302.5 353.0h2.1v5.7h-2.1zM3304.6 344.2h1.7v23.0h-1.7zM3304.4 352.7h2.1v1.0h-2.1zM3308.5 322.3h1.7v52.7h-1.7zM3308.3 341.8h2.1v13.9h-2.1zM3310.5 319.0h1.7v25.9h-1.7zM3310.3 337.6h2.1v4.2h-2.1zM3314.4 328.8h1.7v17.8h-1.7zM3314.2 335.8h2.1v7.2h-2.1zM3322.2 361.3h1.7v9.2h-1.7zM3322.0 363.3h2.1v6.4h-2.1zM3326.0 354.3h1.7v12.8h-1.7zM3325.8 356.0h2.1v10.5h-2.1zM3328.0 322.0h1.7v42.0h-1.7zM3327.8 345.6h2.1v10.4h-2.1zM3329.9 319.7h1.7v33.2h-1.7zM3329.7 331.3h2.1v14.3h-2.1zM3335.8 264.0h1.7v87.5h-1.7zM3335.6 336.5h2.1v13.6h-2.1zM3339.7 331.1h1.7v14.6h-1.7zM3339.5 332.7h2.1v12.2h-2.1zM3341.6 319.5h1.7v16.7h-1.7zM3341.4 328.4h2.1v4.3h-2.1zM3343.6 309.2h1.7v29.8h-1.7zM3343.4 310.8h2.1v17.6h-2.1zM3345.5 290.0h1.7v23.6h-1.7zM3345.3 294.3h2.1v16.6h-2.1zM3357.2 380.0h1.7v78.9h-1.7zM3357.0 434.4h2.1v20.2h-2.1zM3359.2 423.5h1.7v36.0h-1.7zM3359.0 429.0h2.1v5.3h-2.1zM3363.1 376.0h1.7v65.5h-1.7zM3362.9 414.1h2.1v27.4h-2.1zM3365.0 351.9h1.7v62.2h-1.7zM3364.8 365.7h2.1v48.4h-2.1zM3367.0 266.0h1.7v102.1h-1.7zM3366.8 308.7h2.1v57.0h-2.1zM3370.9 272.2h1.7v56.4h-1.7zM3370.7 277.1h2.1v45.1h-2.1zM3378.7 280.6h1.7v83.1h-1.7zM3378.5 291.4h2.1v58.8h-2.1zM3382.6 280.0h1.7v52.2h-1.7zM3382.4 284.1h2.1v25.1h-2.1zM3388.4 361.0h1.7v16.8h-1.7zM3388.2 371.0h2.1v2.9h-2.1zM3392.3 364.4h1.7v70.5h-1.7zM3392.1 377.7h2.1v47.2h-2.1zM3396.2 385.4h1.7v60.1h-1.7zM3396.0 417.8h2.1v13.0h-2.1zM3400.1 399.5h1.7v48.8h-1.7zM3399.9 411.1h2.1v12.0h-2.1zM3404.0 376.0h1.7v92.8h-1.7zM3403.8 445.7h2.1v5.6h-2.1zM3407.9 420.5h1.7v36.5h-1.7zM3407.7 451.2h2.1v2.1h-2.1zM3411.8 418.4h1.7v84.6h-1.7zM3411.6 441.8h2.1v28.2h-2.1zM3413.7 380.2h1.7v68.1h-1.7zM3413.5 419.1h2.1v22.7h-2.1zM3417.6 441.4h1.7v61.8h-1.7zM3417.4 473.7h2.1v23.4h-2.1zM3419.6 381.8h1.7v116.8h-1.7zM3419.4 470.8h2.1v2.9h-2.1zM3423.5 481.4h1.7v46.7h-1.7zM3423.3 491.0h2.1v17.6h-2.1zM3433.2 545.2h1.7v79.8h-1.7zM3433.0 566.2h2.1v21.3h-2.1zM3439.1 523.0h1.7v166.8h-1.7zM3438.9 668.8h2.1v21.0h-2.1zM3441.0 647.0h1.7v21.8h-1.7zM3440.8 647.2h2.1v21.7h-2.1zM3443.0 582.9h1.7v64.3h-1.7zM3442.8 592.4h2.1v54.7h-2.1zM3444.9 576.3h1.7v28.7h-1.7zM3444.7 577.1h2.1v15.4h-2.1zM3446.9 530.2h1.7v47.7h-1.7zM3446.7 560.6h2.1v16.4h-2.1zM3450.8 526.2h1.7v53.0h-1.7zM3450.6 559.6h2.1v4.7h-2.1zM3458.6 635.0h1.7v20.6h-1.7zM3458.4 649.3h2.1v4.1h-2.1zM3460.5 665.4h1.7v28.9h-1.7zM3460.3 669.1h2.1v17.2h-2.1z"/><path fill="#F23645" d="M163.3 1107.0h1.7v37.3h-1.7zM163.1 1125.3h2.1v18.2h-2.1zM167.2 1096.4h1.7v50.6h-1.7zM167.0 1113.9h2.1v6.2h-2.1zM173.1 1073.4h1.7v68.9h-1.7zM172.9 1095.8h2.1v37.9h-2.1zM175.0 1110.2h1.7v29.1h-1.7zM174.8 1133.6h2.1v1.3h-2.1zM184.7 1020.6h1.7v47.4h-1.7zM184.5 1044.0h2.1v13.1h-2.1zM192.5 878.3h1.7v44.5h-1.7zM192.3 890.4h2.1v10.3h-2.1zM194.5 879.0h1.7v210.0h-1.7zM194.3 900.7h2.1v102.6h-2.1zM198.4 963.0h1.7v93.6h-1.7zM198.2 998.7h2.1v57.4h-2.1zM200.3 1052.9h1.7v28.8h-1.7zM200.1 1056.1h2.1v19.1h-2.1zM212.0 878.6h1.7v46.4h-1.7zM211.8 888.6h2.1v16.1h-2.1zM237.4 470.8h1.7v129.2h-1.7zM237.2 496.1h2.1v22.0h-2.1zM243.2 425.7h1.7v132.3h-1.7zM243.0 464.3h2.1v34.7h-2.1zM247.1 446.0h1.7v32.1h-1.7zM246.9 453.3h2.1v23.6h-2.1zM251.0 409.2h1.7v144.8h-1.7zM250.8 450.1h2.1v54.6h-2.1zM252.9 400.0h1.7v125.1h-1.7zM252.7 504.7h2.1v1.0h-2.1zM254.9 505.7h1.7v85.3h-1.7zM254.7 505.7h2.1v69.5h-2.1zM256.8 575.2h1.7v125.5h-1.7zM256.6 575.2h2.1v110.2h-2.1zM258.8 685.4h1.7v87.6h-1.7zM258.6 685.4h2.1v64.9h-2.1zM260.7 748.9h1.7v151.1h-1.7zM260.5 750.3h2.1v72.0h-2.1zM264.6 808.9h1.7v447.1h-1.7zM264.4 816.1h2.1v52.8h-2.1zM266.6 744.0h1.7v159.2h-1.7zM266.4 868.9h2.1v18.3h-2.1zM268.5 841.7h1.7v343.3h-1.7zM268.3 887.3h2.1v10.4h-2.1zM274.4 821.9h1.7v123.3h-1.7zM274.2 845.4h2.1v54.1h-2.1zM276.3 866.1h1.7v135.6h-1.7zM276.1 899.5h2.1v90.4h-2.1zM286.1 798.3h1.7v81.7h-1.7zM285.9 820.5h2.1v2.6h-2.1zM290.0 788.8h1.7v29.4h-1.7zM289.8 790.6h2.1v22.1h-2.1zM291.9 801.3h1.7v69.1h-1.7zM291.7 812.8h2.1v9.6h-2.1zM295.8 800.7h1.7v14.1h-1.7zM295.6 813.8h2.1v1.0h-2.1zM297.8 814.1h1.7v67.0h-1.7zM297.6 814.1h2.1v39.7h-2.1zM299.7 843.0h1.7v42.8h-1.7zM299.5 853.8h2.1v18.9h-2.1zM301.7 864.7h1.7v108.3h-1.7zM301.5 872.8h2.1v12.6h-2.1zM303.6 875.8h1.7v109.5h-1.7zM303.4 885.4h2.1v67.0h-2.1zM305.6 948.5h1.7v42.2h-1.7zM305.4 952.4h2.1v31.0h-2.1zM307.5 967.9h1.7v27.4h-1.7zM307.3 983.3h2.1v4.5h-2.1zM311.4 930.1h1.7v46.6h-1.7zM311.2 931.0h2.1v10.4h-2.1zM315.3 928.0h1.7v118.9h-1.7zM315.1 932.5h2.1v76.4h-2.1zM317.3 984.0h1.7v79.7h-1.7zM317.1 1008.8h2.1v45.8h-2.1zM319.2 1016.1h1.7v164.9h-1.7zM319.0 1054.6h2.1v99.4h-2.1zM321.2 1095.7h1.7v175.3h-1.7zM321.0 1154.0h2.1v103.4h-2.1zM327.0 1125.1h1.7v33.2h-1.7zM326.8 1127.4h2.1v11.1h-2.1zM328.9 1132.7h1.7v128.3h-1.7zM328.7 1138.5h2.1v48.8h-2.1zM332.8 1106.5h1.7v57.8h-1.7zM332.6 1135.0h2.1v1.0h-2.1zM336.7 1060.6h1.7v43.4h-1.7zM336.5 1073.0h2.1v11.5h-2.1zM342.6 1054.1h1.7v41.9h-1.7zM342.4 1054.7h2.1v11.1h-2.1zM346.5 1037.3h1.7v50.7h-1.7zM346.3 1048.6h2.1v31.7h-2.1zM350.4 1029.7h1.7v56.2h-1.7zM350.2 1048.3h2.1v29.8h-2.1zM354.3 1019.7h1.7v65.2h-1.7zM354.1 1029.0h2.1v13.8h-2.1zM356.2 1036.4h1.7v53.8h-1.7zM356.0 1042.8h2.1v44.9h-2.1zM358.2 1080.4h1.7v64.1h-1.7zM358.0 1087.7h2.1v50.0h-2.1zM360.1 1126.9h1.7v34.3h-1.7zM359.9 1137.7h2.1v17.2h-2.1zM366.0 1089.9h1.7v98.1h-1.7zM365.8 1089.9h2.1v35.3h-2.1zM369.9 1108.1h1.7v40.2h-1.7zM369.7 1117.8h2.1v20.4h-2.1zM375.7 1110.8h1.7v20.9h-1.7zM375.5 1110.8h2.1v11.7h-2.1zM377.7 1114.7h1.7v50.1h-1.7zM377.5 1122.5h2.1v29.9h-2.1zM379.6 1139.2h1.7v121.8h-1.7zM379.4 1152.4h2.1v12.7h-2.1zM381.6 1144.2h1.7v34.6h-1.7zM381.4 1165.0h2.1v13.3h-2.1zM393.3 936.0h1.7v107.0h-1.7zM393.1 943.4h2.1v15.5h-2.1zM395.2 947.0h1.7v50.1h-1.7zM395.0 958.9h2.1v18.6h-2.1zM406.9 799.1h1.7v29.4h-1.7zM406.7 799.2h2.1v6.4h-2.1zM412.7 728.9h1.7v50.2h-1.7zM412.5 743.2h2.1v4.3h-2.1zM422.5 619.0h1.7v103.0h-1.7zM422.3 641.8h2.1v4.3h-2.1zM428.3 616.3h1.7v95.5h-1.7zM428.1 626.2h2.1v44.1h-2.1zM432.2 625.8h1.7v9.1h-1.7zM432.0 625.8h2.1v7.5h-2.1zM434.2 633.3h1.7v24.5h-1.7zM434.0 633.3h2.1v21.1h-2.1zM440.0 626.1h1.7v52.7h-1.7zM439.8 635.3h2.1v38.8h-2.1zM442.0 671.3h1.7v33.6h-1.7zM441.8 674.1h2.1v11.4h-2.1zM443.9 677.0h1.7v22.8h-1.7zM443.7 685.5h2.1v2.1h-2.1zM447.8 663.6h1.7v32.2h-1.7zM447.6 673.1h2.1v18.2h-2.1zM453.7 614.1h1.7v59.7h-1.7zM453.5 653.8h2.1v5.1h-2.1zM455.6 652.6h1.7v37.9h-1.7zM455.4 658.9h2.1v4.3h-2.1zM469.3 438.5h1.7v18.5h-1.7zM469.1 439.7h2.1v8.6h-2.1zM471.2 445.8h1.7v266.2h-1.7zM471.0 448.3h2.1v82.0h-2.1zM475.1 489.8h1.7v160.0h-1.7zM474.9 489.8h2.1v135.7h-2.1zM477.0 591.5h1.7v87.5h-1.7zM476.8 625.5h2.1v26.8h-2.1zM480.9 640.2h1.7v38.2h-1.7zM480.7 646.0h2.1v9.9h-2.1zM482.9 638.7h1.7v39.4h-1.7zM482.7 655.9h2.1v16.6h-2.1zM496.5 549.0h1.7v75.2h-1.7zM496.3 549.0h2.1v46.5h-2.1zM498.5 595.5h1.7v16.5h-1.7zM498.3 595.5h2.1v14.2h-2.1zM500.4 609.7h1.7v66.1h-1.7zM500.2 609.7h2.1v42.5h-2.1zM502.4 652.2h1.7v182.8h-1.7zM502.2 652.2h2.1v29.8h-2.1zM506.3 672.5h1.7v140.2h-1.7zM506.1 675.7h2.1v92.4h-2.1zM508.2 680.0h1.7v102.3h-1.7zM508.0 768.0h2.1v4.7h-2.1zM510.2 747.4h1.7v84.3h-1.7zM510.0 772.7h2.1v23.7h-2.1zM512.1 789.5h1.7v14.4h-1.7zM511.9 796.4h2.1v7.2h-2.1zM527.7 525.9h1.7v79.1h-1.7zM527.5 532.3h2.1v65.6h-2.1zM529.7 577.7h1.7v66.9h-1.7zM529.5 597.9h2.1v27.2h-2.1zM533.6 595.6h1.7v36.4h-1.7zM533.4 610.4h2.1v5.5h-2.1zM541.4 533.1h1.7v95.9h-1.7zM541.2 544.0h2.1v2.7h-2.1zM549.2 445.1h1.7v80.9h-1.7zM549.0 449.8h2.1v39.9h-2.1zM551.1 463.2h1.7v44.3h-1.7zM550.9 489.7h2.1v5.9h-2.1zM553.0 490.2h1.7v21.1h-1.7zM552.8 495.6h2.1v10.6h-2.1zM560.8 461.2h1.7v10.9h-1.7zM560.6 464.8h2.1v3.8h-2.1zM568.6 385.6h1.7v76.4h-1.7zM568.4 391.1h2.1v3.7h-2.1zM576.4 328.6h1.7v68.4h-1.7zM576.2 333.2h2.1v7.5h-2.1zM578.4 339.7h1.7v16.7h-1.7zM578.2 340.8h2.1v7.3h-2.1zM582.3 336.1h1.7v55.3h-1.7zM582.1 342.8h2.1v18.5h-2.1zM594.0 294.8h1.7v30.1h-1.7zM593.8 296.4h2.1v7.9h-2.1zM595.9 290.1h1.7v40.5h-1.7zM595.7 304.4h2.1v24.1h-2.1zM607.6 307.5h1.7v24.5h-1.7zM607.4 311.9h2.1v16.1h-2.1zM609.6 306.3h1.7v25.4h-1.7zM609.4 328.0h2.1v1.0h-2.1zM611.5 255.0h1.7v86.0h-1.7zM611.3 328.6h2.1v2.8h-2.1zM613.5 325.1h1.7v81.3h-1.7zM613.3 331.5h2.1v70.2h-2.1zM615.4 383.7h1.7v60.6h-1.7zM615.2 401.7h2.1v38.1h-2.1zM625.2 349.1h1.7v104.9h-1.7zM625.0 369.0h2.1v10.7h-2.1zM627.1 372.0h1.7v45.9h-1.7zM626.9 379.7h2.1v32.0h-2.1zM631.0 361.0h1.7v44.3h-1.7zM630.8 388.6h2.1v9.5h-2.1zM632.9 381.5h1.7v64.5h-1.7zM632.7 398.1h2.1v40.2h-2.1zM638.8 259.0h1.7v50.0h-1.7zM638.6 284.8h2.1v23.7h-2.1zM640.7 297.1h1.7v68.1h-1.7zM640.5 308.5h2.1v34.8h-2.1zM642.7 283.9h1.7v108.1h-1.7zM642.5 343.3h2.1v32.1h-2.1zM644.6 319.9h1.7v224.1h-1.7zM644.4 375.4h2.1v91.7h-2.1zM648.5 388.6h1.7v98.1h-1.7zM648.3 441.8h2.1v36.4h-2.1zM654.4 446.2h1.7v13.0h-1.7zM654.2 448.3h2.1v6.4h-2.1zM660.2 427.5h1.7v47.5h-1.7zM660.0 434.5h2.1v9.1h-2.1zM666.1 403.5h1.7v24.7h-1.7zM665.9 418.4h2.1v8.8h-2.1zM670.0 412.1h1.7v111.9h-1.7zM669.8 414.2h2.1v96.1h-2.1zM673.9 472.2h1.7v32.9h-1.7zM673.7 495.1h2.1v5.8h-2.1zM681.7 453.3h1.7v20.9h-1.7zM681.5 463.6h2.1v5.9h-2.1zM689.5 437.8h1.7v43.4h-1.7zM689.3 451.4h2.1v21.9h-2.1zM691.4 454.7h1.7v44.1h-1.7zM691.2 473.3h2.1v18.2h-2.1zM693.4 425.0h1.7v80.9h-1.7zM693.2 491.5h2.1v9.8h-2.1zM695.3 495.5h1.7v41.5h-1.7zM695.1 501.3h2.1v7.9h-2.1zM699.2 464.9h1.7v25.4h-1.7zM699.0 467.0h2.1v12.5h-2.1zM703.1 462.0h1.7v7.7h-1.7zM702.9 468.6h2.1v1.0h-2.1zM705.0 468.8h1.7v72.2h-1.7zM704.8 468.8h2.1v5.9h-2.1zM707.0 474.7h1.7v6.2h-1.7zM706.8 474.7h2.1v5.9h-2.1zM708.9 480.0h1.7v41.7h-1.7zM708.7 480.5h2.1v39.4h-2.1zM710.9 519.9h1.7v40.1h-1.7zM710.7 519.9h2.1v28.6h-2.1zM712.8 548.5h1.7v75.3h-1.7zM712.6 548.5h2.1v65.9h-2.1zM714.8 614.5h1.7v30.4h-1.7zM714.6 614.5h2.1v24.6h-2.1zM716.7 637.7h1.7v101.3h-1.7zM716.5 639.1h2.1v23.1h-2.1zM718.7 648.6h1.7v22.8h-1.7zM718.5 662.2h2.1v9.0h-2.1zM724.5 597.4h1.7v19.2h-1.7zM724.3 603.0h2.1v9.2h-2.1zM726.5 610.1h1.7v43.9h-1.7zM726.3 612.2h2.1v17.0h-2.1zM730.4 606.3h1.7v36.5h-1.7zM730.2 609.4h2.1v15.6h-2.1zM732.3 616.4h1.7v40.9h-1.7zM732.1 625.0h2.1v30.9h-2.1zM736.2 634.4h1.7v94.2h-1.7zM736.0 634.4h2.1v93.0h-2.1zM738.2 688.9h1.7v131.4h-1.7zM738.0 727.4h2.1v56.5h-2.1zM740.1 706.0h1.7v153.0h-1.7zM739.9 783.9h2.1v20.2h-2.1zM742.1 785.9h1.7v121.1h-1.7zM741.9 804.1h2.1v41.9h-2.1zM744.0 835.3h1.7v77.0h-1.7zM743.8 846.0h2.1v30.7h-2.1zM746.0 874.4h1.7v161.6h-1.7zM745.8 876.7h2.1v88.9h-2.1zM751.8 904.5h1.7v65.5h-1.7zM751.6 908.4h2.1v8.3h-2.1zM759.6 835.2h1.7v67.8h-1.7zM759.4 853.7h2.1v7.8h-2.1zM771.3 647.6h1.7v83.4h-1.7zM771.1 655.5h2.1v18.4h-2.1zM773.3 656.3h1.7v36.4h-1.7zM773.1 674.0h2.1v17.3h-2.1zM775.2 637.0h1.7v73.7h-1.7zM775.0 691.2h2.1v6.5h-2.1zM777.1 686.3h1.7v37.7h-1.7zM776.9 697.7h2.1v4.9h-2.1zM779.1 702.2h1.7v18.7h-1.7zM778.9 702.7h2.1v6.2h-2.1zM783.0 674.9h1.7v86.2h-1.7zM782.8 707.9h2.1v52.4h-2.1zM786.9 751.5h1.7v46.3h-1.7zM786.7 754.0h2.1v27.0h-2.1zM790.8 746.3h1.7v97.6h-1.7zM790.6 777.2h2.1v60.0h-2.1zM792.7 731.0h1.7v119.4h-1.7zM792.5 837.2h2.1v2.9h-2.1zM794.7 838.2h1.7v30.8h-1.7zM794.5 840.1h2.1v23.0h-2.1zM800.5 756.0h1.7v71.1h-1.7zM800.3 793.1h2.1v20.4h-2.1zM802.5 806.2h1.7v66.8h-1.7zM802.3 813.5h2.1v6.1h-2.1zM804.4 819.5h1.7v9.0h-1.7zM804.2 819.6h2.1v1.7h-2.1zM806.4 765.9h1.7v108.7h-1.7zM806.2 821.3h2.1v7.0h-2.1zM808.3 794.8h1.7v181.2h-1.7zM808.1 828.4h2.1v11.8h-2.1zM810.3 769.9h1.7v103.2h-1.7zM810.1 840.1h2.1v9.4h-2.1zM812.2 833.1h1.7v39.9h-1.7zM812.0 849.6h2.1v2.2h-2.1zM818.1 731.5h1.7v66.5h-1.7zM817.9 749.9h2.1v15.9h-2.1zM820.0 752.9h1.7v55.8h-1.7zM819.8 765.8h2.1v33.6h-2.1zM822.0 794.8h1.7v23.5h-1.7zM821.8 799.5h2.1v9.7h-2.1zM823.9 795.2h1.7v119.8h-1.7zM823.7 809.2h2.1v50.2h-2.1zM829.8 833.7h1.7v32.7h-1.7zM829.6 834.5h2.1v21.5h-2.1zM837.6 811.3h1.7v81.3h-1.7zM837.4 826.7h2.1v27.4h-2.1zM849.3 772.6h1.7v33.4h-1.7zM849.1 777.1h2.1v1.0h-2.1zM853.1 739.1h1.7v23.0h-1.7zM852.9 747.4h2.1v8.5h-2.1zM855.1 735.2h1.7v61.7h-1.7zM854.9 755.8h2.1v1.5h-2.1zM872.6 573.6h1.7v96.4h-1.7zM872.4 581.2h2.1v17.2h-2.1zM876.5 564.2h1.7v61.8h-1.7zM876.3 567.6h2.1v13.4h-2.1zM882.4 546.6h1.7v8.3h-1.7zM882.2 549.1h2.1v3.2h-2.1zM884.3 552.4h1.7v61.4h-1.7zM884.1 552.4h2.1v20.5h-2.1zM886.3 572.9h1.7v29.7h-1.7zM886.1 572.9h2.1v20.5h-2.1zM888.2 593.4h1.7v43.7h-1.7zM888.0 593.4h2.1v29.1h-2.1zM890.2 618.1h1.7v112.9h-1.7zM890.0 622.5h2.1v21.0h-2.1zM896.0 618.7h1.7v36.6h-1.7zM895.8 636.4h2.1v12.7h-2.1zM898.0 642.9h1.7v27.4h-1.7zM897.8 649.2h2.1v20.0h-2.1zM901.9 659.2h1.7v34.9h-1.7zM901.7 659.2h2.1v33.3h-2.1zM903.8 688.9h1.7v68.1h-1.7zM903.6 692.5h2.1v19.0h-2.1zM913.6 660.0h1.7v36.2h-1.7zM913.4 672.2h2.1v15.3h-2.1zM915.5 686.8h1.7v27.8h-1.7zM915.3 687.5h2.1v23.0h-2.1zM917.5 705.4h1.7v14.3h-1.7zM917.3 710.5h2.1v9.1h-2.1zM919.4 719.1h1.7v16.0h-1.7zM919.2 719.6h2.1v12.6h-2.1zM921.4 728.1h1.7v18.3h-1.7zM921.2 732.3h2.1v8.9h-2.1zM923.3 733.7h1.7v22.8h-1.7zM923.1 741.2h2.1v6.6h-2.1zM927.2 704.0h1.7v47.7h-1.7zM927.0 725.2h2.1v1.0h-2.1zM929.1 719.5h1.7v74.5h-1.7zM928.9 725.9h2.1v20.9h-2.1zM933.0 739.7h1.7v42.2h-1.7zM932.8 739.7h2.1v42.2h-2.1zM935.0 778.1h1.7v32.9h-1.7zM934.8 781.9h2.1v7.9h-2.1zM938.9 781.5h1.7v19.2h-1.7zM938.7 783.1h2.1v14.3h-2.1zM940.8 787.6h1.7v22.0h-1.7zM940.6 797.4h2.1v9.0h-2.1zM944.7 788.8h1.7v52.5h-1.7zM944.5 797.0h2.1v38.0h-2.1zM946.7 798.0h1.7v63.6h-1.7zM946.5 834.9h2.1v9.6h-2.1zM948.6 844.6h1.7v108.8h-1.7zM948.4 844.6h2.1v107.7h-2.1zM950.6 944.0h1.7v127.0h-1.7zM950.4 952.3h2.1v98.8h-2.1zM952.5 1039.0h1.7v150.8h-1.7zM952.3 1051.1h2.1v122.3h-2.1zM954.5 1129.4h1.7v141.6h-1.7zM954.3 1173.4h2.1v77.4h-2.1zM960.3 1085.8h1.7v58.2h-1.7zM960.1 1099.1h2.1v7.6h-2.1zM962.3 1085.6h1.7v66.2h-1.7zM962.1 1106.7h2.1v34.3h-2.1zM968.1 1093.4h1.7v68.6h-1.7zM967.9 1095.7h2.1v37.4h-2.1zM975.9 1089.7h1.7v66.3h-1.7zM975.7 1098.1h2.1v6.5h-2.1zM977.9 1083.7h1.7v38.6h-1.7zM977.7 1104.6h2.1v10.3h-2.1zM981.8 1104.0h1.7v67.6h-1.7zM981.6 1104.0h2.1v54.7h-2.1zM983.7 1158.7h1.7v73.4h-1.7zM983.5 1158.7h2.1v70.9h-2.1zM985.7 1225.9h1.7v43.1h-1.7zM985.5 1229.6h2.1v7.3h-2.1zM993.5 1132.1h1.7v107.9h-1.7zM993.3 1148.0h2.1v13.2h-2.1zM997.4 1143.2h1.7v20.3h-1.7zM997.2 1143.2h2.1v5.7h-2.1zM999.3 1148.9h1.7v31.0h-1.7zM999.1 1148.9h2.1v12.2h-2.1zM1001.2 1156.2h1.7v100.8h-1.7zM1001.0 1161.1h2.1v1.0h-2.1zM1003.2 1156.3h1.7v12.1h-1.7zM1003.0 1161.1h2.1v1.0h-2.1zM1005.1 1156.4h1.7v31.5h-1.7zM1004.9 1161.1h2.1v21.3h-2.1zM1007.1 1156.6h1.7v76.6h-1.7zM1006.9 1182.4h2.1v33.7h-2.1zM1009.0 1213.3h1.7v53.7h-1.7zM1008.8 1216.1h2.1v47.8h-2.1zM1011.0 1259.6h1.7v25.4h-1.7zM1010.8 1263.9h2.1v17.2h-2.1zM1012.9 1281.1h1.7v48.1h-1.7zM1012.7 1281.1h2.1v45.6h-2.1zM1014.9 1326.7h1.7v74.4h-1.7zM1014.7 1326.7h2.1v72.3h-2.1zM1016.8 1399.0h1.7v99.5h-1.7zM1016.6 1399.0h2.1v78.4h-2.1zM1020.7 1465.1h1.7v176.9h-1.7zM1020.5 1465.1h2.1v80.5h-2.1zM1022.7 1545.6h1.7v215.7h-1.7zM1022.5 1545.6h2.1v205.1h-2.1zM1024.6 1710.4h1.7v104.7h-1.7zM1024.4 1750.8h2.1v34.1h-2.1zM1026.6 1763.2h1.7v57.8h-1.7zM1026.4 1784.9h2.1v32.4h-2.1zM1028.5 1808.9h1.7v109.1h-1.7zM1028.3 1817.3h2.1v8.8h-2.1zM1038.3 1657.1h1.7v61.4h-1.7zM1038.1 1683.0h2.1v13.5h-2.1zM1048.0 1649.5h1.7v55.3h-1.7zM1047.8 1651.0h2.1v41.5h-2.1zM1050.0 1674.5h1.7v82.9h-1.7zM1049.8 1692.5h2.1v46.8h-2.1zM1051.9 1720.0h1.7v73.0h-1.7zM1051.7 1739.3h2.1v14.8h-2.1zM1069.5 1566.9h1.7v91.1h-1.7zM1069.3 1566.9h2.1v45.2h-2.1zM1073.4 1607.4h1.7v42.6h-1.7zM1073.2 1607.4h2.1v40.9h-2.1zM1075.3 1639.4h1.7v145.6h-1.7zM1075.1 1648.3h2.1v72.1h-2.1zM1092.8 1297.3h1.7v193.7h-1.7zM1092.6 1338.4h2.1v13.0h-2.1zM1094.8 1333.9h1.7v82.2h-1.7zM1094.6 1351.4h2.1v17.6h-2.1zM1096.7 1330.6h1.7v101.2h-1.7zM1096.5 1369.1h2.1v14.0h-2.1zM1102.6 1309.3h1.7v182.7h-1.7zM1102.4 1317.3h2.1v34.4h-2.1zM1112.3 1227.1h1.7v11.0h-1.7zM1112.1 1229.9h2.1v3.4h-2.1zM1114.3 1230.8h1.7v24.7h-1.7zM1114.1 1233.3h2.1v20.2h-2.1zM1118.2 1233.3h1.7v110.2h-1.7zM1118.0 1240.1h2.1v57.8h-2.1zM1127.9 1256.3h1.7v37.7h-1.7zM1127.7 1265.6h2.1v6.6h-2.1zM1137.7 1137.7h1.7v67.3h-1.7zM1137.5 1146.8h2.1v39.3h-2.1zM1143.5 1163.5h1.7v20.3h-1.7zM1143.3 1168.8h2.1v11.5h-2.1zM1147.4 1140.0h1.7v66.7h-1.7zM1147.2 1159.3h2.1v33.4h-2.1zM1149.4 1187.9h1.7v42.4h-1.7zM1149.2 1192.7h2.1v22.4h-2.1zM1151.3 1208.6h1.7v47.5h-1.7zM1151.1 1215.1h2.1v36.2h-2.1zM1153.2 1238.6h1.7v79.1h-1.7zM1153.0 1251.3h2.1v53.7h-2.1zM1155.2 1262.0h1.7v101.2h-1.7zM1155.0 1305.0h2.1v41.8h-2.1zM1157.1 1319.7h1.7v67.9h-1.7zM1156.9 1346.8h2.1v38.7h-2.1zM1163.0 1372.8h1.7v31.1h-1.7zM1162.8 1378.3h2.1v18.9h-2.1zM1164.9 1371.0h1.7v48.8h-1.7zM1164.7 1397.2h2.1v9.9h-2.1zM1168.8 1364.3h1.7v81.7h-1.7zM1168.6 1386.1h2.1v30.5h-2.1zM1182.5 1356.9h1.7v23.2h-1.7zM1182.3 1357.6h2.1v4.9h-2.1zM1188.3 1272.3h1.7v46.0h-1.7zM1188.1 1313.7h2.1v2.3h-2.1zM1196.1 1251.0h1.7v49.8h-1.7zM1195.9 1254.7h2.1v40.4h-2.1zM1198.1 1294.7h1.7v81.2h-1.7zM1197.9 1295.1h2.1v75.2h-2.1zM1200.0 1327.5h1.7v87.7h-1.7zM1199.8 1370.3h2.1v26.4h-2.1zM1202.0 1298.0h1.7v143.9h-1.7zM1201.8 1396.7h2.1v35.7h-2.1zM1203.9 1427.8h1.7v71.0h-1.7zM1203.7 1432.4h2.1v37.7h-2.1zM1205.9 1461.9h1.7v56.2h-1.7zM1205.7 1470.1h2.1v23.1h-2.1zM1207.8 1411.0h1.7v122.5h-1.7zM1207.6 1493.2h2.1v39.9h-2.1zM1209.8 1506.2h1.7v48.1h-1.7zM1209.6 1533.1h2.1v11.5h-2.1zM1213.7 1464.0h1.7v118.7h-1.7zM1213.5 1485.2h2.1v71.1h-2.1zM1215.6 1524.0h1.7v71.0h-1.7zM1215.4 1556.3h2.1v19.8h-2.1zM1223.4 1474.1h1.7v45.5h-1.7zM1223.2 1477.2h2.1v30.3h-2.1zM1225.4 1496.1h1.7v72.9h-1.7zM1225.2 1507.5h2.1v15.8h-2.1zM1233.1 1479.5h1.7v10.4h-1.7zM1232.9 1482.8h2.1v7.1h-2.1zM1235.1 1478.5h1.7v82.6h-1.7zM1234.9 1489.9h2.1v1.0h-2.1zM1239.0 1472.3h1.7v15.6h-1.7zM1238.8 1479.6h2.1v3.7h-2.1zM1240.9 1474.8h1.7v26.7h-1.7zM1240.7 1483.4h2.1v9.9h-2.1zM1242.9 1491.8h1.7v19.6h-1.7zM1242.7 1493.2h2.1v15.0h-2.1zM1244.8 1464.0h1.7v79.2h-1.7zM1244.6 1508.2h2.1v34.0h-2.1zM1246.8 1525.2h1.7v34.6h-1.7zM1246.6 1542.2h2.1v4.8h-2.1zM1250.7 1502.1h1.7v56.9h-1.7zM1250.5 1503.3h2.1v50.3h-2.1zM1252.6 1537.6h1.7v61.2h-1.7zM1252.4 1553.6h2.1v29.3h-2.1zM1256.5 1558.9h1.7v62.1h-1.7zM1256.3 1579.0h2.1v17.1h-2.1zM1260.4 1534.5h1.7v54.3h-1.7zM1260.2 1560.2h2.1v13.9h-2.1zM1270.2 1476.4h1.7v30.0h-1.7zM1270.0 1494.6h2.1v1.0h-2.1zM1272.1 1491.4h1.7v40.7h-1.7zM1271.9 1494.7h2.1v7.2h-2.1zM1278.0 1427.3h1.7v39.7h-1.7zM1277.8 1445.3h2.1v13.3h-2.1zM1281.9 1420.8h1.7v87.7h-1.7zM1281.7 1430.7h2.1v67.2h-2.1zM1289.7 1315.6h1.7v63.0h-1.7zM1289.5 1336.4h2.1v31.4h-2.1zM1293.6 1346.2h1.7v45.8h-1.7zM1293.4 1349.1h2.1v17.8h-2.1zM1301.3 1285.0h1.7v36.6h-1.7zM1301.1 1290.4h2.1v23.0h-2.1zM1303.3 1313.4h1.7v51.6h-1.7zM1303.1 1313.4h2.1v32.7h-2.1zM1305.2 1339.6h1.7v125.9h-1.7zM1305.0 1346.1h2.1v97.2h-2.1zM1309.1 1426.5h1.7v297.5h-1.7zM1308.9 1426.5h2.1v43.5h-2.1zM1311.1 1470.0h1.7v66.1h-1.7zM1310.9 1470.0h2.1v38.8h-2.1zM1313.0 1508.8h1.7v204.2h-1.7zM1312.8 1508.8h2.1v43.3h-2.1zM1316.9 1530.6h1.7v53.0h-1.7zM1316.7 1530.6h2.1v22.7h-2.1zM1318.9 1541.6h1.7v40.9h-1.7zM1318.7 1553.3h2.1v17.2h-2.1zM1320.8 1558.0h1.7v79.0h-1.7zM1320.6 1570.5h2.1v17.2h-2.1zM1322.8 1578.4h1.7v57.2h-1.7zM1322.6 1587.7h2.1v18.2h-2.1zM1324.7 1600.2h1.7v46.1h-1.7zM1324.5 1605.9h2.1v38.2h-2.1zM1328.6 1590.0h1.7v85.7h-1.7zM1328.4 1627.3h2.1v1.0h-2.1zM1330.6 1617.1h1.7v102.9h-1.7zM1330.4 1627.7h2.1v5.9h-2.1zM1332.5 1623.0h1.7v54.1h-1.7zM1332.3 1633.5h2.1v22.8h-2.1zM1334.5 1633.5h1.7v56.8h-1.7zM1334.3 1656.4h2.1v17.9h-2.1zM1342.3 1590.3h1.7v62.7h-1.7zM1342.1 1590.7h2.1v30.4h-2.1zM1352.0 1527.8h1.7v73.2h-1.7zM1351.8 1537.2h2.1v21.4h-2.1zM1357.9 1533.3h1.7v20.8h-1.7zM1357.7 1537.3h2.1v6.1h-2.1zM1365.7 1537.4h1.7v20.1h-1.7zM1365.5 1538.1h2.1v8.8h-2.1zM1367.6 1533.7h1.7v23.6h-1.7zM1367.4 1546.9h2.1v10.1h-2.1zM1369.6 1545.9h1.7v26.4h-1.7zM1369.4 1557.0h2.1v4.4h-2.1zM1377.3 1512.6h1.7v47.4h-1.7zM1377.1 1513.6h2.1v12.2h-2.1zM1379.3 1519.1h1.7v57.1h-1.7zM1379.1 1525.8h2.1v42.7h-2.1zM1381.2 1535.8h1.7v117.2h-1.7zM1381.0 1568.5h2.1v78.0h-2.1zM1389.0 1582.8h1.7v40.5h-1.7zM1388.8 1592.9h2.1v14.9h-2.1zM1391.0 1583.0h1.7v47.4h-1.7zM1390.8 1607.8h2.1v17.3h-2.1zM1392.9 1624.2h1.7v5.8h-1.7zM1392.7 1625.0h2.1v1.8h-2.1zM1398.8 1605.2h1.7v20.3h-1.7zM1398.6 1610.0h2.1v11.8h-2.1zM1400.7 1621.4h1.7v3.8h-1.7zM1400.5 1621.8h2.1v1.4h-2.1zM1406.6 1607.6h1.7v16.4h-1.7zM1406.4 1614.9h2.1v7.2h-2.1zM1412.4 1613.1h1.7v9.9h-1.7zM1412.2 1613.2h2.1v3.4h-2.1zM1431.9 1488.5h1.7v51.5h-1.7zM1431.7 1493.2h2.1v9.9h-2.1zM1439.7 1386.7h1.7v33.3h-1.7zM1439.5 1389.7h2.1v5.6h-2.1zM1447.5 1340.9h1.7v51.1h-1.7zM1447.3 1350.4h2.1v2.7h-2.1zM1449.5 1348.9h1.7v39.7h-1.7zM1449.3 1353.1h2.1v31.1h-2.1zM1457.2 1372.0h1.7v12.0h-1.7zM1457.0 1374.6h2.1v2.6h-2.1zM1465.0 1279.7h1.7v99.3h-1.7zM1464.8 1353.9h2.1v12.0h-2.1zM1467.0 1354.1h1.7v24.8h-1.7zM1466.8 1365.8h2.1v1.0h-2.1zM1470.9 1324.0h1.7v33.6h-1.7zM1470.7 1329.4h2.1v25.9h-2.1zM1472.8 1339.3h1.7v34.3h-1.7zM1472.6 1355.3h2.1v13.4h-2.1zM1478.7 1298.1h1.7v48.3h-1.7zM1478.5 1326.9h2.1v7.0h-2.1zM1480.6 1322.9h1.7v26.6h-1.7zM1480.4 1333.9h2.1v12.6h-2.1zM1486.5 1310.9h1.7v38.8h-1.7zM1486.3 1314.9h2.1v28.5h-2.1zM1490.4 1339.0h1.7v15.6h-1.7zM1490.2 1342.7h2.1v3.4h-2.1zM1492.3 1346.1h1.7v25.7h-1.7zM1492.1 1346.1h2.1v22.5h-2.1zM1494.3 1364.1h1.7v52.9h-1.7zM1494.1 1368.6h2.1v1.0h-2.1zM1506.0 1263.5h1.7v48.5h-1.7zM1505.8 1282.1h2.1v6.3h-2.1zM1507.9 1286.4h1.7v32.7h-1.7zM1507.7 1288.4h2.1v26.2h-2.1zM1509.9 1306.2h1.7v28.2h-1.7zM1509.7 1314.7h2.1v19.1h-2.1zM1513.8 1287.0h1.7v51.5h-1.7zM1513.6 1328.5h2.1v7.9h-2.1zM1515.7 1330.9h1.7v25.1h-1.7zM1515.5 1336.4h2.1v1.0h-2.1zM1517.7 1319.1h1.7v36.3h-1.7zM1517.5 1336.4h2.1v9.3h-2.1zM1523.5 1291.8h1.7v37.3h-1.7zM1523.3 1320.2h2.1v1.2h-2.1zM1525.5 1316.8h1.7v39.8h-1.7zM1525.3 1321.5h2.1v33.0h-2.1zM1529.3 1343.9h1.7v20.1h-1.7zM1529.1 1349.1h2.1v3.8h-2.1zM1535.2 1338.6h1.7v13.3h-1.7zM1535.0 1338.6h2.1v5.5h-2.1zM1537.1 1344.0h1.7v37.0h-1.7zM1536.9 1344.0h2.1v11.5h-2.1zM1539.1 1355.5h1.7v23.4h-1.7zM1538.9 1355.5h2.1v12.2h-2.1zM1541.0 1367.7h1.7v19.7h-1.7zM1540.8 1367.7h2.1v16.1h-2.1zM1543.0 1383.8h1.7v10.4h-1.7zM1542.8 1383.8h2.1v8.3h-2.1zM1544.9 1379.0h1.7v103.0h-1.7zM1544.7 1392.1h2.1v32.2h-2.1zM1554.7 1236.8h1.7v57.5h-1.7zM1554.5 1254.4h2.1v19.5h-2.1zM1558.6 1215.2h1.7v104.8h-1.7zM1558.4 1248.1h2.1v26.3h-2.1zM1564.4 1214.3h1.7v58.7h-1.7zM1564.2 1229.4h2.1v5.7h-2.1zM1570.3 1188.0h1.7v17.4h-1.7zM1570.1 1190.9h2.1v2.6h-2.1zM1572.2 1189.2h1.7v19.1h-1.7zM1572.0 1193.6h2.1v13.1h-2.1zM1574.2 1187.5h1.7v53.2h-1.7zM1574.0 1206.6h2.1v20.9h-2.1zM1576.1 1220.7h1.7v51.5h-1.7zM1575.9 1227.5h2.1v11.8h-2.1zM1580.0 1234.2h1.7v18.8h-1.7zM1579.8 1236.3h2.1v16.7h-2.1zM1587.8 1217.8h1.7v19.2h-1.7zM1587.6 1218.6h2.1v14.1h-2.1zM1599.5 1143.3h1.7v56.7h-1.7zM1599.3 1156.8h2.1v5.9h-2.1zM1603.4 1147.5h1.7v15.3h-1.7zM1603.2 1154.3h2.1v1.3h-2.1zM1605.3 1149.6h1.7v13.6h-1.7zM1605.1 1155.6h2.1v2.7h-2.1zM1607.3 1155.8h1.7v43.1h-1.7zM1607.1 1158.3h2.1v4.4h-2.1zM1615.1 1072.0h1.7v31.0h-1.7zM1614.9 1078.1h2.1v17.1h-2.1zM1617.0 1091.8h1.7v7.3h-1.7zM1616.8 1095.3h2.1v3.2h-2.1zM1620.9 1048.1h1.7v59.7h-1.7zM1620.7 1097.6h2.1v10.0h-2.1zM1622.9 1094.0h1.7v42.9h-1.7zM1622.7 1107.6h2.1v26.0h-2.1zM1624.8 1126.4h1.7v36.9h-1.7zM1624.6 1133.6h2.1v22.8h-2.1zM1628.7 1125.0h1.7v90.1h-1.7zM1628.5 1154.5h2.1v33.2h-2.1zM1630.7 1177.1h1.7v44.9h-1.7zM1630.5 1187.7h2.1v8.3h-2.1zM1632.6 1190.4h1.7v15.8h-1.7zM1632.4 1196.0h2.1v2.1h-2.1zM1634.6 1191.4h1.7v26.7h-1.7zM1634.4 1198.1h2.1v8.8h-2.1zM1636.5 1181.4h1.7v35.2h-1.7zM1636.3 1207.0h2.1v3.2h-2.1zM1646.3 1107.9h1.7v103.1h-1.7zM1646.1 1118.0h2.1v6.9h-2.1zM1648.2 1116.4h1.7v37.7h-1.7zM1648.0 1124.9h2.1v8.3h-2.1zM1650.2 1131.2h1.7v9.8h-1.7zM1650.0 1133.2h2.1v1.0h-2.1zM1656.0 1123.3h1.7v86.4h-1.7zM1655.8 1123.3h2.1v28.7h-2.1zM1658.0 1150.1h1.7v14.4h-1.7zM1657.8 1152.0h2.1v6.2h-2.1zM1659.9 1150.3h1.7v21.5h-1.7zM1659.7 1158.1h2.1v5.1h-2.1zM1661.9 1161.0h1.7v28.8h-1.7zM1661.7 1163.2h2.1v18.4h-2.1zM1663.8 1176.5h1.7v70.5h-1.7zM1663.6 1181.6h2.1v9.1h-2.1zM1667.7 1178.8h1.7v27.7h-1.7zM1667.5 1178.8h2.1v22.8h-2.1zM1669.7 1192.5h1.7v33.4h-1.7zM1669.5 1201.6h2.1v20.7h-2.1zM1673.6 1194.6h1.7v55.4h-1.7zM1673.4 1198.6h2.1v5.6h-2.1zM1679.4 1193.3h1.7v29.0h-1.7zM1679.2 1195.3h2.1v25.0h-2.1zM1689.1 1184.5h1.7v14.9h-1.7zM1688.9 1188.2h2.1v10.9h-2.1zM1693.0 1177.0h1.7v28.1h-1.7zM1692.8 1187.2h2.1v7.7h-2.1zM1695.0 1182.0h1.7v55.0h-1.7zM1694.8 1194.9h2.1v12.7h-2.1zM1696.9 1204.6h1.7v12.5h-1.7zM1696.7 1207.5h2.1v6.0h-2.1zM1714.5 1160.7h1.7v3.2h-1.7zM1714.3 1161.2h2.1v2.1h-2.1zM1716.4 1162.5h1.7v32.1h-1.7zM1716.2 1163.3h2.1v20.2h-2.1zM1720.3 1170.7h1.7v58.3h-1.7zM1720.1 1170.7h2.1v29.8h-2.1zM1722.3 1193.7h1.7v41.9h-1.7zM1722.1 1200.5h2.1v22.8h-2.1zM1726.2 1214.8h1.7v17.9h-1.7zM1726.0 1214.8h2.1v14.5h-2.1zM1728.1 1229.0h1.7v29.2h-1.7zM1727.9 1229.3h2.1v25.6h-2.1zM1730.1 1249.7h1.7v27.0h-1.7zM1729.9 1254.8h2.1v15.7h-2.1zM1732.0 1266.6h1.7v5.4h-1.7zM1731.8 1270.5h2.1v1.0h-2.1zM1734.0 1258.0h1.7v24.0h-1.7zM1733.8 1271.5h2.1v6.6h-2.1zM1735.9 1276.8h1.7v43.2h-1.7zM1735.7 1278.1h2.1v5.9h-2.1zM1743.7 1227.4h1.7v19.1h-1.7zM1743.5 1234.8h2.1v8.7h-2.1zM1751.5 1162.4h1.7v43.6h-1.7zM1751.3 1177.6h2.1v24.3h-2.1zM1757.3 1159.5h1.7v43.8h-1.7zM1757.1 1161.8h2.1v18.5h-2.1zM1769.0 1131.1h1.7v63.9h-1.7zM1768.8 1139.0h2.1v16.6h-2.1zM1774.9 1138.6h1.7v52.7h-1.7zM1774.7 1140.3h2.1v6.6h-2.1zM1776.8 1143.9h1.7v31.1h-1.7zM1776.6 1147.0h2.1v27.4h-2.1zM1778.8 1166.9h1.7v15.1h-1.7zM1778.6 1174.4h2.1v5.7h-2.1zM1780.7 1166.4h1.7v36.6h-1.7zM1780.5 1180.1h2.1v1.0h-2.1zM1788.5 1145.1h1.7v33.9h-1.7zM1788.3 1155.7h2.1v12.7h-2.1zM1794.4 1152.5h1.7v14.8h-1.7zM1794.2 1157.0h2.1v7.2h-2.1zM1796.3 1153.5h1.7v18.7h-1.7zM1796.1 1164.3h2.1v2.3h-2.1zM1800.2 1154.0h1.7v19.4h-1.7zM1800.0 1154.1h2.1v11.7h-2.1zM1804.1 1154.3h1.7v10.7h-1.7zM1803.9 1155.9h2.1v8.1h-2.1zM1808.0 1161.9h1.7v28.1h-1.7zM1807.8 1162.2h2.1v8.2h-2.1zM1810.0 1169.1h1.7v34.8h-1.7zM1809.8 1170.4h2.1v31.3h-2.1zM1813.9 1169.0h1.7v25.3h-1.7zM1813.7 1187.8h2.1v3.1h-2.1zM1815.8 1183.4h1.7v32.6h-1.7zM1815.6 1190.9h2.1v4.8h-2.1zM1817.8 1188.8h1.7v26.7h-1.7zM1817.6 1195.6h2.1v16.9h-2.1zM1819.7 1205.1h1.7v10.2h-1.7zM1819.5 1212.5h2.1v1.0h-2.1zM1823.6 1197.7h1.7v17.1h-1.7zM1823.4 1198.2h2.1v14.3h-2.1zM1827.5 1200.8h1.7v12.7h-1.7zM1827.3 1208.0h2.1v4.4h-2.1zM1835.3 1184.5h1.7v29.8h-1.7zM1835.1 1186.0h2.1v25.9h-2.1zM1841.1 1192.5h1.7v20.1h-1.7zM1840.9 1205.7h2.1v4.9h-2.1zM1845.0 1172.4h1.7v41.7h-1.7zM1844.8 1209.0h2.1v2.2h-2.1zM1847.0 1210.4h1.7v8.8h-1.7zM1846.8 1211.2h2.1v3.1h-2.1zM1850.9 1190.0h1.7v33.0h-1.7zM1850.7 1200.7h2.1v21.0h-2.1zM1852.8 1218.5h1.7v44.2h-1.7zM1852.6 1221.6h2.1v40.6h-2.1zM1854.8 1250.9h1.7v49.4h-1.7zM1854.6 1262.2h2.1v23.3h-2.1zM1856.7 1279.9h1.7v89.1h-1.7zM1856.5 1285.6h2.1v33.2h-2.1zM1862.6 1297.2h1.7v18.5h-1.7zM1862.4 1303.7h2.1v9.1h-2.1zM1872.3 1272.0h1.7v25.0h-1.7zM1872.1 1275.7h2.1v15.4h-2.1zM1874.3 1286.3h1.7v57.7h-1.7zM1874.1 1291.2h2.1v19.3h-2.1zM1878.2 1286.4h1.7v10.4h-1.7zM1878.0 1291.5h2.1v1.0h-2.1zM1880.1 1286.0h1.7v12.9h-1.7zM1879.9 1292.2h2.1v3.2h-2.1zM1884.0 1260.7h1.7v49.3h-1.7zM1883.8 1260.7h2.1v27.4h-2.1zM1886.0 1287.1h1.7v10.7h-1.7zM1885.8 1288.1h2.1v9.6h-2.1zM1887.9 1295.8h1.7v15.4h-1.7zM1887.7 1297.7h2.1v13.2h-2.1zM1891.8 1307.2h1.7v22.8h-1.7zM1891.6 1309.9h2.1v7.4h-2.1zM1895.7 1307.7h1.7v9.9h-1.7zM1895.5 1308.4h2.1v7.0h-2.1zM1899.6 1300.3h1.7v27.6h-1.7zM1899.4 1303.3h2.1v10.5h-2.1zM1901.5 1307.8h1.7v16.4h-1.7zM1901.3 1313.7h2.1v10.1h-2.1zM1903.5 1321.1h1.7v19.6h-1.7zM1903.3 1323.8h2.1v12.8h-2.1zM1905.4 1331.9h1.7v42.1h-1.7zM1905.2 1336.6h2.1v7.6h-2.1zM1913.2 1294.7h1.7v54.3h-1.7zM1913.0 1303.4h2.1v9.9h-2.1zM1917.1 1310.2h1.7v14.6h-1.7zM1916.9 1312.3h2.1v11.5h-2.1zM1924.9 1306.8h1.7v34.1h-1.7zM1924.7 1306.8h2.1v5.9h-2.1zM1926.9 1312.6h1.7v10.4h-1.7zM1926.7 1312.6h2.1v8.2h-2.1zM1928.8 1320.9h1.7v15.9h-1.7zM1928.6 1320.9h2.1v15.2h-2.1zM1930.8 1330.0h1.7v13.8h-1.7zM1930.6 1336.1h2.1v1.0h-2.1zM1932.7 1330.7h1.7v21.3h-1.7zM1932.5 1336.1h2.1v5.4h-2.1zM1944.4 1258.9h1.7v12.1h-1.7zM1944.2 1258.9h2.1v12.0h-2.1zM1946.4 1270.9h1.7v22.0h-1.7zM1946.2 1270.9h2.1v13.7h-2.1zM1948.3 1284.1h1.7v40.9h-1.7zM1948.1 1284.6h2.1v11.9h-2.1zM1952.2 1290.9h1.7v19.7h-1.7zM1952.0 1293.1h2.1v13.8h-2.1zM1956.1 1292.7h1.7v23.3h-1.7zM1955.9 1298.5h2.1v16.5h-2.1zM1958.1 1311.7h1.7v10.6h-1.7zM1957.9 1315.0h2.1v1.0h-2.1zM1963.9 1304.7h1.7v74.3h-1.7zM1963.7 1313.6h2.1v43.8h-2.1zM1967.8 1315.2h1.7v31.6h-1.7zM1967.6 1320.2h2.1v16.4h-2.1zM1973.7 1307.9h1.7v27.9h-1.7zM1973.5 1310.4h2.1v21.7h-2.1zM1975.6 1332.1h1.7v33.9h-1.7zM1975.4 1332.1h2.1v5.2h-2.1zM1981.4 1316.0h1.7v36.2h-1.7zM1981.2 1316.3h2.1v25.6h-2.1zM1993.1 1211.1h1.7v36.9h-1.7zM1992.9 1224.7h2.1v7.7h-2.1zM1995.1 1231.6h1.7v13.8h-1.7zM1994.9 1232.5h2.1v7.5h-2.1zM1997.0 1233.2h1.7v10.8h-1.7zM1996.8 1240.0h2.1v1.1h-2.1zM2010.7 1167.3h1.7v31.2h-1.7zM2010.5 1168.7h2.1v24.3h-2.1zM2022.4 1050.3h1.7v109.7h-1.7zM2022.2 1054.6h2.1v28.6h-2.1zM2028.2 1056.6h1.7v73.4h-1.7zM2028.0 1056.6h2.1v42.6h-2.1zM2032.1 1089.2h1.7v17.8h-1.7zM2031.9 1093.9h2.1v10.8h-2.1zM2043.8 1054.2h1.7v95.8h-1.7zM2043.6 1064.5h2.1v20.6h-2.1zM2049.7 1067.3h1.7v32.7h-1.7zM2049.5 1075.9h2.1v19.9h-2.1zM2053.5 1078.6h1.7v21.1h-1.7zM2053.3 1084.3h2.1v12.3h-2.1zM2061.3 1034.6h1.7v45.3h-1.7zM2061.1 1042.9h2.1v17.5h-2.1zM2065.2 1022.0h1.7v40.0h-1.7zM2065.0 1036.8h2.1v12.0h-2.1zM2078.9 937.8h1.7v36.7h-1.7zM2078.7 945.6h2.1v18.4h-2.1zM2080.8 951.6h1.7v13.9h-1.7zM2080.6 964.0h2.1v1.3h-2.1zM2082.8 957.6h1.7v17.5h-1.7zM2082.6 965.3h2.1v5.1h-2.1zM2084.7 953.6h1.7v79.4h-1.7zM2084.5 970.4h2.1v50.8h-2.1zM2086.7 956.0h1.7v94.5h-1.7zM2086.5 1021.2h2.1v8.5h-2.1zM2088.6 1015.6h1.7v39.4h-1.7zM2088.4 1029.7h2.1v18.2h-2.1zM2094.5 996.8h1.7v8.7h-1.7zM2094.3 1000.1h2.1v1.0h-2.1zM2100.3 974.9h1.7v68.4h-1.7zM2100.1 984.5h2.1v40.1h-2.1zM2102.3 1008.4h1.7v34.9h-1.7zM2102.1 1024.6h2.1v13.6h-2.1zM2112.0 947.9h1.7v57.1h-1.7zM2111.8 966.5h2.1v20.5h-2.1zM2114.0 986.3h1.7v22.7h-1.7zM2113.8 987.0h2.1v18.2h-2.1zM2119.8 918.3h1.7v74.7h-1.7zM2119.6 926.0h2.1v32.2h-2.1zM2121.8 956.3h1.7v11.7h-1.7zM2121.6 958.3h2.1v1.0h-2.1zM2123.7 923.8h1.7v95.9h-1.7zM2123.5 959.0h2.1v36.2h-2.1zM2125.6 953.2h1.7v110.8h-1.7zM2125.4 995.1h2.1v13.9h-2.1zM2127.6 995.1h1.7v22.1h-1.7zM2127.4 1009.0h2.1v5.3h-2.1zM2129.5 1008.1h1.7v36.3h-1.7zM2129.3 1014.3h2.1v25.3h-2.1zM2147.1 824.1h1.7v87.9h-1.7zM2146.9 824.1h2.1v34.3h-2.1zM2149.0 840.9h1.7v61.2h-1.7zM2148.8 858.4h2.1v36.7h-2.1zM2151.0 853.0h1.7v60.0h-1.7zM2150.8 895.1h2.1v4.8h-2.1zM2152.9 891.0h1.7v38.0h-1.7zM2152.7 899.9h2.1v14.3h-2.1zM2158.8 857.5h1.7v39.9h-1.7zM2158.6 880.7h2.1v12.7h-2.1zM2160.7 887.6h1.7v44.0h-1.7zM2160.5 893.4h2.1v29.4h-2.1zM2162.7 921.3h1.7v9.2h-1.7zM2162.5 922.8h2.1v6.5h-2.1zM2164.6 924.9h1.7v56.3h-1.7zM2164.4 929.3h2.1v48.2h-2.1zM2168.5 967.2h1.7v67.8h-1.7zM2168.3 973.8h2.1v7.9h-2.1zM2170.5 971.2h1.7v20.8h-1.7zM2170.3 981.7h2.1v2.1h-2.1zM2174.4 939.0h1.7v52.6h-1.7zM2174.2 969.1h2.1v9.1h-2.1zM2176.3 963.1h1.7v41.9h-1.7zM2176.1 978.1h2.1v2.2h-2.1zM2178.3 958.2h1.7v40.7h-1.7zM2178.1 980.4h2.1v2.6h-2.1zM2180.2 979.6h1.7v25.1h-1.7zM2180.0 983.0h2.1v18.3h-2.1zM2186.1 939.4h1.7v19.1h-1.7zM2185.9 947.6h2.1v5.7h-2.1zM2188.0 949.1h1.7v55.3h-1.7zM2187.8 953.4h2.1v6.1h-2.1zM2191.9 914.3h1.7v16.8h-1.7zM2191.7 921.1h2.1v7.7h-2.1zM2193.9 886.7h1.7v65.8h-1.7zM2193.7 928.9h2.1v16.2h-2.1zM2205.5 834.1h1.7v85.9h-1.7zM2205.3 840.7h2.1v30.4h-2.1zM2223.1 713.8h1.7v47.2h-1.7zM2222.9 723.4h2.1v4.3h-2.1zM2227.0 706.7h1.7v52.9h-1.7zM2226.8 718.3h2.1v9.7h-2.1zM2230.9 678.1h1.7v16.5h-1.7zM2230.7 685.8h2.1v4.1h-2.1zM2240.6 571.6h1.7v47.4h-1.7zM2240.4 573.7h2.1v8.2h-2.1zM2242.6 568.6h1.7v39.0h-1.7zM2242.4 581.9h2.1v24.4h-2.1zM2244.5 603.7h1.7v46.3h-1.7zM2244.3 606.3h2.1v4.8h-2.1zM2252.3 455.7h1.7v48.3h-1.7zM2252.1 460.5h2.1v40.1h-2.1zM2254.3 491.6h1.7v12.4h-1.7zM2254.1 500.6h2.1v1.0h-2.1zM2260.1 420.4h1.7v51.3h-1.7zM2259.9 427.2h2.1v33.3h-2.1zM2262.1 460.5h1.7v23.5h-1.7zM2261.9 460.5h2.1v4.7h-2.1zM2266.0 413.6h1.7v67.6h-1.7zM2265.8 453.5h2.1v7.4h-2.1zM2267.9 455.7h1.7v27.2h-1.7zM2267.7 460.8h2.1v20.7h-2.1zM2269.9 481.5h1.7v80.1h-1.7zM2269.7 481.5h2.1v77.5h-2.1zM2271.8 547.1h1.7v35.3h-1.7zM2271.6 559.0h2.1v11.6h-2.1zM2273.8 566.1h1.7v67.2h-1.7zM2273.6 570.6h2.1v49.0h-2.1zM2279.6 566.4h1.7v130.6h-1.7zM2279.4 573.1h2.1v2.6h-2.1zM2281.5 553.4h1.7v57.6h-1.7zM2281.3 575.7h2.1v18.0h-2.1zM2289.3 542.2h1.7v34.8h-1.7zM2289.1 545.4h2.1v7.2h-2.1zM2293.2 528.3h1.7v17.4h-1.7zM2293.0 540.9h2.1v1.9h-2.1zM2295.2 540.0h1.7v36.8h-1.7zM2295.0 542.8h2.1v25.9h-2.1zM2299.1 527.7h1.7v49.1h-1.7zM2298.9 527.7h2.1v9.6h-2.1zM2301.0 537.2h1.7v50.6h-1.7zM2300.8 537.2h2.1v47.8h-2.1zM2303.0 578.3h1.7v20.7h-1.7zM2302.8 585.0h2.1v2.9h-2.1zM2304.9 579.3h1.7v70.7h-1.7zM2304.7 588.0h2.1v32.9h-2.1zM2316.6 541.7h1.7v54.0h-1.7zM2316.4 542.3h2.1v46.6h-2.1zM2318.6 587.7h1.7v61.0h-1.7zM2318.4 588.8h2.1v42.4h-2.1zM2322.5 607.6h1.7v81.1h-1.7zM2322.3 607.6h2.1v68.8h-2.1zM2324.4 653.3h1.7v112.7h-1.7zM2324.2 676.4h2.1v35.4h-2.1zM2330.3 666.8h1.7v20.0h-1.7zM2330.1 666.8h2.1v7.1h-2.1zM2332.2 668.6h1.7v92.4h-1.7zM2332.0 673.9h2.1v33.9h-2.1zM2334.2 706.4h1.7v38.6h-1.7zM2334.0 707.8h2.1v20.7h-2.1zM2336.1 722.3h1.7v12.4h-1.7zM2335.9 728.5h2.1v1.9h-2.1zM2345.9 637.5h1.7v54.5h-1.7zM2345.7 654.0h2.1v25.0h-2.1zM2349.8 657.7h1.7v28.1h-1.7zM2349.6 658.1h2.1v23.1h-2.1zM2353.6 643.8h1.7v49.1h-1.7zM2353.4 653.5h2.1v29.2h-2.1zM2357.5 666.2h1.7v24.0h-1.7zM2357.3 668.5h2.1v17.2h-2.1zM2369.2 650.3h1.7v65.7h-1.7zM2369.0 650.3h2.1v19.9h-2.1zM2371.2 668.6h1.7v32.6h-1.7zM2371.0 670.2h2.1v27.3h-2.1zM2373.1 693.1h1.7v24.3h-1.7zM2372.9 697.4h2.1v5.5h-2.1zM2375.1 698.0h1.7v19.9h-1.7zM2374.9 702.9h2.1v3.3h-2.1zM2377.0 702.0h1.7v34.3h-1.7zM2376.8 706.2h2.1v23.6h-2.1zM2379.0 723.5h1.7v39.5h-1.7zM2378.8 729.8h2.1v3.6h-2.1zM2380.9 717.6h1.7v30.3h-1.7zM2380.7 733.4h2.1v11.9h-2.1zM2384.8 726.4h1.7v34.2h-1.7zM2384.6 726.8h2.1v13.6h-2.1zM2404.3 478.0h1.7v74.9h-1.7zM2404.1 481.2h2.1v20.1h-2.1zM2410.2 442.8h1.7v54.3h-1.7zM2410.0 465.1h2.1v16.4h-2.1zM2412.1 471.0h1.7v40.0h-1.7zM2411.9 481.6h2.1v24.9h-2.1zM2418.0 462.3h1.7v15.6h-1.7zM2417.8 470.9h2.1v5.7h-2.1zM2419.9 475.7h1.7v26.4h-1.7zM2419.7 476.7h2.1v8.3h-2.1zM2429.6 458.2h1.7v47.9h-1.7zM2429.4 458.2h2.1v20.4h-2.1zM2431.6 478.6h1.7v29.0h-1.7zM2431.4 478.6h2.1v20.5h-2.1zM2433.5 499.1h1.7v12.7h-1.7zM2433.3 499.1h2.1v10.3h-2.1zM2435.5 506.8h1.7v39.2h-1.7zM2435.3 509.4h2.1v17.8h-2.1zM2437.4 524.9h1.7v13.2h-1.7zM2437.2 527.2h2.1v7.3h-2.1zM2439.4 520.6h1.7v46.2h-1.7zM2439.2 534.5h2.1v22.2h-2.1zM2443.3 525.0h1.7v58.2h-1.7zM2443.1 554.7h2.1v15.3h-2.1zM2445.2 568.3h1.7v39.7h-1.7zM2445.0 569.9h2.1v33.8h-2.1zM2449.1 560.9h1.7v37.1h-1.7zM2448.9 570.6h2.1v19.3h-2.1zM2453.0 573.0h1.7v34.1h-1.7zM2452.8 582.8h2.1v20.4h-2.1zM2458.9 545.4h1.7v11.1h-1.7zM2458.7 553.6h2.1v2.3h-2.1zM2462.8 549.6h1.7v31.4h-1.7zM2462.6 551.1h2.1v16.8h-2.1zM2464.7 561.0h1.7v63.9h-1.7zM2464.5 567.9h2.1v52.4h-2.1zM2468.6 606.5h1.7v35.5h-1.7zM2468.4 615.8h2.1v13.7h-2.1zM2478.4 569.8h1.7v68.0h-1.7zM2478.2 571.3h2.1v3.1h-2.1zM2480.3 574.4h1.7v84.9h-1.7zM2480.1 574.4h2.1v63.6h-2.1zM2482.3 634.4h1.7v78.5h-1.7zM2482.1 638.0h2.1v59.6h-2.1zM2486.2 655.8h1.7v125.2h-1.7zM2486.0 682.1h2.1v13.3h-2.1zM2488.1 689.3h1.7v51.9h-1.7zM2487.9 695.3h2.1v30.5h-2.1zM2492.0 697.6h1.7v76.4h-1.7zM2491.8 720.7h2.1v16.8h-2.1zM2503.7 566.0h1.7v98.1h-1.7zM2503.5 592.2h2.1v37.4h-2.1zM2505.6 627.3h1.7v49.7h-1.7zM2505.4 629.6h2.1v21.1h-2.1zM2517.3 550.1h1.7v13.6h-1.7zM2517.1 559.5h2.1v1.0h-2.1zM2519.3 550.4h1.7v26.9h-1.7zM2519.1 560.0h2.1v2.9h-2.1zM2521.2 559.5h1.7v48.3h-1.7zM2521.0 563.0h2.1v17.0h-2.1zM2523.2 568.9h1.7v44.7h-1.7zM2523.0 579.9h2.1v22.3h-2.1zM2525.1 598.9h1.7v47.9h-1.7zM2524.9 602.2h2.1v32.4h-2.1zM2527.1 612.0h1.7v59.4h-1.7zM2526.9 634.7h2.1v32.4h-2.1zM2531.0 642.8h1.7v45.2h-1.7zM2530.8 663.5h2.1v17.8h-2.1zM2536.8 672.1h1.7v11.0h-1.7zM2536.6 677.2h2.1v5.7h-2.1zM2538.8 667.5h1.7v63.5h-1.7zM2538.6 682.9h2.1v43.0h-2.1zM2542.7 699.9h1.7v64.1h-1.7zM2542.5 715.6h2.1v12.7h-2.1zM2544.6 728.3h1.7v100.0h-1.7zM2544.4 728.3h2.1v58.6h-2.1zM2546.6 786.9h1.7v271.1h-1.7zM2546.4 786.9h2.1v155.7h-2.1zM2556.3 806.4h1.7v80.6h-1.7zM2556.1 843.6h2.1v1.0h-2.1zM2562.2 793.1h1.7v15.7h-1.7zM2562.0 797.0h2.1v9.6h-2.1zM2564.1 803.6h1.7v75.6h-1.7zM2563.9 806.6h2.1v15.4h-2.1zM2566.1 817.3h1.7v30.3h-1.7zM2565.9 821.9h2.1v23.2h-2.1zM2570.0 817.3h1.7v10.0h-1.7zM2569.8 818.2h2.1v5.6h-2.1zM2571.9 821.0h1.7v56.0h-1.7zM2571.7 823.8h2.1v1.0h-2.1zM2575.8 821.2h1.7v31.3h-1.7zM2575.6 823.8h2.1v20.7h-2.1zM2577.7 841.5h1.7v31.0h-1.7zM2577.5 844.5h2.1v9.0h-2.1zM2585.5 806.5h1.7v43.5h-1.7zM2585.3 806.9h2.1v28.2h-2.1zM2587.5 826.6h1.7v72.3h-1.7zM2587.3 835.2h2.1v41.9h-2.1zM2589.4 821.0h1.7v79.3h-1.7zM2589.2 877.1h2.1v23.0h-2.1zM2591.4 896.0h1.7v40.0h-1.7zM2591.2 900.1h2.1v10.5h-2.1zM2597.2 872.0h1.7v33.7h-1.7zM2597.0 890.9h2.1v9.6h-2.1zM2599.2 887.9h1.7v83.1h-1.7zM2599.0 900.6h2.1v11.1h-2.1zM2601.1 907.1h1.7v46.8h-1.7zM2600.9 911.7h2.1v10.2h-2.1zM2603.1 886.5h1.7v45.6h-1.7zM2602.9 921.9h2.1v2.2h-2.1zM2605.0 916.1h1.7v42.5h-1.7zM2604.8 924.1h2.1v25.5h-2.1zM2607.0 930.0h1.7v69.4h-1.7zM2606.8 949.6h2.1v37.2h-2.1zM2610.9 937.8h1.7v104.2h-1.7zM2610.7 953.6h2.1v35.2h-2.1zM2612.8 983.7h1.7v30.3h-1.7zM2612.6 988.8h2.1v21.0h-2.1zM2618.7 969.5h1.7v25.5h-1.7zM2618.5 979.1h2.1v11.1h-2.1zM2622.6 928.4h1.7v54.9h-1.7zM2622.4 954.8h2.1v10.0h-2.1zM2634.3 896.9h1.7v21.0h-1.7zM2634.1 905.0h2.1v6.1h-2.1zM2638.2 894.7h1.7v24.3h-1.7zM2638.0 896.2h2.1v10.9h-2.1zM2647.9 845.2h1.7v19.8h-1.7zM2647.7 851.1h2.1v4.0h-2.1zM2651.8 814.0h1.7v36.5h-1.7zM2651.6 844.4h2.1v2.6h-2.1zM2653.7 837.5h1.7v34.2h-1.7zM2653.5 846.9h2.1v20.5h-2.1zM2657.6 830.3h1.7v140.7h-1.7zM2657.4 830.3h2.1v21.0h-2.1zM2661.5 848.0h1.7v39.4h-1.7zM2661.3 848.0h2.1v13.2h-2.1zM2663.5 861.3h1.7v23.1h-1.7zM2663.3 861.3h2.1v8.8h-2.1zM2665.4 870.0h1.7v65.7h-1.7zM2665.2 870.0h2.1v60.5h-2.1zM2669.3 916.1h1.7v44.9h-1.7zM2669.1 926.4h2.1v6.4h-2.1zM2688.8 799.2h1.7v33.4h-1.7zM2688.6 800.7h2.1v20.2h-2.1zM2690.8 817.8h1.7v25.3h-1.7zM2690.6 820.9h2.1v12.7h-2.1zM2692.7 830.1h1.7v11.0h-1.7zM2692.5 833.7h2.1v3.1h-2.1zM2694.7 803.8h1.7v43.4h-1.7zM2694.5 836.7h2.1v2.5h-2.1zM2696.6 838.6h1.7v21.0h-1.7zM2696.4 839.3h2.1v8.3h-2.1zM2698.6 845.4h1.7v39.9h-1.7zM2698.4 847.6h2.1v26.5h-2.1zM2700.5 863.1h1.7v30.0h-1.7zM2700.3 874.1h2.1v15.4h-2.1zM2702.5 888.8h1.7v41.0h-1.7zM2702.3 889.5h2.1v36.5h-2.1zM2704.4 913.3h1.7v30.7h-1.7zM2704.2 926.0h2.1v12.7h-2.1zM2716.1 850.2h1.7v30.8h-1.7zM2715.9 851.7h2.1v22.9h-2.1zM2718.1 868.2h1.7v27.2h-1.7zM2717.9 874.6h2.1v13.9h-2.1zM2720.0 878.1h1.7v32.8h-1.7zM2719.8 888.5h2.1v10.3h-2.1zM2733.6 701.0h1.7v19.0h-1.7zM2733.4 702.8h2.1v4.6h-2.1zM2735.6 693.9h1.7v37.2h-1.7zM2735.4 707.4h2.1v17.3h-2.1zM2741.4 605.2h1.7v49.3h-1.7zM2741.2 605.2h2.1v28.6h-2.1zM2743.4 631.7h1.7v21.7h-1.7zM2743.2 633.8h2.1v2.3h-2.1zM2745.3 636.1h1.7v72.9h-1.7zM2745.1 636.1h2.1v24.1h-2.1zM2749.2 647.1h1.7v20.0h-1.7zM2749.0 653.4h2.1v6.6h-2.1zM2751.2 658.5h1.7v21.6h-1.7zM2751.0 660.0h2.1v17.2h-2.1zM2762.9 570.5h1.7v62.5h-1.7zM2762.7 573.5h2.1v25.1h-2.1zM2764.8 593.5h1.7v31.7h-1.7zM2764.6 598.6h2.1v24.8h-2.1zM2780.4 515.8h1.7v39.1h-1.7zM2780.2 517.1h2.1v24.0h-2.1zM2790.2 437.7h1.7v53.7h-1.7zM2790.0 455.9h2.1v31.6h-2.1zM2792.1 473.4h1.7v41.8h-1.7zM2791.9 487.5h2.1v26.8h-2.1zM2794.1 485.5h1.7v50.6h-1.7zM2793.9 514.4h2.1v15.3h-2.1zM2803.8 417.2h1.7v81.4h-1.7zM2803.6 417.2h2.1v74.5h-2.1zM2805.7 477.2h1.7v60.1h-1.7zM2805.5 491.7h2.1v43.5h-2.1zM2809.6 459.0h1.7v103.0h-1.7zM2809.4 521.0h2.1v34.3h-2.1zM2811.6 540.4h1.7v74.6h-1.7zM2811.4 555.3h2.1v45.2h-2.1zM2817.4 553.0h1.7v72.7h-1.7zM2817.2 568.7h2.1v55.7h-2.1zM2819.4 608.0h1.7v34.5h-1.7zM2819.2 624.4h2.1v13.8h-2.1zM2821.3 634.8h1.7v22.1h-1.7zM2821.1 638.2h2.1v13.8h-2.1zM2823.3 645.0h1.7v19.0h-1.7zM2823.1 651.9h2.1v2.8h-2.1zM2829.1 625.9h1.7v15.2h-1.7zM2828.9 633.1h2.1v4.9h-2.1zM2844.7 511.4h1.7v93.6h-1.7zM2844.5 511.4h2.1v41.5h-2.1zM2846.7 529.8h1.7v100.2h-1.7zM2846.5 552.9h2.1v46.3h-2.1zM2848.6 593.1h1.7v24.8h-1.7zM2848.4 599.2h2.1v3.2h-2.1zM2850.6 595.5h1.7v33.6h-1.7zM2850.4 602.4h2.1v20.0h-2.1zM2852.5 597.5h1.7v45.0h-1.7zM2852.3 622.3h2.1v12.2h-2.1zM2854.5 591.9h1.7v151.1h-1.7zM2854.3 634.5h2.1v70.4h-2.1zM2860.3 573.6h1.7v80.0h-1.7zM2860.1 604.7h2.1v43.0h-2.1zM2864.2 643.0h1.7v30.5h-1.7zM2864.0 643.4h2.1v5.8h-2.1zM2875.9 562.1h1.7v104.5h-1.7zM2875.7 569.0h2.1v32.9h-2.1zM2879.8 573.9h1.7v59.5h-1.7zM2879.6 574.0h2.1v29.7h-2.1zM2881.7 600.8h1.7v10.3h-1.7zM2881.5 603.7h2.1v1.2h-2.1zM2883.7 599.1h1.7v29.9h-1.7zM2883.5 604.9h2.1v22.7h-2.1zM2887.6 614.2h1.7v97.8h-1.7zM2887.4 624.4h2.1v19.6h-2.1zM2891.5 590.7h1.7v54.7h-1.7zM2891.3 592.5h2.1v33.9h-2.1zM2895.4 619.8h1.7v156.1h-1.7zM2895.2 625.2h2.1v142.8h-2.1zM2897.3 699.6h1.7v168.2h-1.7zM2897.1 768.0h2.1v69.5h-2.1zM2899.3 737.0h1.7v143.3h-1.7zM2899.1 837.5h2.1v27.4h-2.1zM2901.2 819.5h1.7v221.5h-1.7zM2901.0 865.0h2.1v6.4h-2.1zM2905.1 767.7h1.7v67.0h-1.7zM2904.9 771.2h2.1v53.5h-2.1zM2911.0 789.3h1.7v94.7h-1.7zM2910.8 791.3h2.1v51.0h-2.1zM2914.9 828.3h1.7v45.7h-1.7zM2914.7 838.7h2.1v17.3h-2.1zM2926.6 765.9h1.7v89.1h-1.7zM2926.4 771.6h2.1v20.5h-2.1zM2930.5 768.6h1.7v14.3h-1.7zM2930.3 771.4h2.1v1.1h-2.1zM2932.4 771.4h1.7v43.1h-1.7zM2932.2 772.5h2.1v41.4h-2.1zM2938.3 777.0h1.7v42.6h-1.7zM2938.1 777.6h2.1v26.6h-2.1zM2940.2 804.2h1.7v37.9h-1.7zM2940.0 804.2h2.1v13.8h-2.1zM2942.2 818.0h1.7v64.9h-1.7zM2942.0 818.0h2.1v43.7h-2.1zM2944.1 861.6h1.7v49.7h-1.7zM2943.9 861.6h2.1v47.2h-2.1zM2946.1 908.8h1.7v58.2h-1.7zM2945.9 908.8h2.1v25.4h-2.1zM2948.0 930.9h1.7v16.0h-1.7zM2947.8 934.2h2.1v6.0h-2.1zM2949.9 940.2h1.7v20.4h-1.7zM2949.7 940.2h2.1v9.9h-2.1zM2951.9 946.4h1.7v129.6h-1.7zM2951.7 950.2h2.1v8.5h-2.1zM2953.8 949.5h1.7v60.7h-1.7zM2953.6 958.7h2.1v44.6h-2.1zM2955.8 951.6h1.7v104.2h-1.7zM2955.6 1003.3h2.1v15.6h-2.1zM2957.7 1010.4h1.7v106.6h-1.7zM2957.5 1018.9h2.1v34.7h-2.1zM2961.6 965.9h1.7v71.3h-1.7zM2961.4 993.4h2.1v7.8h-2.1zM2963.6 998.3h1.7v120.7h-1.7zM2963.4 1001.2h2.1v4.1h-2.1zM2965.5 1005.2h1.7v58.4h-1.7zM2965.3 1005.2h2.1v41.5h-2.1zM2967.5 1046.7h1.7v92.1h-1.7zM2967.3 1046.7h2.1v83.0h-2.1zM2969.4 1119.0h1.7v19.5h-1.7zM2969.2 1129.7h2.1v7.4h-2.1zM2971.4 1124.5h1.7v84.5h-1.7zM2971.2 1137.1h2.1v32.2h-2.1zM2973.3 1150.2h1.7v53.0h-1.7zM2973.1 1169.3h2.1v16.3h-2.1zM2981.1 1158.0h1.7v32.6h-1.7zM2980.9 1165.1h2.1v10.5h-2.1zM2987.0 1129.2h1.7v66.6h-1.7zM2986.8 1129.7h2.1v6.7h-2.1zM2988.9 1130.2h1.7v10.4h-1.7zM2988.7 1136.4h2.1v1.2h-2.1zM2998.7 1067.0h1.7v46.6h-1.7zM2998.5 1073.6h2.1v23.7h-2.1zM3000.6 1089.4h1.7v45.4h-1.7zM3000.4 1097.3h2.1v12.1h-2.1zM3002.6 1104.7h1.7v69.2h-1.7zM3002.4 1109.4h2.1v47.0h-2.1zM3004.5 1120.0h1.7v87.5h-1.7zM3004.3 1156.3h2.1v29.2h-2.1zM3006.5 1179.9h1.7v57.7h-1.7zM3006.3 1185.6h2.1v33.3h-2.1zM3010.4 1179.9h1.7v63.1h-1.7zM3010.2 1196.0h2.1v9.2h-2.1zM3016.2 1146.0h1.7v43.1h-1.7zM3016.0 1161.6h2.1v10.2h-2.1zM3018.2 1163.9h1.7v64.7h-1.7zM3018.0 1171.7h2.1v26.6h-2.1zM3020.1 1198.3h1.7v102.0h-1.7zM3019.9 1198.3h2.1v81.2h-2.1zM3022.1 1271.8h1.7v99.2h-1.7zM3021.9 1279.6h2.1v59.7h-2.1zM3025.9 1318.1h1.7v155.9h-1.7zM3025.7 1339.0h2.1v30.0h-2.1zM3029.8 1293.0h1.7v35.6h-1.7zM3029.6 1296.0h2.1v1.0h-2.1zM3031.8 1292.2h1.7v40.3h-1.7zM3031.6 1296.1h2.1v28.3h-2.1zM3035.7 1286.3h1.7v82.7h-1.7zM3035.5 1287.3h2.1v12.6h-2.1zM3037.6 1293.2h1.7v33.5h-1.7zM3037.4 1299.9h2.1v12.7h-2.1zM3039.6 1310.4h1.7v27.5h-1.7zM3039.4 1312.6h2.1v19.0h-2.1zM3043.5 1324.7h1.7v37.9h-1.7zM3043.3 1331.5h2.1v12.2h-2.1zM3049.3 1302.6h1.7v55.6h-1.7zM3049.1 1315.9h2.1v5.7h-2.1zM3064.9 1177.5h1.7v15.7h-1.7zM3064.7 1180.9h2.1v3.0h-2.1zM3068.8 1177.9h1.7v6.9h-1.7zM3068.6 1181.2h2.1v1.0h-2.1zM3070.8 1179.9h1.7v65.6h-1.7zM3070.6 1181.3h2.1v1.8h-2.1zM3072.7 1182.2h1.7v35.1h-1.7zM3072.5 1183.1h2.1v29.2h-2.1zM3074.7 1198.0h1.7v34.0h-1.7zM3074.5 1212.4h2.1v6.8h-2.1zM3076.6 1187.4h1.7v36.7h-1.7zM3076.4 1219.2h2.1v1.0h-2.1zM3078.6 1211.4h1.7v32.7h-1.7zM3078.4 1219.7h2.1v14.0h-2.1zM3080.5 1228.6h1.7v17.2h-1.7zM3080.3 1233.6h2.1v6.1h-2.1zM3092.2 823.4h1.7v106.6h-1.7zM3092.0 833.0h2.1v6.4h-2.1zM3094.2 837.3h1.7v9.7h-1.7zM3094.0 839.4h2.1v2.0h-2.1zM3096.1 832.8h1.7v20.9h-1.7zM3095.9 841.4h2.1v11.6h-2.1zM3098.1 810.3h1.7v86.1h-1.7zM3097.9 852.9h2.1v17.9h-2.1zM3100.0 836.5h1.7v78.9h-1.7zM3099.8 870.8h2.1v2.5h-2.1zM3101.9 867.2h1.7v15.1h-1.7zM3101.7 873.3h2.1v5.7h-2.1zM3103.9 859.0h1.7v73.9h-1.7zM3103.7 879.0h2.1v44.5h-2.1zM3105.8 914.0h1.7v52.0h-1.7zM3105.6 923.5h2.1v18.1h-2.1zM3111.7 852.2h1.7v45.8h-1.7zM3111.5 854.5h2.1v7.5h-2.1zM3113.6 857.7h1.7v10.6h-1.7zM3113.4 862.0h2.1v1.8h-2.1zM3115.6 857.1h1.7v24.5h-1.7zM3115.4 863.8h2.1v3.5h-2.1zM3119.5 815.0h1.7v59.7h-1.7zM3119.3 844.1h2.1v23.6h-2.1zM3121.4 863.6h1.7v33.8h-1.7zM3121.2 867.7h2.1v6.4h-2.1zM3123.4 873.3h1.7v27.8h-1.7zM3123.2 874.1h2.1v22.5h-2.1zM3125.3 887.1h1.7v18.9h-1.7zM3125.1 896.6h2.1v3.1h-2.1zM3131.2 793.9h1.7v96.1h-1.7zM3131.0 859.2h2.1v1.8h-2.1zM3133.1 849.9h1.7v42.0h-1.7zM3132.9 861.1h2.1v20.8h-2.1zM3139.0 823.0h1.7v36.9h-1.7zM3138.8 823.0h2.1v36.3h-2.1zM3140.9 850.3h1.7v90.7h-1.7zM3140.7 859.3h2.1v8.4h-2.1zM3142.9 867.5h1.7v10.3h-1.7zM3142.7 867.7h2.1v5.7h-2.1zM3150.7 769.3h1.7v67.7h-1.7zM3150.5 775.9h2.1v6.5h-2.1zM3152.6 782.4h1.7v90.2h-1.7zM3152.4 782.4h2.1v72.7h-2.1zM3154.6 818.1h1.7v74.3h-1.7zM3154.4 855.0h2.1v33.0h-2.1zM3162.4 836.1h1.7v59.6h-1.7zM3162.2 849.7h2.1v45.7h-2.1zM3166.3 865.3h1.7v94.3h-1.7zM3166.1 877.8h2.1v63.1h-2.1zM3168.2 907.3h1.7v102.0h-1.7zM3168.0 941.0h2.1v60.8h-2.1zM3170.2 988.0h1.7v71.0h-1.7zM3170.0 1001.7h2.1v47.8h-2.1zM3179.9 907.2h1.7v36.8h-1.7zM3179.7 924.6h2.1v10.7h-2.1zM3181.8 935.1h1.7v8.0h-1.7zM3181.6 935.2h2.1v5.2h-2.1zM3185.7 916.9h1.7v25.6h-1.7zM3185.5 923.0h2.1v5.9h-2.1zM3189.6 902.5h1.7v39.3h-1.7zM3189.4 915.7h2.1v10.6h-2.1zM3191.6 906.2h1.7v35.2h-1.7zM3191.4 926.3h2.1v10.9h-2.1zM3205.2 702.4h1.7v156.6h-1.7zM3205.0 741.9h2.1v18.0h-2.1zM3209.1 727.9h1.7v45.6h-1.7zM3208.9 757.5h2.1v2.7h-2.1zM3222.8 514.9h1.7v66.2h-1.7zM3222.6 531.6h2.1v15.6h-2.1zM3228.6 488.4h1.7v44.7h-1.7zM3228.4 499.7h2.1v22.9h-2.1zM3230.6 511.7h1.7v23.2h-1.7zM3230.4 522.6h2.1v1.0h-2.1zM3232.5 480.4h1.7v57.9h-1.7zM3232.3 523.0h2.1v1.9h-2.1zM3234.5 504.8h1.7v56.2h-1.7zM3234.3 524.9h2.1v25.1h-2.1zM3242.3 483.0h1.7v35.0h-1.7zM3242.1 485.9h2.1v4.6h-2.1zM3246.2 458.0h1.7v6.2h-1.7zM3246.0 458.0h2.1v2.9h-2.1zM3248.1 460.9h1.7v47.1h-1.7zM3247.9 460.9h2.1v18.4h-2.1zM3250.0 479.3h1.7v25.3h-1.7zM3249.8 479.3h2.1v18.4h-2.1zM3252.0 497.7h1.7v106.3h-1.7zM3251.8 497.7h2.1v41.0h-2.1zM3255.9 525.5h1.7v29.1h-1.7zM3255.7 536.9h2.1v3.6h-2.1zM3257.8 534.7h1.7v26.3h-1.7zM3257.6 540.5h2.1v11.3h-2.1zM3277.3 276.9h1.7v62.1h-1.7zM3277.1 286.7h2.1v41.1h-2.1zM3279.3 327.0h1.7v26.9h-1.7zM3279.1 327.9h2.1v25.8h-2.1zM3285.1 307.5h1.7v35.6h-1.7zM3284.9 316.5h2.1v10.8h-2.1zM3287.1 309.8h1.7v97.0h-1.7zM3286.9 327.3h2.1v30.8h-2.1zM3292.9 290.4h1.7v20.6h-1.7zM3292.7 292.7h2.1v6.4h-2.1zM3296.8 277.4h1.7v13.4h-1.7zM3296.6 279.4h2.1v10.8h-2.1zM3298.8 285.0h1.7v45.1h-1.7zM3298.6 290.2h2.1v38.3h-2.1zM3300.7 327.5h1.7v34.8h-1.7zM3300.5 328.5h2.1v30.2h-2.1zM3306.6 339.3h1.7v21.5h-1.7zM3306.4 352.7h2.1v3.0h-2.1zM3312.4 335.8h1.7v10.3h-1.7zM3312.2 337.6h2.1v5.4h-2.1zM3316.3 320.1h1.7v37.1h-1.7zM3316.1 335.8h2.1v19.0h-2.1zM3318.3 349.1h1.7v25.8h-1.7zM3318.1 354.8h2.1v3.8h-2.1zM3320.2 356.4h1.7v15.9h-1.7zM3320.0 358.6h2.1v11.1h-2.1zM3324.1 360.8h1.7v8.0h-1.7zM3323.9 363.3h2.1v3.2h-2.1zM3331.9 315.8h1.7v38.2h-1.7zM3331.7 331.3h2.1v15.7h-2.1zM3333.8 331.5h1.7v23.0h-1.7zM3333.6 347.1h2.1v3.0h-2.1zM3337.7 327.4h1.7v21.2h-1.7zM3337.5 336.5h2.1v8.4h-2.1zM3347.5 294.3h1.7v5.9h-1.7zM3347.3 294.3h2.1v5.8h-2.1zM3349.4 297.1h1.7v29.6h-1.7zM3349.2 300.1h2.1v15.7h-2.1zM3351.4 315.8h1.7v57.5h-1.7zM3351.2 315.8h2.1v37.3h-2.1zM3353.3 353.1h1.7v54.7h-1.7zM3353.1 353.1h2.1v46.0h-2.1zM3355.3 383.5h1.7v94.5h-1.7zM3355.1 399.1h2.1v55.4h-2.1zM3361.1 420.9h1.7v49.0h-1.7zM3360.9 429.0h2.1v12.5h-2.1zM3368.9 308.5h1.7v64.5h-1.7zM3368.7 308.7h2.1v13.5h-2.1zM3372.8 275.4h1.7v53.2h-1.7zM3372.6 277.1h2.1v41.3h-2.1zM3374.8 317.8h1.7v18.0h-1.7zM3374.6 318.4h2.1v16.4h-2.1zM3376.7 331.7h1.7v34.4h-1.7zM3376.5 334.8h2.1v15.5h-2.1zM3380.6 280.4h1.7v56.4h-1.7zM3380.4 291.4h2.1v17.8h-2.1zM3384.5 284.1h1.7v75.7h-1.7zM3384.3 284.1h2.1v29.5h-2.1zM3386.5 313.5h1.7v246.5h-1.7zM3386.3 313.5h2.1v60.4h-2.1zM3390.4 363.1h1.7v62.3h-1.7zM3390.2 371.0h2.1v53.9h-2.1zM3394.3 372.4h1.7v120.6h-1.7zM3394.1 377.7h2.1v53.1h-2.1zM3398.2 396.9h1.7v36.7h-1.7zM3398.0 417.8h2.1v5.2h-2.1zM3402.0 401.7h1.7v106.3h-1.7zM3401.8 411.1h2.1v40.2h-2.1zM3405.9 439.4h1.7v30.9h-1.7zM3405.7 445.7h2.1v7.7h-2.1zM3409.8 445.4h1.7v51.1h-1.7zM3409.6 451.2h2.1v18.8h-2.1zM3415.7 409.6h1.7v93.5h-1.7zM3415.5 419.1h2.1v77.9h-2.1zM3421.5 469.2h1.7v47.7h-1.7zM3421.3 470.8h2.1v37.7h-2.1zM3425.4 466.6h1.7v54.1h-1.7zM3425.2 491.0h2.1v11.0h-2.1zM3427.4 448.0h1.7v94.0h-1.7zM3427.2 501.9h2.1v28.3h-2.1zM3429.3 519.2h1.7v41.0h-1.7zM3429.1 530.3h2.1v28.2h-2.1zM3431.3 545.0h1.7v65.9h-1.7zM3431.1 558.4h2.1v29.1h-2.1zM3435.2 550.0h1.7v85.9h-1.7zM3435.0 566.2h2.1v55.0h-2.1zM3437.1 611.8h1.7v87.2h-1.7zM3436.9 621.2h2.1v68.6h-2.1zM3448.8 553.6h1.7v24.3h-1.7zM3448.6 560.6h2.1v3.7h-2.1zM3452.7 559.6h1.7v40.2h-1.7zM3452.5 559.6h2.1v4.4h-2.1zM3454.7 564.0h1.7v52.5h-1.7zM3454.5 564.0h2.1v42.5h-2.1zM3456.6 606.5h1.7v107.5h-1.7zM3456.4 606.5h2.1v46.9h-2.1z"/>
<path d="M3282 1410H3290L3292 1560H3297L3303 1147H3308L3310.7 1213H3314L3316 1267H3325L3327 1136H3337L3339 1265H3355L3357 1524L3360 1310H3366L3369 1434L3372 1310H3380L3386 1192L3389.6 1434L3393 1310H3401L3402 1192H3408L3408.4 1070.7H3435L3440 949L3441 828H3444L3446 1015L3447 828H3452L3455 904H3458L3460 950.5H3461" fill="none" stroke="#d4ecfb" stroke-width="3"/><path d="M3272.6 1748.7H3284.4L3286 1609H3289L3291 1763H3300.6L3302.4 1636H3314L3319.6 1657.5H3328L3330.4 1787.5L3335.8 1657.5L3339.5 1787.5L3344.8 1657.5L3350.3 1787.5L3352 1673.8H3368L3370 1796.5L3377 1673.8L3378 1796.5L3380 1673.8H3392L3394 1657.5H3406L3407.5 1796.5L3413.5 1686.4H3438.8L3440.6 1578H3451.4L3453 1690H3454L3455.6 1578H3460.4" fill="none" stroke="#fde3e7" stroke-width="3"/><path d="M3271.0 1748.7 L3272.0 1578.0 L3284.0 1578.0 L3286.4 1456.0 L3289.7 1456.0 L3291.9 1608.7 L3300.5 1608.7 L3301.6 1636.0 L3303.8 1494.0 L3316.8 1494.0 L3317.9 1433.0 L3323.3 1433.0 L3325.0 1657.0 L3326.7 1526.0 L3328.8 1526.0 L3334.3 1657.0 L3339.0 1657.0 L3340.5 1526.0 L3341.5 1526.0 L3343.5 1657.0 L3345.0 1657.0 L3347.8 1526.0 L3349.0 1526.0 L3351.6 1657.0 L3353.0 1526.0 L3368.5 1526.0 L3370.0 1657.0 L3372.2 1526.0 L3374.5 1526.0 L3376.0 1657.0 L3378.7 1526.0 L3380.5 1657.0 L3383.5 1526.0 L3390.5 1526.0 L3392.0 1657.0 L3395.5 1526.0 L3404.5 1526.0 L3406.5 1657.0 L3411.7 1657.0 L3413.9 1554.8 L3422.5 1554.8 L3424.7 1675.4 L3426.9 1554.8 L3461.5 1554.8" fill="none" stroke="#FF0000" stroke-width="3" stroke-linejoin="miter"/><path d="M3068 1917.4H3247V1729H3270L3275 1410H3282.5L3287.5 1610H3292L3296 1455H3300.5L3303.5 1211H3314L3315 1071L3317.7 1266H3323L3324.7 1135H3327L3329 1266L3331 1135H3332L3334 1266H3336L3337 1396L3339 1266H3341L3344 1539L3347.7 1266H3353L3356 1396L3358 1267H3407L3408.5 1135H3411.6L3413 1191H3423.7L3424 949.4L3427 1070.7L3430.4 950.5H3435.8L3439 829.6H3461" fill="none" stroke="#00BFFF" stroke-width="3" stroke-linejoin="miter"/>
<path d="M44.4 814.0H383.8a3 3 0 0 1 3 3V842.8a3 3 0 0 1 -3 3H44.4a3 3 0 0 1 -3 -3V817.0a3 3 0 0 1 3 -3z" fill="#00BFFF"/><rect x="148.2" y="814.0" width="2" height="31.8" fill="#ffffff"/><text x="51.8" y="837.8" fill="#131722" font-size="23.5" textLength="82.3" lengthAdjust="spacingAndGlyphs">64.29%</text><text x="159.0" y="837.8" fill="#131722" font-size="23.5" textLength="219.7" lengthAdjust="spacingAndGlyphs">mNAV &lt; 1 Enterprise</text><path d="M44.4 934.3H269.3a3 3 0 0 1 3 3V962.8a3 3 0 0 1 -3 3H44.4a3 3 0 0 1 -3 -3V937.3a3 3 0 0 1 3 -3z" fill="#87CEFA"/><rect x="148.2" y="934.3" width="2" height="31.5" fill="#ffffff"/><text x="51.8" y="957.9" fill="#131722" font-size="23.5" textLength="82.3" lengthAdjust="spacingAndGlyphs">57.14%</text><text x="159.0" y="957.9" fill="#131722" font-size="23.5" textLength="101.0" lengthAdjust="spacingAndGlyphs">mNAV &lt; 1</text><path d="M44.4 1538.8H383.8a3 3 0 0 1 3 3V1566.9a3 3 0 0 1 -3 3H44.4a3 3 0 0 1 -3 -3V1541.8a3 3 0 0 1 3 -3z" fill="#FF0000"/><rect x="148.2" y="1538.8" width="2" height="31.1" fill="#ffffff"/><text x="51.8" y="1562.2" fill="#ffffff" font-size="23.5" textLength="82.3" lengthAdjust="spacingAndGlyphs">21.43%</text><text x="159.0" y="1562.2" fill="#ffffff" font-size="23.5" textLength="219.7" lengthAdjust="spacingAndGlyphs">mNAV ≥ 4 Enterprise</text><path d="M44.4 1569.9H269.3a3 3 0 0 1 3 3V1599.2a3 3 0 0 1 -3 3H44.4a3 3 0 0 1 -3 -3V1572.9a3 3 0 0 1 3 -3z" fill="#FFB6C1"/><rect x="148.2" y="1569.9" width="2" height="32.3" fill="#ffffff"/><text x="51.8" y="1593.9" fill="#131722" font-size="23.5" textLength="82.3" lengthAdjust="spacingAndGlyphs">20.00%</text><text x="159.0" y="1593.9" fill="#131722" font-size="23.5" textLength="101.0" lengthAdjust="spacingAndGlyphs">mNAV ≥ 4</text>
<path d="M3744 654.2H3969a3 3 0 0 1 3 3V682.7a3 3 0 0 1 -3 3H3744a3 3 0 0 1 -3 -3V657.2a3 3 0 0 1 3 -3z" fill="#089981"/><rect x="3847.7" y="654.2" width="2" height="31.5" fill="#ffffff"/><text x="3750.0" y="676.5" fill="#ffffff" font-size="23.5" textLength="88.0" lengthAdjust="spacingAndGlyphs">ETHUSD</text><text x="3864.5" y="676.5" fill="#ffffff" font-size="23.5" textLength="95.5" lengthAdjust="spacingAndGlyphs">3,146.85</text>
<text x="167.4" y="56.0" fill="#131722" font-size="23.5" textLength="351.0" lengthAdjust="spacingAndGlyphs">ETHEREUM / USD, 1D, COINBASE</text><text x="533.2" y="56.0" fill="#131722" font-size="23.5">O</text><text x="551.0" y="56.0" fill="#089981" font-size="23.5" textLength="92.4" lengthAdjust="spacingAndGlyphs">3,092.24</text><text x="659.6" y="56.0" fill="#131722" font-size="23.5">H</text><text x="675.2" y="56.0" fill="#089981" font-size="23.5" textLength="85.8" lengthAdjust="spacingAndGlyphs">3,158.61</text><text x="776.2" y="56.0" fill="#131722" font-size="23.5">L</text><text x="788.8" y="56.0" fill="#089981" font-size="23.5" textLength="92.1" lengthAdjust="spacingAndGlyphs">3,066.70</text><text x="896.0" y="56.0" fill="#131722" font-size="23.5">C</text><text x="912.4" y="56.0" fill="#089981" font-size="23.5" textLength="89.6" lengthAdjust="spacingAndGlyphs">3,146.85</text><text x="1017.0" y="56.0" fill="#089981" font-size="23.5" textLength="173.0" lengthAdjust="spacingAndGlyphs">+54.60 (+1.77%)</text><text x="167.8" y="87.8" fill="#131722" font-size="23.5" textLength="718.2" lengthAdjust="spacingAndGlyphs">(Capriole.com) Ethereum Treasuries Company mNAV Percentiles (0)</text><text x="901.0" y="87.8" fill="#87CEFA" font-size="23.5" textLength="74.5" lengthAdjust="spacingAndGlyphs">57.14%</text><text x="990.6" y="87.8" fill="#FFB6C1" font-size="23.5" textLength="79.4" lengthAdjust="spacingAndGlyphs">20.00%</text><text x="1085.3" y="87.8" fill="#00BFFF" font-size="23.5" textLength="80.7" lengthAdjust="spacingAndGlyphs">64.29%</text><text x="1181.0" y="87.8" fill="#FF0000" font-size="23.5" textLength="75.9" lengthAdjust="spacingAndGlyphs">21.43%</text>
<path d="M18.9 2160.1H33.3V2178H25.9V2166.4H18.9z" fill="#131722"/><circle cx="39.5" cy="2163.4" r="3.6" fill="#131722"/><path d="M46.5 2160.1H55.4L48.8 2178H39.9z" fill="#131722"/><text x="63.2" y="2179.2" fill="#131722" font-size="25.0" textLength="138.2" lengthAdjust="spacingAndGlyphs">TradingView</text>
</svg></body></html>
